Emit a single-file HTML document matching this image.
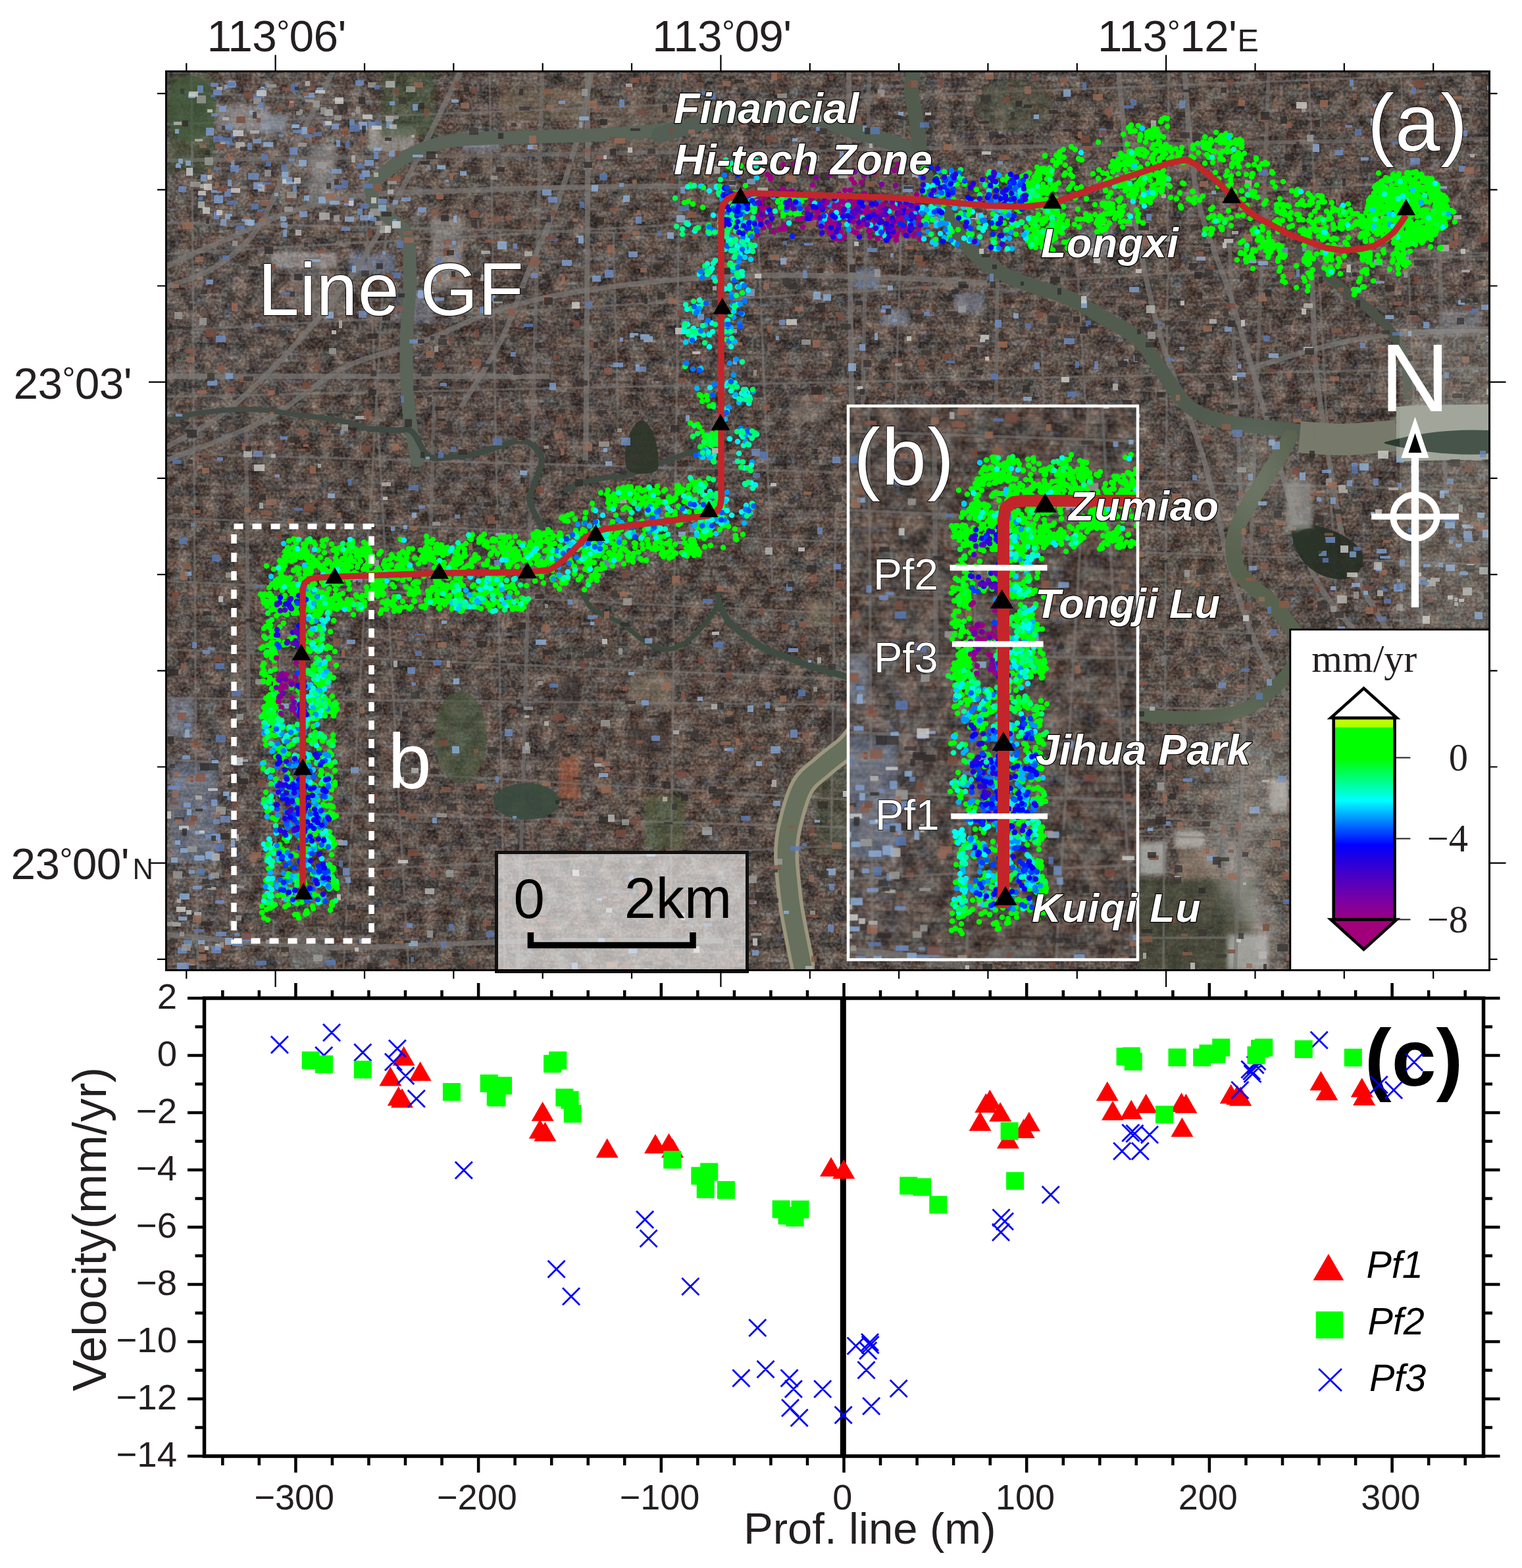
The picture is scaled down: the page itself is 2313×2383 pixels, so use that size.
<!DOCTYPE html><html><head><meta charset="utf-8"><title>Line GF InSAR</title><style>html,body{margin:0;padding:0;background:#fff;}svg{display:block;}</style></head><body><svg width="2313" height="2383" viewBox="0 0 2313 2383" font-family="Liberation Sans, Arial, Helvetica, sans-serif">
<defs>
<pattern id="bld1" width="96" height="96" patternUnits="userSpaceOnUse" patternTransform="rotate(2)"><rect x="1.0" y="2.0" width="10.8" height="4.7" fill="#7e6458"/><rect x="1.0" y="6.7" width="10.8" height="1.5" fill="#2a2624"/><rect x="13.8" y="2.0" width="7.6" height="4.7" fill="#a8a4a0"/><rect x="13.8" y="6.7" width="7.6" height="2.6" fill="#2a2624"/><rect x="22.6" y="2.0" width="4.2" height="4.7" fill="#a8a4a0"/><rect x="22.6" y="6.7" width="4.2" height="1.9" fill="#2a2624"/><rect x="29.3" y="2.0" width="4.0" height="4.7" fill="#6c84b0"/><rect x="29.3" y="6.7" width="4.0" height="1.5" fill="#2a2624"/><rect x="35.9" y="2.0" width="8.7" height="4.7" fill="#7e6458"/><rect x="35.9" y="6.7" width="8.7" height="2.8" fill="#2a2624"/><rect x="45.7" y="2.0" width="4.2" height="4.7" fill="#8c6c5e"/><rect x="45.7" y="6.7" width="4.2" height="2.9" fill="#2a2624"/><rect x="51.7" y="2.0" width="5.7" height="4.7" fill="#a8a4a0"/><rect x="51.7" y="6.7" width="5.7" height="2.5" fill="#2a2624"/><rect x="59.5" y="2.0" width="10.1" height="4.7" fill="#6c84b0"/><rect x="59.5" y="6.7" width="10.1" height="2.1" fill="#2a2624"/><rect x="71.3" y="2.0" width="9.4" height="4.7" fill="#6c84b0"/><rect x="71.3" y="6.7" width="9.4" height="2.9" fill="#2a2624"/><rect x="83.5" y="2.0" width="7.3" height="4.7" fill="#7e6458"/><rect x="83.5" y="6.7" width="7.3" height="1.4" fill="#2a2624"/><rect x="1.0" y="13.1" width="6.7" height="4.6" fill="#a8a4a0"/><rect x="1.0" y="17.7" width="6.7" height="2.0" fill="#2a2624"/><rect x="10.5" y="13.1" width="5.5" height="4.6" fill="#858280"/><rect x="10.5" y="17.7" width="5.5" height="2.2" fill="#2a2624"/><rect x="18.8" y="13.1" width="10.8" height="4.6" fill="#a8a4a0"/><rect x="18.8" y="17.7" width="10.8" height="2.2" fill="#2a2624"/><rect x="30.6" y="13.1" width="5.9" height="4.6" fill="#a8a4a0"/><rect x="30.6" y="17.7" width="5.9" height="1.8" fill="#2a2624"/><rect x="37.9" y="13.1" width="8.4" height="4.6" fill="#5e5452"/><rect x="37.9" y="17.7" width="8.4" height="1.2" fill="#2a2624"/><rect x="48.6" y="13.1" width="4.9" height="4.6" fill="#9a7a6a"/><rect x="48.6" y="17.7" width="4.9" height="2.0" fill="#2a2624"/><rect x="55.3" y="13.1" width="7.9" height="4.6" fill="#8c6c5e"/><rect x="55.3" y="17.7" width="7.9" height="1.9" fill="#2a2624"/><rect x="64.8" y="13.1" width="10.8" height="4.6" fill="#a8a4a0"/><rect x="64.8" y="17.7" width="10.8" height="2.3" fill="#2a2624"/><rect x="76.9" y="13.1" width="5.8" height="4.6" fill="#8c6c5e"/><rect x="76.9" y="17.7" width="5.8" height="2.5" fill="#2a2624"/><rect x="84.8" y="13.1" width="10.9" height="4.6" fill="#6e6a68"/><rect x="84.8" y="17.7" width="10.9" height="1.8" fill="#2a2624"/><rect x="1.0" y="24.1" width="11.3" height="5.8" fill="#8c6c5e"/><rect x="1.0" y="29.9" width="11.3" height="1.8" fill="#2a2624"/><rect x="15.0" y="24.1" width="11.6" height="5.8" fill="#9a7a6a"/><rect x="15.0" y="29.9" width="11.6" height="2.0" fill="#2a2624"/><rect x="28.8" y="24.1" width="7.4" height="5.8" fill="#8c6c5e"/><rect x="28.8" y="29.9" width="7.4" height="2.0" fill="#2a2624"/><rect x="37.9" y="24.1" width="8.4" height="5.8" fill="#a8a4a0"/><rect x="37.9" y="29.9" width="8.4" height="2.0" fill="#2a2624"/><rect x="48.0" y="24.1" width="6.8" height="5.8" fill="#5e5452"/><rect x="48.0" y="29.9" width="6.8" height="1.9" fill="#2a2624"/><rect x="55.9" y="24.1" width="5.8" height="5.8" fill="#9a7a6a"/><rect x="55.9" y="29.9" width="5.8" height="2.1" fill="#2a2624"/><rect x="63.1" y="24.1" width="4.7" height="5.8" fill="#858280"/><rect x="63.1" y="29.9" width="4.7" height="1.1" fill="#2a2624"/><rect x="70.7" y="24.1" width="4.6" height="5.8" fill="#8c6c5e"/><rect x="70.7" y="29.9" width="4.6" height="1.9" fill="#2a2624"/><rect x="77.8" y="24.1" width="6.2" height="5.8" fill="#858280"/><rect x="77.8" y="29.9" width="6.2" height="1.2" fill="#2a2624"/><rect x="86.3" y="24.1" width="6.8" height="5.8" fill="#7e6458"/><rect x="86.3" y="29.9" width="6.8" height="1.3" fill="#2a2624"/><rect x="1.0" y="36.7" width="9.2" height="7.3" fill="#858280"/><rect x="1.0" y="44.0" width="9.2" height="1.9" fill="#2a2624"/><rect x="11.8" y="36.7" width="7.8" height="7.3" fill="#8c6c5e"/><rect x="11.8" y="44.0" width="7.8" height="1.6" fill="#2a2624"/><rect x="21.3" y="36.7" width="10.4" height="7.3" fill="#858280"/><rect x="21.3" y="44.0" width="10.4" height="1.2" fill="#2a2624"/><rect x="34.5" y="36.7" width="8.1" height="7.3" fill="#6e6a68"/><rect x="34.5" y="44.0" width="8.1" height="2.9" fill="#2a2624"/><rect x="44.4" y="36.7" width="11.8" height="7.3" fill="#6e6a68"/><rect x="44.4" y="44.0" width="11.8" height="1.0" fill="#2a2624"/><rect x="57.5" y="36.7" width="9.8" height="7.3" fill="#9a7a6a"/><rect x="57.5" y="44.0" width="9.8" height="1.9" fill="#2a2624"/><rect x="69.3" y="36.7" width="7.4" height="7.3" fill="#6e6a68"/><rect x="69.3" y="44.0" width="7.4" height="3.0" fill="#2a2624"/><rect x="79.0" y="36.7" width="9.6" height="7.3" fill="#6c84b0"/><rect x="79.0" y="44.0" width="9.6" height="1.4" fill="#2a2624"/><rect x="90.8" y="36.7" width="7.2" height="7.3" fill="#5e5452"/><rect x="90.8" y="44.0" width="7.2" height="2.3" fill="#2a2624"/><rect x="1.0" y="49.9" width="5.7" height="4.6" fill="#8c6c5e"/><rect x="1.0" y="54.5" width="5.7" height="1.6" fill="#2a2624"/><rect x="9.4" y="49.9" width="6.5" height="4.6" fill="#858280"/><rect x="9.4" y="54.5" width="6.5" height="2.5" fill="#2a2624"/><rect x="17.7" y="49.9" width="6.0" height="4.6" fill="#8c6c5e"/><rect x="17.7" y="54.5" width="6.0" height="2.1" fill="#2a2624"/><rect x="26.4" y="49.9" width="8.7" height="4.6" fill="#6e6a68"/><rect x="26.4" y="54.5" width="8.7" height="2.9" fill="#2a2624"/><rect x="37.3" y="49.9" width="5.4" height="4.6" fill="#8c6c5e"/><rect x="37.3" y="54.5" width="5.4" height="1.8" fill="#2a2624"/><rect x="44.4" y="49.9" width="5.6" height="4.6" fill="#a8a4a0"/><rect x="44.4" y="54.5" width="5.6" height="2.2" fill="#2a2624"/><rect x="52.0" y="49.9" width="11.5" height="4.6" fill="#a8a4a0"/><rect x="52.0" y="54.5" width="11.5" height="1.6" fill="#2a2624"/><rect x="65.5" y="49.9" width="6.6" height="4.6" fill="#a8a4a0"/><rect x="65.5" y="54.5" width="6.6" height="2.8" fill="#2a2624"/><rect x="73.2" y="49.9" width="5.6" height="4.6" fill="#5e5452"/><rect x="73.2" y="54.5" width="5.6" height="2.6" fill="#2a2624"/><rect x="80.9" y="49.9" width="5.1" height="4.6" fill="#a8a4a0"/><rect x="80.9" y="54.5" width="5.1" height="1.4" fill="#2a2624"/><rect x="88.3" y="49.9" width="10.7" height="4.6" fill="#5e5452"/><rect x="88.3" y="54.5" width="10.7" height="2.8" fill="#2a2624"/><rect x="1.0" y="59.7" width="8.3" height="7.8" fill="#7e6458"/><rect x="1.0" y="67.5" width="8.3" height="2.5" fill="#2a2624"/><rect x="10.4" y="59.7" width="5.4" height="7.8" fill="#6e6a68"/><rect x="10.4" y="67.5" width="5.4" height="1.5" fill="#2a2624"/><rect x="17.5" y="59.7" width="8.0" height="7.8" fill="#858280"/><rect x="17.5" y="67.5" width="8.0" height="1.7" fill="#2a2624"/><rect x="27.2" y="59.7" width="6.3" height="7.8" fill="#6c84b0"/><rect x="27.2" y="67.5" width="6.3" height="1.3" fill="#2a2624"/><rect x="35.6" y="59.7" width="4.8" height="7.8" fill="#8c6c5e"/><rect x="35.6" y="67.5" width="4.8" height="1.8" fill="#2a2624"/><rect x="42.2" y="59.7" width="11.9" height="7.8" fill="#9a7a6a"/><rect x="42.2" y="67.5" width="11.9" height="2.7" fill="#2a2624"/><rect x="55.8" y="59.7" width="8.9" height="7.8" fill="#a8a4a0"/><rect x="55.8" y="67.5" width="8.9" height="1.2" fill="#2a2624"/><rect x="66.8" y="59.7" width="8.5" height="7.8" fill="#858280"/><rect x="66.8" y="67.5" width="8.5" height="1.7" fill="#2a2624"/><rect x="77.0" y="59.7" width="8.3" height="7.8" fill="#7e6458"/><rect x="77.0" y="67.5" width="8.3" height="1.9" fill="#2a2624"/><rect x="86.8" y="59.7" width="10.3" height="7.8" fill="#858280"/><rect x="86.8" y="67.5" width="10.3" height="1.0" fill="#2a2624"/><rect x="1.0" y="70.9" width="11.1" height="4.6" fill="#8c6c5e"/><rect x="1.0" y="75.5" width="11.1" height="1.4" fill="#2a2624"/><rect x="14.7" y="70.9" width="8.7" height="4.6" fill="#9a7a6a"/><rect x="14.7" y="75.5" width="8.7" height="1.2" fill="#2a2624"/><rect x="24.7" y="70.9" width="5.9" height="4.6" fill="#7e6458"/><rect x="24.7" y="75.5" width="5.9" height="1.9" fill="#2a2624"/><rect x="33.5" y="70.9" width="10.5" height="4.6" fill="#858280"/><rect x="33.5" y="75.5" width="10.5" height="2.1" fill="#2a2624"/><rect x="46.4" y="70.9" width="6.5" height="4.6" fill="#6e6a68"/><rect x="46.4" y="75.5" width="6.5" height="2.3" fill="#2a2624"/><rect x="54.0" y="70.9" width="4.1" height="4.6" fill="#858280"/><rect x="54.0" y="75.5" width="4.1" height="2.5" fill="#2a2624"/><rect x="59.7" y="70.9" width="7.1" height="4.6" fill="#a8a4a0"/><rect x="59.7" y="75.5" width="7.1" height="1.1" fill="#2a2624"/><rect x="69.7" y="70.9" width="11.8" height="4.6" fill="#6c84b0"/><rect x="69.7" y="75.5" width="11.8" height="1.2" fill="#2a2624"/><rect x="82.9" y="70.9" width="8.9" height="4.6" fill="#6c84b0"/><rect x="82.9" y="75.5" width="8.9" height="2.3" fill="#2a2624"/><rect x="1.0" y="80.6" width="6.0" height="5.5" fill="#7e6458"/><rect x="1.0" y="86.2" width="6.0" height="2.6" fill="#2a2624"/><rect x="8.1" y="80.6" width="10.0" height="5.5" fill="#7e6458"/><rect x="8.1" y="86.2" width="10.0" height="2.3" fill="#2a2624"/><rect x="20.5" y="80.6" width="11.5" height="5.5" fill="#a8a4a0"/><rect x="20.5" y="86.2" width="11.5" height="2.9" fill="#2a2624"/><rect x="33.1" y="80.6" width="5.5" height="5.5" fill="#858280"/><rect x="33.1" y="86.2" width="5.5" height="1.5" fill="#2a2624"/><rect x="39.8" y="80.6" width="8.9" height="5.5" fill="#7e6458"/><rect x="39.8" y="86.2" width="8.9" height="1.5" fill="#2a2624"/><rect x="49.7" y="80.6" width="6.0" height="5.5" fill="#7e6458"/><rect x="49.7" y="86.2" width="6.0" height="1.5" fill="#2a2624"/><rect x="58.4" y="80.6" width="9.8" height="5.5" fill="#8c6c5e"/><rect x="58.4" y="86.2" width="9.8" height="2.3" fill="#2a2624"/><rect x="69.8" y="80.6" width="10.3" height="5.5" fill="#6c84b0"/><rect x="69.8" y="86.2" width="10.3" height="1.9" fill="#2a2624"/><rect x="82.9" y="80.6" width="4.8" height="5.5" fill="#5e5452"/><rect x="82.9" y="86.2" width="4.8" height="1.2" fill="#2a2624"/><rect x="90.6" y="80.6" width="5.4" height="5.5" fill="#9a7a6a"/><rect x="90.6" y="86.2" width="5.4" height="3.0" fill="#2a2624"/></pattern><pattern id="bld2" width="80" height="80" patternUnits="userSpaceOnUse" patternTransform="rotate(-3) translate(17 23)"><rect x="1.0" y="2.0" width="11.6" height="8.8" fill="#8c6c5e"/><rect x="1.0" y="10.8" width="11.6" height="1.2" fill="#2a2624"/><rect x="14.3" y="2.0" width="5.4" height="8.8" fill="#858280"/><rect x="14.3" y="10.8" width="5.4" height="1.5" fill="#2a2624"/><rect x="21.1" y="2.0" width="4.3" height="8.8" fill="#9a7a6a"/><rect x="21.1" y="10.8" width="4.3" height="3.0" fill="#2a2624"/><rect x="27.6" y="2.0" width="10.4" height="8.8" fill="#5e5452"/><rect x="27.6" y="10.8" width="10.4" height="2.1" fill="#2a2624"/><rect x="40.0" y="2.0" width="6.1" height="8.8" fill="#8c6c5e"/><rect x="40.0" y="10.8" width="6.1" height="2.7" fill="#2a2624"/><rect x="47.8" y="2.0" width="11.5" height="8.8" fill="#a8a4a0"/><rect x="47.8" y="10.8" width="11.5" height="1.8" fill="#2a2624"/><rect x="62.1" y="2.0" width="5.3" height="8.8" fill="#9a7a6a"/><rect x="62.1" y="10.8" width="5.3" height="1.5" fill="#2a2624"/><rect x="68.4" y="2.0" width="6.6" height="8.8" fill="#9a7a6a"/><rect x="68.4" y="10.8" width="6.6" height="2.0" fill="#2a2624"/><rect x="1.0" y="15.8" width="12.0" height="6.8" fill="#6c84b0"/><rect x="1.0" y="22.6" width="12.0" height="2.6" fill="#2a2624"/><rect x="15.4" y="15.8" width="11.3" height="6.8" fill="#5e5452"/><rect x="15.4" y="22.6" width="11.3" height="2.6" fill="#2a2624"/><rect x="28.4" y="15.8" width="11.8" height="6.8" fill="#6c84b0"/><rect x="28.4" y="22.6" width="11.8" height="1.3" fill="#2a2624"/><rect x="42.7" y="15.8" width="9.7" height="6.8" fill="#6c84b0"/><rect x="42.7" y="22.6" width="9.7" height="2.3" fill="#2a2624"/><rect x="54.0" y="15.8" width="6.2" height="6.8" fill="#6c84b0"/><rect x="54.0" y="22.6" width="6.2" height="2.0" fill="#2a2624"/><rect x="62.9" y="15.8" width="6.8" height="6.8" fill="#6c84b0"/><rect x="62.9" y="22.6" width="6.8" height="2.8" fill="#2a2624"/><rect x="71.6" y="15.8" width="8.5" height="6.8" fill="#6c84b0"/><rect x="71.6" y="22.6" width="8.5" height="2.0" fill="#2a2624"/><rect x="1.0" y="26.9" width="5.3" height="7.5" fill="#858280"/><rect x="1.0" y="34.4" width="5.3" height="2.5" fill="#2a2624"/><rect x="8.3" y="26.9" width="6.4" height="7.5" fill="#a8a4a0"/><rect x="8.3" y="34.4" width="6.4" height="1.6" fill="#2a2624"/><rect x="16.1" y="26.9" width="8.1" height="7.5" fill="#7e6458"/><rect x="16.1" y="34.4" width="8.1" height="2.6" fill="#2a2624"/><rect x="25.9" y="26.9" width="4.1" height="7.5" fill="#6e6a68"/><rect x="25.9" y="34.4" width="4.1" height="3.0" fill="#2a2624"/><rect x="31.2" y="26.9" width="8.6" height="7.5" fill="#8c6c5e"/><rect x="31.2" y="34.4" width="8.6" height="1.5" fill="#2a2624"/><rect x="41.2" y="26.9" width="11.0" height="7.5" fill="#7e6458"/><rect x="41.2" y="34.4" width="11.0" height="2.5" fill="#2a2624"/><rect x="53.5" y="26.9" width="6.1" height="7.5" fill="#6e6a68"/><rect x="53.5" y="34.4" width="6.1" height="2.9" fill="#2a2624"/><rect x="60.8" y="26.9" width="11.2" height="7.5" fill="#8c6c5e"/><rect x="60.8" y="34.4" width="11.2" height="1.1" fill="#2a2624"/><rect x="73.7" y="26.9" width="6.0" height="7.5" fill="#8c6c5e"/><rect x="73.7" y="34.4" width="6.0" height="1.2" fill="#2a2624"/><rect x="1.0" y="37.5" width="4.2" height="7.6" fill="#858280"/><rect x="1.0" y="45.2" width="4.2" height="1.3" fill="#2a2624"/><rect x="8.0" y="37.5" width="9.9" height="7.6" fill="#8c6c5e"/><rect x="8.0" y="45.2" width="9.9" height="1.8" fill="#2a2624"/><rect x="19.0" y="37.5" width="11.9" height="7.6" fill="#9a7a6a"/><rect x="19.0" y="45.2" width="11.9" height="2.9" fill="#2a2624"/><rect x="31.9" y="37.5" width="11.5" height="7.6" fill="#7e6458"/><rect x="31.9" y="45.2" width="11.5" height="1.6" fill="#2a2624"/><rect x="45.4" y="37.5" width="6.5" height="7.6" fill="#8c6c5e"/><rect x="45.4" y="45.2" width="6.5" height="2.8" fill="#2a2624"/><rect x="54.4" y="37.5" width="10.9" height="7.6" fill="#9a7a6a"/><rect x="54.4" y="45.2" width="10.9" height="1.9" fill="#2a2624"/><rect x="66.7" y="37.5" width="9.3" height="7.6" fill="#5e5452"/><rect x="66.7" y="45.2" width="9.3" height="2.7" fill="#2a2624"/><rect x="1.0" y="51.3" width="8.1" height="8.7" fill="#a8a4a0"/><rect x="1.0" y="60.1" width="8.1" height="2.0" fill="#2a2624"/><rect x="10.8" y="51.3" width="11.0" height="8.7" fill="#5e5452"/><rect x="10.8" y="60.1" width="11.0" height="1.5" fill="#2a2624"/><rect x="24.0" y="51.3" width="7.4" height="8.7" fill="#8c6c5e"/><rect x="24.0" y="60.1" width="7.4" height="2.4" fill="#2a2624"/><rect x="34.3" y="51.3" width="9.4" height="8.7" fill="#858280"/><rect x="34.3" y="60.1" width="9.4" height="1.1" fill="#2a2624"/><rect x="45.0" y="51.3" width="4.8" height="8.7" fill="#6e6a68"/><rect x="45.0" y="60.1" width="4.8" height="2.0" fill="#2a2624"/><rect x="52.7" y="51.3" width="11.5" height="8.7" fill="#6e6a68"/><rect x="52.7" y="60.1" width="11.5" height="1.5" fill="#2a2624"/><rect x="66.1" y="51.3" width="6.0" height="8.7" fill="#6e6a68"/><rect x="66.1" y="60.1" width="6.0" height="2.2" fill="#2a2624"/><rect x="74.7" y="51.3" width="9.7" height="8.7" fill="#858280"/><rect x="74.7" y="60.1" width="9.7" height="2.4" fill="#2a2624"/><rect x="1.0" y="66.1" width="7.1" height="4.8" fill="#9a7a6a"/><rect x="1.0" y="70.8" width="7.1" height="1.2" fill="#2a2624"/><rect x="10.5" y="66.1" width="5.9" height="4.8" fill="#7e6458"/><rect x="10.5" y="70.8" width="5.9" height="1.0" fill="#2a2624"/><rect x="19.0" y="66.1" width="4.8" height="4.8" fill="#8c6c5e"/><rect x="19.0" y="70.8" width="4.8" height="2.0" fill="#2a2624"/><rect x="25.7" y="66.1" width="6.5" height="4.8" fill="#a8a4a0"/><rect x="25.7" y="70.8" width="6.5" height="1.4" fill="#2a2624"/><rect x="35.0" y="66.1" width="11.7" height="4.8" fill="#a8a4a0"/><rect x="35.0" y="70.8" width="11.7" height="1.9" fill="#2a2624"/><rect x="47.8" y="66.1" width="8.7" height="4.8" fill="#a8a4a0"/><rect x="47.8" y="70.8" width="8.7" height="2.9" fill="#2a2624"/><rect x="58.7" y="66.1" width="11.4" height="4.8" fill="#6c84b0"/><rect x="58.7" y="70.8" width="11.4" height="1.7" fill="#2a2624"/><rect x="72.1" y="66.1" width="11.4" height="4.8" fill="#5e5452"/><rect x="72.1" y="70.8" width="11.4" height="1.6" fill="#2a2624"/></pattern><filter id="nmask" x="0" y="0" width="100%" height="100%"><feTurbulence type="fractalNoise" baseFrequency="0.012" numOctaves="2" seed="21"/><feColorMatrix type="matrix" values="0 0 0 0 1  0 0 0 0 1  0 0 0 0 1  3 0 0 0 -1.2"/></filter><mask id="m1" maskUnits="userSpaceOnUse" x="252" y="108" width="2012" height="1367"><rect x="252" y="108" width="2012" height="1367" filter="url(#nmask)"/></mask><filter id="tex" x="0" y="0" width="100%" height="100%" color-interpolation-filters="sRGB">
<feTurbulence type="fractalNoise" baseFrequency="0.24" numOctaves="2" seed="5" result="n"/>
<feColorMatrix in="n" type="matrix" values="1.6 0 0 0 -0.47  1.6 0 0 0 -0.50  1.6 0 0 0 -0.52  0 0 0 0 1"/>
<feGaussianBlur stdDeviation="0.7"/>
</filter>
<filter id="tex2" x="0" y="0" width="100%" height="100%" color-interpolation-filters="sRGB">
<feTurbulence type="fractalNoise" baseFrequency="0.045" numOctaves="3" seed="9" result="m"/>
<feColorMatrix in="m" type="matrix" values="1.2 0.4 0 0 -0.44  1.2 0.05 0 0 -0.315  1.1 -0.05 0 0 -0.245  0 0 0 0 1"/>
</filter>
<filter id="blur40" x="-50%" y="-50%" width="200%" height="200%"><feGaussianBlur stdDeviation="35"/></filter>
<filter id="blur3" x="-20%" y="-20%" width="140%" height="140%"><feGaussianBlur stdDeviation="3"/></filter>
<filter id="blur18" x="-50%" y="-50%" width="200%" height="200%"><feGaussianBlur stdDeviation="14"/></filter>
<clipPath id="mapclip"><rect x="252.5" y="108.5" width="2011" height="1366"/></clipPath>
<clipPath id="insetclip"><rect x="1289" y="617" width="440" height="841.5"/></clipPath>
<linearGradient id="cb" x1="0" y1="0" x2="0" y2="1">
<stop offset="0" stop-color="#ccff00"/><stop offset="0.045" stop-color="#a8ff00"/><stop offset="0.05" stop-color="#00ff00"/>
<stop offset="0.2" stop-color="#00ff00"/><stop offset="0.32" stop-color="#00ff90"/><stop offset="0.41" stop-color="#00ffff"/>
<stop offset="0.53" stop-color="#0070ff"/><stop offset="0.63" stop-color="#0000ff"/><stop offset="0.70" stop-color="#2200e0"/>
<stop offset="0.80" stop-color="#5000c0"/><stop offset="0.90" stop-color="#7800a4"/><stop offset="1" stop-color="#9a0080"/>
</linearGradient>
</defs>
<rect width="2313" height="2383" fill="#fff"/>
<g id="mapc" clip-path="url(#mapclip)">
<g id="sat"><rect x="252.5" y="108.5" width="2011.0" height="1366.0" fill="#524843"/>
<g filter="url(#blur40)">
<ellipse cx="420" cy="230" rx="190" ry="130" fill="#8a8684" opacity="0.45"/>
<ellipse cx="330" cy="500" rx="90" ry="160" fill="#7a7a82" opacity="0.3"/>
<ellipse cx="700" cy="300" rx="160" ry="110" fill="#7b7064" opacity="0.35"/>
<ellipse cx="950" cy="180" rx="150" ry="80" fill="#746e66" opacity="0.3"/>
<ellipse cx="300" cy="1250" rx="80" ry="200" fill="#7c8494" opacity="0.35"/>
<ellipse cx="1150" cy="560" rx="120" ry="200" fill="#463f3d" opacity="0.45"/>
<ellipse cx="800" cy="620" rx="200" ry="160" fill="#4e4542" opacity="0.35"/>
<ellipse cx="1450" cy="250" rx="200" ry="90" fill="#6d6a64" opacity="0.3"/>
<ellipse cx="1650" cy="700" rx="170" ry="140" fill="#6b6763" opacity="0.25"/>
<ellipse cx="2000" cy="1250" rx="160" ry="220" fill="#7e7c62" opacity="0.45"/>
<ellipse cx="1880" cy="1150" rx="90" ry="160" fill="#8a8a80" opacity="0.4"/>
<ellipse cx="2190" cy="400" rx="90" ry="260" fill="#77716c" opacity="0.35"/>
<ellipse cx="1800" cy="870" rx="150" ry="90" fill="#5e5d56" opacity="0.2"/>
<ellipse cx="600" cy="1200" rx="220" ry="180" fill="#5a504c" opacity="0.25"/>
<ellipse cx="1020" cy="1170" rx="160" ry="110" fill="#7e5c4a" opacity="0.3"/>
<ellipse cx="1820" cy="930" rx="120" ry="150" fill="#7a6252" opacity="0.3"/>
<ellipse cx="1560" cy="520" rx="150" ry="80" fill="#6e5a50" opacity="0.25"/>
<ellipse cx="1750" cy="160" rx="180" ry="60" fill="#6a5a50" opacity="0.25"/>
</g>
<rect x="252.5" y="108.5" width="2011.0" height="1366.0" fill="url(#bld1)" opacity="0.45"/>
<rect x="252.5" y="108.5" width="2011.0" height="1366.0" fill="url(#bld2)" opacity="0.5" mask="url(#m1)"/>
<rect x="252.5" y="108.5" width="2011.0" height="1366.0" filter="url(#tex2)" opacity="0.42"/>
<rect x="252.5" y="108.5" width="2011.0" height="1366.0" filter="url(#tex)" opacity="0.22"/>
<g opacity="0.9">
<rect x="1730" y="1335" width="175" height="140" fill="#3f4a36" opacity="0.7" filter="url(#blur3)"/>
<rect x="1731" y="1280" width="41" height="50" fill="#b4b6b2" opacity="0.85" filter="url(#blur3)"/>
<rect x="1785" y="1262" width="45" height="28" fill="#c2c0ba" opacity="0.8" filter="url(#blur3)"/>
<rect x="1865" y="1420" width="62" height="55" fill="#c8cac6" opacity="0.75" filter="url(#blur3)"/>
<rect x="1930" y="1185" width="28" height="50" fill="#d0ccc4" opacity="0.7" filter="url(#blur3)"/>
<rect x="1790" y="1290" width="60" height="45" fill="#a89580" opacity="0.6" filter="url(#blur3)"/>
<rect x="255" y="112" width="70" height="150" fill="#3f5538" opacity="0.55" filter="url(#blur3)"/>
<rect x="330" y="160" width="80" height="40" fill="#c0c4c8" opacity="0.45" filter="url(#blur3)"/>
<rect x="395" y="175" width="40" height="25" fill="#9fb0c8" opacity="0.6" filter="url(#blur3)"/>
<rect x="470" y="220" width="40" height="90" fill="#b8bcc0" opacity="0.45" filter="url(#blur3)"/>
<rect x="560" y="190" width="70" height="40" fill="#c4c4c0" opacity="0.5" filter="url(#blur3)"/>
<rect x="700" y="200" width="60" height="30" fill="#9cb0cc" opacity="0.5" filter="url(#blur3)"/>
<rect x="580" y="108" width="80" height="100" fill="#3d5636" opacity="0.5" filter="url(#blur3)"/>
<rect x="760" y="134" width="128" height="48" fill="#8c7a62" opacity="0.4" filter="url(#blur3)"/>
<rect x="920" y="160" width="110" height="70" fill="#8a7a68" opacity="0.35" filter="url(#blur3)"/>
<rect x="655" y="330" width="50" height="110" fill="#c8c8c8" opacity="0.4" filter="url(#blur3)"/>
<rect x="412" y="383" width="100" height="25" fill="#c8c8cc" opacity="0.5" filter="url(#blur3)"/>
<rect x="440" y="410" width="80" height="70" fill="#a8a4a0" opacity="0.35" filter="url(#blur3)"/>
<rect x="530" y="385" width="70" height="30" fill="#7f9ccc" opacity="0.45" filter="url(#blur3)"/>
<rect x="600" y="440" width="60" height="50" fill="#8aa0c8" opacity="0.35" filter="url(#blur3)"/>
<rect x="260" y="1160" width="70" height="150" fill="#7f95b8" opacity="0.45" filter="url(#blur3)"/>
<rect x="255" y="1060" width="40" height="60" fill="#9db0d0" opacity="0.4" filter="url(#blur3)"/>
<rect x="440" y="1420" width="60" height="50" fill="#a0a8a8" opacity="0.35" filter="url(#blur3)"/>
<rect x="850" y="1150" width="30" height="65" fill="#b86040" opacity="0.55" filter="url(#blur3)"/>
<rect x="955" y="1100" width="60" height="45" fill="#3a3432" opacity="0.5" filter="url(#blur3)"/>
<rect x="850" y="1030" width="30" height="50" fill="#353130" opacity="0.5" filter="url(#blur3)"/>
<rect x="1255" y="1080" width="30" height="60" fill="#353130" opacity="0.5" filter="url(#blur3)"/>
<rect x="955" y="1025" width="70" height="50" fill="#9a8c78" opacity="0.45" filter="url(#blur3)"/>
<rect x="1225" y="915" width="40" height="35" fill="#9a8a70" opacity="0.45" filter="url(#blur3)"/>
<rect x="980" y="1210" width="60" height="80" fill="#4f6440" opacity="0.55" filter="url(#blur3)"/>
<rect x="1240" y="1170" width="50" height="130" fill="#4d5c42" opacity="0.45" filter="url(#blur3)"/>
<rect x="1405" y="1418" width="80" height="55" fill="#8a8c88" opacity="0.4" filter="url(#blur3)"/>
<rect x="1530" y="1345" width="70" height="40" fill="#8a8070" opacity="0.3" filter="url(#blur3)"/>
<rect x="1640" y="350" width="50" height="40" fill="#a4b0c0" opacity="0.4" filter="url(#blur3)"/>
<rect x="1300" y="410" width="35" height="30" fill="#8aa6d0" opacity="0.6" filter="url(#blur3)"/>
<rect x="1340" y="470" width="40" height="25" fill="#a0b4d0" opacity="0.5" filter="url(#blur3)"/>
<rect x="1450" y="445" width="45" height="30" fill="#98a8c4" opacity="0.5" filter="url(#blur3)"/>
<rect x="1200" y="600" width="60" height="40" fill="#a89c8c" opacity="0.35" filter="url(#blur3)"/>
<rect x="2150" y="610" width="100" height="60" fill="#b0b0a8" opacity="0.3" filter="url(#blur3)"/>
<rect x="2190" y="470" width="60" height="40" fill="#9ca8b8" opacity="0.4" filter="url(#blur3)"/>
</g>
<g filter="url(#blur18)"><ellipse cx="1890" cy="1350" rx="28" ry="85" transform="rotate(-25 1890 1350)" fill="#b8b8b4" opacity="0.55"/><ellipse cx="1930" cy="1440" rx="20" ry="40" fill="#b0b0ac" opacity="0.4"/></g>
<path d="M291 108L300 1474M426 972L415 1434M544 108L621 1474M601 108L522 1474M744 108L767 1474M932 353L939 633M1034 108L1018 1474M1151 332L1174 892M1270 779L1263 1280M1375 172L1359 681M1462 889L1461 1098M1583 529L1608 1063M1636 384L1665 882M1703 730L1690 989M1776 108L1768 1474M1988 108L2061 1474M2064 1135L2052 1392M2129 108L2182 1474M281 140L579 155M252 189L2264 111M252 338L2264 385M252 386L2264 270M252 503L2264 388M252 603L2264 559M252 689L2264 746M252 787L2264 858M252 883L2264 980M252 987L2264 1075M252 1061L2264 1081M252 1154L2264 1273M252 1228L2264 1285M252 1336L2264 1236M1447 1426L1871 1425" stroke="#7a7876" stroke-width="3.5" opacity="0.55" fill="none"/>
<path d="M374 654L378 1088M660 603L650 951M824 108L787 1474M1321 108L1294 1474M1516 396L1510 983M1864 273L1889 832M1928 108L1877 1474M2187 352L2197 754M252 244L2264 211" stroke="#74726f" stroke-width="6" opacity="0.6" fill="none"/>
<path d="M252 700C277 690 355 663 400 640C445 617 480 580 520 560C560 540 600 535 640 520C680 505 717 483 760 470C803 457 843 448 900 440C957 432 1033 423 1100 420C1167 417 1233 418 1300 420C1367 422 1467 428 1500 430" stroke="#7a7875" stroke-width="8" opacity="0.7" fill="none"/>
<path d="M252 680C268 670 314 650 350 620C386 590 435 540 470 500C505 460 532 425 560 380C588 335 617 275 640 230C663 185 690 128 700 108" stroke="#7a7875" stroke-width="8" opacity="0.7" fill="none"/>
<path d="M900 108C897 123 888 168 880 200C872 232 863 263 850 300C837 337 815 383 800 420C785 457 777 487 760 520C743 553 710 603 700 620" stroke="#7a7875" stroke-width="8" opacity="0.7" fill="none"/>
<path d="M1290 108C1290 157 1291 301 1292 400C1293 499 1294 617 1295 700C1296 783 1299 867 1300 900" stroke="#7a7875" stroke-width="8" opacity="0.7" fill="none"/>
<path d="M1800 108C1803 140 1808 243 1820 300C1832 357 1853 397 1870 450C1887 503 1905 568 1920 620C1935 672 1947 717 1960 760C1973 803 1980 843 2000 880C2020 917 2047 947 2080 980C2113 1013 2180 1063 2200 1080" stroke="#7a7875" stroke-width="8" opacity="0.7" fill="none"/>
<path d="M1700 108C1703 140 1710 235 1720 300C1730 365 1742 433 1760 500C1778 567 1810 633 1830 700C1850 767 1860 842 1880 900C1900 958 1913 1000 1950 1050C1987 1100 2048 1158 2100 1200C2152 1242 2235 1283 2262 1300" stroke="#7a7875" stroke-width="8" opacity="0.7" fill="none"/>
<path d="M1900 560C1917 555 1967 538 2000 530C2033 522 2056 515 2100 510C2144 505 2235 502 2262 500" stroke="#7a7875" stroke-width="8" opacity="0.7" fill="none"/>
<path d="M1990 330C1991 350 1993 412 1995 450C1997 488 1996 518 2000 560C2004 602 2012 652 2020 700C2028 748 2035 807 2050 850C2065 893 2100 942 2110 960" stroke="#7a7875" stroke-width="8" opacity="0.7" fill="none"/>
<path d="M252 1420C293 1423 409 1438 500 1440C591 1442 700 1432 800 1430C900 1428 1050 1430 1100 1430" stroke="#7a7875" stroke-width="8" opacity="0.7" fill="none"/>
<path d="M252 405C265 399 302 382 330 370C358 358 392 341 420 330C448 319 475 311 500 305C525 299 537 298 570 295C603 292 653 292 700 290C747 288 800 286 850 285C900 284 958 283 1000 283C1042 283 1083 283 1100 283" stroke="#7a7875" stroke-width="8" opacity="0.7" fill="none"/>
<path d="M506 108C500 120 483 153 470 180C457 207 444 240 430 270C416 300 402 334 384 357C366 380 342 397 320 410C298 423 263 432 252 436" stroke="#7a7875" stroke-width="8" opacity="0.7" fill="none"/>
<path d="M893 108C893 140 893 235 893 300C893 365 892 433 892 500C892 567 890 667 890 700" stroke="#7a7875" stroke-width="8" opacity="0.7" fill="none"/>
<path d="M252 572C285 572 384 572 450 572C516 572 586 572 650 572C714 572 804 572 835 572" stroke="#7a7875" stroke-width="8" opacity="0.7" fill="none"/>
<path d="M1047 193C1032 194 986 200 960 202C934 204 918 205 888 206C858 207 816 208 782 209C748 210 714 210 687 214C660 218 641 226 623 235C605 244 590 258 580 267C570 276 567 281 565 288C563 295 566 302 570 309C574 316 583 323 591 331C599 339 613 341 618 357C623 373 623 401 623 426C623 451 619 481 618 505C617 529 617 547 618 569C619 591 620 616 623 638C626 660 632 690 634 700" stroke="#5a6459" stroke-width="20" fill="none" stroke-linecap="round" stroke-linejoin="round"/>
<path d="M1002 205C1012 202 1044 193 1060 188C1076 183 1080 178 1100 176C1120 174 1157 173 1180 174C1203 175 1222 176 1240 180C1258 184 1275 191 1290 196C1305 201 1317 204 1330 208C1343 212 1358 218 1370 222C1382 226 1395 230 1400 232" stroke="#535e54" stroke-width="24" fill="none" stroke-linecap="round" stroke-linejoin="round"/>
<path d="M1388 108C1388 113 1384 128 1385 140C1386 152 1390 166 1392 180C1394 194 1395 209 1398 226C1401 243 1405 263 1412 280C1419 297 1429 312 1440 330C1451 348 1465 370 1480 385C1495 400 1511 409 1528 418C1545 427 1564 432 1580 438C1596 444 1605 444 1623 452C1641 460 1668 478 1686 488C1704 498 1717 503 1730 515C1743 527 1750 543 1763 560C1776 577 1790 604 1806 617C1822 630 1838 635 1857 640C1876 645 1902 647 1920 649C1938 651 1951 652 1966 654C1981 656 2003 659 2010 660" stroke="#515c4f" stroke-width="22" fill="none" stroke-linecap="round" stroke-linejoin="round"/>
<path d="M1975 664C1986 665 2019 668 2040 668C2061 668 2086 665 2100 664C2114 663 2122 662 2126 661" stroke="#777a6a" stroke-width="48" fill="none" stroke-linecap="butt" stroke-linejoin="round"/>
<path d="M2122 660C2128 660 2145 658 2160 658C2175 658 2191 657 2210 657C2229 657 2264 656 2275 656" stroke="#9a9e92" stroke-width="84" fill="none" stroke-linecap="butt" stroke-linejoin="round"/>
<path d="M1975 380C1984 388 2012 415 2030 430C2048 445 2066 458 2080 470C2094 482 2106 492 2115 505C2124 518 2131 529 2135 545C2139 561 2139 591 2140 600" stroke="#4b5247" stroke-width="14" fill="none" stroke-linecap="round" stroke-linejoin="round"/>
<path d="M1960 665C1957 671 1947 689 1940 700C1933 711 1929 716 1920 731C1911 746 1894 772 1886 789C1878 806 1874 817 1874 831C1874 845 1876 860 1886 874C1896 888 1921 904 1934 918C1947 932 1954 942 1963 955C1972 968 1986 988 1990 995" stroke="#59624f" stroke-width="24" fill="none" stroke-linecap="round" stroke-linejoin="round"/>
<path d="M1700 1083C1705 1084 1713 1085 1731 1086C1749 1087 1782 1092 1806 1091C1830 1090 1858 1088 1877 1083C1896 1078 1907 1070 1920 1060C1933 1050 1948 1035 1957 1023C1966 1011 1972 996 1975 990" stroke="#56614f" stroke-width="20" fill="none" stroke-linecap="round" stroke-linejoin="round"/>
<path d="M1300 1120C1298 1123 1293 1130 1285 1137C1277 1144 1261 1155 1250 1165C1239 1175 1227 1181 1219 1196C1211 1211 1204 1238 1200 1255C1196 1272 1195 1282 1195 1300C1195 1318 1198 1340 1200 1360C1202 1380 1206 1400 1210 1420C1214 1440 1220 1470 1222 1480" stroke="#9c967e" stroke-width="38" fill="none" stroke-linecap="round" stroke-linejoin="round"/>
<path d="M1300 1120C1298 1123 1293 1130 1285 1137C1277 1144 1261 1155 1250 1165C1239 1175 1227 1181 1219 1196C1211 1211 1204 1238 1200 1255C1196 1272 1195 1282 1195 1300C1195 1318 1198 1340 1200 1360C1202 1380 1206 1400 1210 1420C1214 1440 1220 1470 1222 1480" stroke="#66705c" stroke-width="27" fill="none" stroke-linecap="round" stroke-linejoin="round"/>
<path d="M885 900C888 904 890 917 900 925C910 933 931 939 944 947C957 955 968 968 980 975C992 982 1003 988 1015 987C1027 986 1038 980 1050 970C1062 960 1079 940 1086 928C1093 916 1091 905 1092 900" stroke="#3c4a3e" stroke-width="7" fill="none" stroke-linecap="round" stroke-linejoin="round"/>
<path d="M1092 915C1095 920 1099 936 1110 947C1121 958 1142 974 1157 983C1172 992 1188 995 1200 1000C1212 1005 1214 1006 1228 1011C1242 1016 1274 1025 1285 1028C1296 1031 1293 1030 1295 1030" stroke="#3f4c42" stroke-width="10" fill="none" stroke-linecap="round" stroke-linejoin="round"/>
<path d="M560 652C567 652 589 653 600 654C611 655 617 649 626 656C635 663 641 688 652 694C663 700 679 694 690 694C701 694 706 694 718 691C730 688 747 682 760 678C773 674 786 667 797 670C808 673 820 685 823 696C826 707 815 724 812 735C809 746 803 751 805 762C807 773 820 794 823 800" stroke="#3f4a42" stroke-width="9" fill="none" stroke-linecap="round" stroke-linejoin="round"/>
<path d="M860 745C865 743 878 736 888 733C898 730 909 728 920 726C931 724 941 726 954 722C967 718 982 712 1000 705C1018 698 1050 687 1060 683" stroke="#3f4a42" stroke-width="8" fill="none" stroke-linecap="round" stroke-linejoin="round"/>
<path d="M252 640C260 638 279 631 300 628C321 625 355 622 380 622C405 622 427 627 450 630C473 633 502 636 520 640C538 644 553 650 560 652" stroke="#434c44" stroke-width="8" fill="none" stroke-linecap="round" stroke-linejoin="round"/>
<path d="M2104 672Q2180 650 2264 654V690Q2180 694 2104 674z" fill="#2b3a30"/>
<path d="M1962 800C1990 790 2040 805 2068 835C2080 860 2060 885 2030 880C1995 875 1965 850 1962 800z" fill="#262e24" opacity="0.9"/>
<path d="M975 638C995 645 1003 690 1000 712C996 722 960 724 952 712C945 690 955 645 975 638z" fill="#2c3528" opacity="0.9"/>
<ellipse cx="800" cy="1218" rx="50" ry="28" fill="#3a4a3e" opacity="0.9"/>
<ellipse cx="700" cy="1120" rx="40" ry="70" fill="#4a5a40" opacity="0.6"/>
<ellipse cx="290" cy="165" rx="38" ry="50" fill="#3f5a3a" opacity="0.6"/>
<ellipse cx="1540" cy="160" rx="60" ry="40" fill="#4a5540" opacity="0.4"/>
<path d="M347 123h11v10h-11zM325 297h14v12h-14zM430 349h6v11h-6zM427 338h10v8h-10zM547 327h16v8h-16zM554 243h14v9h-14zM367 332h15v5h-15zM511 213h6v10h-6zM504 188h11v9h-11zM596 337h10v8h-10zM348 126h11v5h-11zM384 211h13v7h-13zM504 257h15v7h-15zM523 301h15v11h-15zM313 194h12v12h-12zM351 243h5v11h-5zM597 304h8v7h-8zM305 265h9v11h-9zM462 141h16v7h-16zM443 189h11v6h-11zM591 229h11v9h-11zM587 183h9v12h-9zM321 289h16v4h-16zM550 259h12v10h-12zM455 321h12v9h-12zM481 133h10v7h-10zM341 129h5v6h-5zM335 333h9v10h-9zM592 154h8v6h-8zM429 269h15v10h-15zM385 277h14v11h-14zM346 273h6v10h-6zM333 161h11v9h-11zM396 132h5v5h-5zM429 1184h16v10h-16zM440 1357h11v8h-11zM492 1035h11v11h-11zM267 629h10v4h-10zM594 800h6v7h-6zM527 972h13v7h-13zM277 1148h12v6h-12zM315 577h15v9h-15zM418 721h7v4h-7zM287 1322h9v6h-9zM546 1427h13v7h-13zM657 1243h7v8h-7zM660 452h15v5h-15zM581 382h5v5h-5zM525 1333h8v9h-8zM313 425h11v7h-11zM533 1166h12v9h-12zM343 567h11v9h-11zM1034 284h7v10h-7zM941 278h7v6h-7zM1137 372h10v8h-10zM900 419h13v9h-13zM1041 334h8v10h-8zM1023 250h15v10h-15zM1108 274h8v9h-8zM739 449h14v9h-14zM677 273h5v4h-5zM849 153h10v5h-10zM835 582h10v11h-10zM824 288h14v9h-14zM1060 477h10v9h-10zM1179 511h5v6h-5zM635 315h13v8h-13zM1135 272h13v8h-13zM1134 439h13v11h-13zM955 382h14v9h-14zM932 551h15v7h-15zM854 395h15v9h-15zM627 158h8v10h-8zM610 300h14v6h-14zM942 513h5v6h-5zM1276 230h6v12h-6zM678 366h15v6h-15zM975 1064h11v8h-11zM869 1463h9v11h-9zM1139 1369h11v5h-11zM955 1437h13v12h-13zM980 970h11v8h-11zM907 1365h9v4h-9zM1175 1217h11v8h-11zM1198 985h15v6h-15zM779 1240h6v4h-6zM1029 822h8v5h-8zM1171 1134h15v11h-15zM1068 1262h14v7h-14zM1143 1444h10v8h-10zM1353 385h5v6h-5zM2251 463h14v8h-14zM1372 282h15v10h-15zM1482 323h12v11h-12zM1768 216h6v11h-6zM2131 390h10v11h-10zM2163 489h9v10h-9zM1356 485h7v4h-7zM1752 197h11v11h-11zM2091 427h13v4h-13zM1897 284h5v7h-5zM1392 260h6v11h-6zM2068 239h12v5h-12zM1516 245h8v5h-8zM1596 331h11v9h-11zM1979 370h6v12h-6zM2086 158h6v5h-6zM2260 130h11v7h-11zM1339 470h8v7h-8zM1793 527h7v5h-7zM1881 554h5v6h-5zM1306 523h9v10h-9zM1418 329h9v7h-9zM1716 436h15v8h-15zM1311 191h6v9h-6zM1530 291h6v11h-6zM1861 496h11v8h-11zM1879 566h14v7h-14zM1547 275h15v11h-15zM2258 510h5v9h-5zM1897 720h7v10h-7zM1898 860h12v7h-12zM1341 1098h13v11h-13zM1899 1226h15v10h-15zM1306 932h15v7h-15zM1621 730h5v11h-5zM1630 960h13v11h-13zM1670 1143h6v9h-6zM1576 701h7v8h-7zM1389 919h7v11h-7zM1612 943h6v8h-6zM1413 1192h9v5h-9zM1841 1134h12v5h-12zM1933 671h12v12h-12zM1719 1024h5v7h-5zM1379 804h11v10h-11zM1468 1141h10v5h-10zM1866 1138h14v11h-14zM1834 1301h13v7h-13zM1515 794h5v9h-5zM1387 836h7v4h-7zM1653 1337h11v11h-11zM1925 1032h8v10h-8zM1613 844h16v4h-16zM1304 804h15v7h-15zM1457 684h9v6h-9zM1328 1011h10v5h-10zM2122 694h12v9h-12zM2186 855h7v7h-7zM2091 856h9v12h-9zM2219 868h12v6h-12zM2001 756h7v6h-7zM2212 826h10v5h-10zM2163 857h10v5h-10zM2033 952h11v8h-11zM2051 838h10v9h-10zM2009 714h14v5h-14zM2116 783h9v5h-9zM2092 834h15v7h-15zM2224 807h13v11h-13zM2022 756h8v10h-8zM2189 745h13v5h-13zM2047 730h8v9h-8zM2241 930h12v11h-12zM2118 888h14v11h-14zM2097 845h16v4h-16zM279 1220h11v7h-11zM297 1391h9v4h-9zM269 1463h15v12h-15zM293 1346h14v5h-14zM321 1215h9v10h-9zM321 1267h14v9h-14z" fill="#7fa0d0" opacity="0.8"/>
<path d="M376 334h9v9h-9zM493 166h13v10h-13zM264 185h12v5h-12zM464 123h7v8h-7zM586 176h12v8h-12zM329 132h9v5h-9zM380 198h14v5h-14zM301 306h10v10h-10zM589 288h9v7h-9zM393 156h7v10h-7zM449 349h9v9h-9zM296 211h12v4h-12zM577 350h11v4h-11zM568 262h7v7h-7zM440 152h6v4h-6zM485 323h16v11h-16zM534 236h6v11h-6zM338 178h10v5h-10zM592 189h11v7h-11zM392 280h10v11h-10zM586 123h14v10h-14zM335 214h14v5h-14zM358 216h14v9h-14zM304 280h8v6h-8zM589 465h5v10h-5zM412 690h7v6h-7zM366 679h8v5h-8zM428 1360h11v8h-11zM483 705h5v6h-5zM408 1215h10v4h-10zM515 487h5v12h-5zM370 684h13v11h-13zM646 1350h14v9h-14zM540 632h16v5h-16zM394 764h6v9h-6zM463 1242h15v9h-15zM580 733h14v6h-14zM625 1167h11v8h-11zM598 1004h6v10h-6zM730 417h8v10h-8zM1083 435h6v6h-6zM1123 546h8v5h-8zM797 382h12v7h-12zM625 205h5v4h-5zM1274 263h14v8h-14zM1085 253h9v11h-9zM731 381h14v5h-14zM951 127h10v10h-10zM1151 285h16v8h-16zM921 1380h9v7h-9zM1101 1137h9v4h-9zM1163 832h11v11h-11zM1224 1468h11v8h-11zM979 1472h9v5h-9zM1081 1070h14v8h-14zM1007 1211h7v7h-7zM903 1160h15v5h-15zM1023 1110h9v6h-9zM942 755h10v10h-10zM924 1238h10v11h-10zM797 1087h7v4h-7zM1172 1185h8v11h-8zM1242 999h6v9h-6zM798 1128h6v12h-6zM827 1096h7v7h-7zM1563 286h8v9h-8zM1691 583h8v10h-8zM1892 274h10v9h-10zM1981 461h14v7h-14zM2221 410h13v4h-13zM1742 464h13v12h-13zM1749 183h8v12h-8zM1838 485h11v7h-11zM1321 218h5v7h-5zM2188 372h14v10h-14zM1653 377h12v11h-12zM1476 325h10v8h-10zM1386 264h8v5h-8zM2152 585h11v9h-11zM1981 527h14v5h-14zM2098 328h15v8h-15zM1765 295h7v6h-7zM2259 591h6v9h-6zM1668 337h12v5h-12zM2234 234h7v5h-7zM2115 363h11v8h-11zM2209 327h12v6h-12zM1872 351h10v5h-10zM1918 1185h11v4h-11zM1638 1129h6v5h-6zM1913 1446h12v11h-12zM1335 810h13v8h-13zM1747 1074h8v6h-8zM1889 1341h5v4h-5zM1731 757h9v6h-9zM1726 779h14v6h-14zM1785 1331h8v5h-8zM1585 672h15v8h-15zM1507 655h11v6h-11zM1598 1410h12v7h-12zM1367 1016h7v11h-7zM1450 641h11v5h-11zM1588 722h6v10h-6zM1737 1448h5v9h-5zM1603 706h12v6h-12zM1698 716h13v9h-13zM1632 873h15v7h-15zM2093 897h9v9h-9zM2174 878h14v6h-14zM2229 857h11v8h-11zM2035 744h13v5h-13zM2223 893h14v12h-14zM2222 797h7v4h-7zM2210 915h6v6h-6zM2088 854h12v12h-12zM2210 908h5v6h-5zM2169 881h13v10h-13zM2034 737h11v9h-11zM2110 741h15v4h-15zM2116 782h8v9h-8zM2248 862h13v11h-13zM2032 905h15v12h-15zM297 1209h10v6h-10zM322 1297h12v11h-12zM315 1348h13v4h-13zM262 1402h13v6h-13zM358 1268h5v10h-5zM326 1273h8v8h-8zM327 1434h8v10h-8zM295 1386h11v5h-11zM288 1458h8v9h-8zM269 1366h6v6h-6z" fill="#b8b8b4" opacity="0.8"/>
<path d="M327 219h15v7h-15zM598 267h11v9h-11zM520 195h9v10h-9zM589 270h11v6h-11zM506 196h6v9h-6zM468 193h12v9h-12zM540 186h13v7h-13zM568 279h11v11h-11zM523 301h8v8h-8zM453 245h12v4h-12zM460 140h9v6h-9zM547 208h10v6h-10zM396 305h15v8h-15zM429 133h14v5h-14zM553 625h12v11h-12zM454 977h14v8h-14zM619 1236h16v8h-16zM671 1196h14v8h-14zM347 816h7v6h-7zM506 970h10v12h-10zM291 1131h15v5h-15zM402 1109h15v7h-15zM342 588h14v7h-14zM282 530h15v7h-15zM506 1207h6v6h-6zM275 1006h8v11h-8zM478 829h10v8h-10zM592 1457h13v9h-13zM447 808h11v12h-11zM598 466h15v6h-15zM364 574h10v7h-10zM676 1009h11v6h-11zM435 448h6v8h-6zM331 555h10v9h-10zM412 1424h5v5h-5zM448 433h7v8h-7zM546 838h9v9h-9zM479 380h14v5h-14zM679 849h12v10h-12zM451 682h13v4h-13zM269 1083h14v11h-14zM441 1301h9v5h-9zM612 351h15v6h-15zM654 1323h8v11h-8zM491 1001h14v11h-14zM296 693h6v8h-6zM487 649h9v11h-9zM453 652h15v9h-15zM280 857h8v8h-8zM290 775h15v5h-15zM397 776h16v7h-16zM608 1231h8v8h-8zM715 319h12v12h-12zM768 328h10v7h-10zM655 318h9v11h-9zM1167 494h6v12h-6zM926 316h13v6h-13zM737 364h13v5h-13zM674 364h13v8h-13zM1193 264h13v9h-13zM1193 399h8v7h-8zM847 660h9v5h-9zM906 159h5v11h-5zM1052 356h8v8h-8zM1284 679h11v7h-11zM1243 602h7v7h-7zM825 136h13v7h-13zM1296 319h6v11h-6zM1089 454h14v12h-14zM1236 599h16v5h-16zM957 118h14v8h-14zM806 390h13v12h-13zM918 559h12v10h-12zM803 399h7v6h-7zM1044 322h14v9h-14zM1191 397h5v6h-5zM684 419h14v6h-14zM975 116h13v9h-13zM1159 615h11v9h-11zM772 469h12v11h-12zM717 546h14v9h-14zM748 329h15v8h-15zM1178 136h9v5h-9zM1225 337h15v10h-15zM886 226h12v6h-12zM1209 153h16v12h-16zM894 1470h12v12h-12zM1198 1254h10v5h-10zM1136 1367h10v6h-10zM746 840h5v10h-5zM1035 1052h6v12h-6zM819 1394h11v9h-11zM741 785h15v11h-15zM1219 1113h11v7h-11zM700 974h11v8h-11zM990 1436h12v7h-12zM720 1138h7v6h-7zM1233 1453h8v9h-8zM1071 1133h6v4h-6zM1234 873h7v11h-7zM1174 1315h12v7h-12zM1242 1064h9v9h-9zM871 1233h15v7h-15zM1228 1390h16v4h-16zM1032 828h7v6h-7zM1002 1019h6v6h-6zM839 1246h9v5h-9zM779 860h5v12h-5zM967 1125h10v5h-10zM1214 944h12v9h-12zM734 1399h12v10h-12zM971 1350h9v12h-9zM1081 1124h9v8h-9zM1188 949h10v8h-10zM1012 1291h12v6h-12zM946 1043h7v7h-7zM835 1266h5v4h-5zM1384 122h10v11h-10zM2034 437h8v6h-8zM1588 352h9v10h-9zM1611 117h11v9h-11zM1953 413h12v8h-12zM1737 257h11v4h-11zM2256 330h15v5h-15zM1685 285h11v6h-11zM2118 458h12v6h-12zM1922 345h10v6h-10zM1914 283h15v4h-15zM1499 253h12v6h-12zM2250 512h12v5h-12zM2085 162h16v10h-16zM1821 382h8v11h-8zM2127 260h12v7h-12zM1519 235h14v8h-14zM1346 582h10v8h-10zM1308 256h9v6h-9zM1668 574h6v4h-6zM1992 543h14v5h-14zM1915 178h8v7h-8zM1397 341h9v5h-9zM1954 185h9v10h-9zM1302 178h7v11h-7zM1935 153h5v11h-5zM1394 547h11v8h-11zM1306 316h6v11h-6zM2202 366h13v11h-13zM1316 275h13v9h-13zM1401 435h12v5h-12zM2177 331h5v4h-5zM1518 293h9v6h-9zM2030 385h15v11h-15zM1878 217h6v11h-6zM1997 280h6v9h-6zM2145 177h9v8h-9zM2023 499h16v7h-16zM2056 142h6v10h-6zM1389 388h13v9h-13zM1680 164h9v11h-9zM1517 556h7v4h-7zM1646 216h14v12h-14zM1591 514h8v5h-8zM2211 363h5v7h-5zM1405 596h11v6h-11zM1669 1111h11v4h-11zM1534 1382h13v11h-13zM1795 1419h10v4h-10zM1563 1134h11v10h-11zM1944 913h15v11h-15zM1556 1330h13v9h-13zM1630 927h9v8h-9zM1995 749h14v4h-14zM1398 999h12v10h-12zM1580 674h12v6h-12zM1539 1319h8v7h-8zM1857 644h13v9h-13zM1855 1256h9v10h-9zM1379 1105h6v12h-6zM1983 1392h6v9h-6zM1432 697h12v10h-12zM1868 881h11v4h-11zM1576 1322h10v10h-10zM1809 946h7v5h-7zM1617 1343h15v10h-15zM1374 1233h16v8h-16zM1468 711h9v12h-9zM1622 1302h11v5h-11zM1801 1021h7v5h-7zM1795 1192h12v8h-12zM1866 1015h9v6h-9zM1832 1290h6v7h-6zM1956 1219h12v9h-12zM1933 1113h13v10h-13zM1612 991h6v10h-6zM1918 855h9v10h-9zM1665 639h7v8h-7zM1431 1191h8v10h-8zM1325 1177h9v10h-9zM1732 748h7v12h-7zM1882 747h7v7h-7zM1894 878h14v5h-14zM1538 771h6v8h-6zM1768 1160h13v10h-13zM1731 1036h12v5h-12zM1715 970h7v10h-7zM1542 1173h13v5h-13zM1736 1423h15v9h-15zM1728 704h10v12h-10zM1990 754h8v7h-8zM1949 1325h11v12h-11zM1627 861h15v9h-15zM1370 800h6v7h-6zM1418 1178h10v6h-10zM1527 794h7v6h-7zM1797 1447h15v5h-15zM1493 1207h10v8h-10zM1547 1312h15v8h-15zM1781 1106h6v12h-6zM1709 639h10v9h-10zM2173 771h15v6h-15zM2032 784h6v10h-6zM2246 799h15v9h-15zM2013 810h13v4h-13zM2157 875h7v5h-7zM338 1431h13v11h-13zM297 1176h15v12h-15zM283 1457h15v9h-15zM341 1327h9v5h-9zM285 1246h11v8h-11zM284 1473h5v11h-5z" fill="#8a5a48" opacity="0.8"/>
<path d="M458 193h9v11h-9zM575 311h12v10h-12zM282 244h8v8h-8zM286 142h11v7h-11zM454 243h12v10h-12zM397 132h5v6h-5zM428 261h10v8h-10zM426 329h9v7h-9zM501 305h15v6h-15zM568 224h12v5h-12zM444 189h11v5h-11zM266 196h6v7h-6zM484 299h11v10h-11zM372 334h15v8h-15zM271 241h7v8h-7zM560 322h8v11h-8zM417 293h6v5h-6zM524 329h14v8h-14zM462 297h8v8h-8zM342 325h11v8h-11zM400 216h15v7h-15zM434 276h15v4h-15zM545 185h13v12h-13zM267 250h8v6h-8zM268 248h5v6h-5zM379 168h7v6h-7zM495 474h12v10h-12zM274 1289h11v7h-11zM471 394h16v4h-16zM621 1430h14v8h-14zM403 1337h13v4h-13zM427 1069h12v8h-12zM365 1154h12v4h-12zM536 876h14v8h-14zM635 441h11v12h-11zM281 1109h7v12h-7zM689 1031h9v9h-9zM626 777h7v10h-7zM687 1134h11v11h-11zM613 798h6v6h-6zM671 943h8v5h-8zM514 1277h14v8h-14zM260 1303h10v8h-10zM647 694h6v4h-6zM281 869h10v6h-10zM535 404h6v10h-6zM498 750h11v7h-11zM876 358h11v12h-11zM664 251h13v6h-13zM1114 500h6v6h-6zM699 260h10v7h-10zM973 508h14v8h-14zM978 511h14v9h-14zM1204 210h8v5h-8zM756 367h14v12h-14zM1236 443h11v12h-11zM917 681h6v6h-6zM686 151h11v5h-11zM880 177h15v6h-15zM1186 392h9v10h-9zM899 281h10v10h-10zM947 297h10v10h-10zM1028 327h13v11h-13zM653 420h11v8h-11zM1042 631h6v9h-6zM1114 544h6v10h-6zM1251 447h12v10h-12zM1014 353h10v10h-10zM689 328h5v10h-5zM627 235h16v4h-16zM957 506h13v7h-13zM966 554h6v10h-6zM802 220h15v7h-15zM1289 552h12v12h-12zM1228 1003h5v4h-5zM753 810h16v4h-16zM1149 1157h9v7h-9zM814 972h16v8h-16zM955 1021h9v5h-9zM790 715h11v7h-11zM1136 1072h9v10h-9zM1191 1384h8v5h-8zM1256 1320h14v10h-14zM1238 1246h8v4h-8zM1300 1350h10v10h-10zM1060 1059h8v6h-8zM920 701h10v7h-10zM1031 808h11v8h-11zM767 833h10v12h-10zM983 1293h13v9h-13zM910 1175h14v6h-14zM909 1426h10v7h-10zM897 945h6v5h-6zM1296 1225h15v8h-15zM2083 180h7v11h-7zM2216 456h10v7h-10zM1349 434h8v7h-8zM1708 546h7v4h-7zM1912 397h15v6h-15zM1390 326h9v5h-9zM1928 537h15v7h-15zM1723 540h6v10h-6zM2187 283h12v4h-12zM1916 364h14v10h-14zM2140 503h5v8h-5zM1995 219h10v12h-10zM1365 170h8v6h-8zM1571 174h8v7h-8zM1643 456h9v12h-9zM1616 136h11v11h-11zM1408 315h13v10h-13zM1540 476h8v8h-8zM2088 394h13v9h-13zM1329 506h5v11h-5zM1898 390h11v10h-11zM2135 320h15v9h-15zM1771 278h8v5h-8zM1841 290h7v5h-7zM1818 390h14v6h-14zM2105 479h13v6h-13zM1912 762h13v6h-13zM1689 1370h11v10h-11zM1744 1258h8v5h-8zM1386 1047h6v11h-6zM1473 1278h9v5h-9zM1523 881h11v8h-11zM1431 1233h11v7h-11zM1552 1084h14v8h-14zM1975 718h9v12h-9zM1555 603h13v6h-13zM1706 898h13v6h-13zM1570 1136h7v5h-7zM1716 956h16v8h-16zM1427 1235h5v9h-5zM1928 668h9v9h-9zM1641 727h5v7h-5zM1718 629h15v6h-15zM2196 793h15v10h-15zM2197 858h14v10h-14zM2083 778h6v4h-6zM2223 797h16v6h-16zM2188 746h7v11h-7zM2072 898h7v6h-7zM2022 891h8v6h-8zM2253 805h13v12h-13zM2066 704h14v11h-14zM2054 886h13v6h-13zM2144 707h9v12h-9zM2245 779h11v8h-11zM342 1425h12v11h-12zM339 1203h9v7h-9zM266 1277h8v7h-8zM301 1429h10v6h-10zM296 1263h15v5h-15zM271 1393h13v6h-13zM295 1300h16v8h-16zM322 1155h10v5h-10zM312 1294h13v12h-13zM284 1230h7v9h-7zM351 1276h6v11h-6zM273 1358h15v9h-15z" fill="#8fb0d8" opacity="0.8"/>
<path d="M274 135h6v8h-6zM443 130h10v10h-10zM513 157h15v11h-15zM440 349h8v5h-8zM345 345h12v4h-12zM572 137h12v6h-12zM384 170h6v10h-6zM337 191h5v7h-5zM365 223h14v6h-14zM437 291h10v6h-10zM437 333h8v8h-8zM496 278h7v9h-7zM265 255h8v6h-8zM508 272h7v9h-7zM567 137h11v7h-11zM498 314h13v5h-13zM674 739h10v5h-10zM307 1336h12v8h-12zM670 786h10v5h-10zM564 1463h12v5h-12zM462 368h6v7h-6zM503 1445h8v8h-8zM628 586h8v8h-8zM402 1053h7v5h-7zM435 1358h12v11h-12zM357 644h8v5h-8zM265 1242h15v5h-15zM672 758h10v9h-10zM656 1445h10v9h-10zM315 567h11v12h-11zM320 958h14v11h-14zM394 541h16v4h-16zM302 1327h10v5h-10zM336 1030h5v5h-5zM502 505h15v12h-15zM425 502h9v10h-9zM669 509h7v5h-7zM666 515h13v9h-13zM286 698h7v7h-7zM609 1150h6v8h-6zM555 799h16v5h-16zM679 1046h9v6h-9zM664 1238h6v7h-6zM671 651h13v8h-13zM478 1250h13v6h-13zM415 593h9v8h-9zM263 771h14v9h-14zM473 1102h13v9h-13zM430 971h6v6h-6zM258 1161h8v6h-8zM693 1255h9v5h-9zM358 676h16v9h-16zM542 513h14v9h-14zM338 853h8v7h-8zM563 563h9v9h-9zM285 1388h9v10h-9zM503 652h14v7h-14zM440 443h8v8h-8zM413 1387h6v10h-6zM541 882h7v8h-7zM408 1078h10v8h-10zM498 1356h14v4h-14zM355 1164h7v7h-7zM463 452h10v7h-10zM272 1004h8v4h-8zM427 1439h12v8h-12zM519 1407h13v6h-13zM293 585h12v5h-12zM305 441h10v6h-10zM629 1304h15v11h-15zM322 1459h7v12h-7zM549 411h12v9h-12zM624 1052h14v10h-14zM679 1222h15v10h-15zM277 497h14v5h-14zM286 461h7v10h-7zM572 1415h16v5h-16zM530 1275h7v8h-7zM370 572h15v7h-15zM326 1331h9v7h-9zM719 414h12v8h-12zM984 226h12v8h-12zM1120 163h11v11h-11zM1278 492h15v9h-15zM1082 455h9v12h-9zM1092 604h5v11h-5zM1189 423h14v10h-14zM647 448h13v10h-13zM654 511h6v6h-6zM1257 507h15v11h-15zM1146 595h12v9h-12zM790 438h11v10h-11zM1031 600h10v5h-10zM721 297h13v7h-13zM924 657h7v9h-7zM658 669h14v5h-14zM940 635h6v4h-6zM1198 431h14v9h-14zM606 148h11v10h-11zM732 553h16v5h-16zM640 565h16v7h-16zM1196 345h8v10h-8zM1131 200h6v6h-6zM819 409h5v4h-5zM908 623h14v6h-14zM856 242h13v6h-13zM716 334h9v12h-9zM1244 195h13v9h-13zM955 694h13v6h-13zM758 487h5v6h-5zM1114 662h10v9h-10zM864 337h8v10h-8zM850 562h6v9h-6zM1122 405h14v6h-14zM1040 487h9v7h-9zM874 361h5v9h-5zM679 640h8v8h-8zM1231 482h10v6h-10zM1168 346h11v10h-11zM1125 363h7v11h-7zM777 187h8v5h-8zM713 194h14v11h-14zM1244 485h6v9h-6zM831 326h6v12h-6zM1264 546h10v12h-10zM848 621h11v7h-11zM681 646h6v7h-6zM993 575h12v4h-12zM780 559h13v11h-13zM1284 677h7v6h-7zM716 253h13v11h-13zM877 578h16v8h-16zM880 259h9v7h-9zM776 509h6v11h-6zM789 162h16v6h-16zM649 603h7v8h-7zM1086 692h8v7h-8zM888 990h16v10h-16zM1295 1460h7v8h-7zM1000 944h10v9h-10zM1220 1053h14v12h-14zM954 1400h7v10h-7zM730 837h14v8h-14zM725 1262h7v10h-7zM737 1329h7v11h-7zM1060 823h15v11h-15zM1259 1009h11v9h-11zM748 759h7v8h-7zM1122 1458h8v6h-8zM847 1338h10v9h-10zM741 1135h14v10h-14zM1009 1249h13v4h-13zM939 978h15v4h-15zM833 836h8v7h-8zM1021 1222h8v9h-8zM794 1377h14v5h-14zM1265 752h14v11h-14zM1290 1424h5v5h-5zM1049 1112h13v11h-13zM1247 1323h12v12h-12zM784 1076h16v7h-16zM1281 722h9v11h-9zM1048 757h8v11h-8zM1095 1232h12v4h-12zM1224 1364h5v9h-5zM1124 1274h12v11h-12zM905 1247h12v4h-12zM1008 1463h11v7h-11zM929 897h9v10h-9zM915 1365h9v9h-9zM1177 1321h5v5h-5zM1245 887h11v5h-11zM909 1300h9v9h-9zM702 746h11v7h-11zM777 911h13v8h-13zM820 1463h5v9h-5zM813 1320h9v4h-9zM908 1009h11v6h-11zM1269 1469h11v8h-11zM745 775h5v7h-5zM1167 968h13v7h-13zM1141 1256h6v12h-6zM817 950h5v10h-5zM1141 730h7v8h-7zM824 1421h15v8h-15zM1121 824h5v12h-5zM871 1181h14v4h-14zM1083 890h7v7h-7zM795 1341h13v8h-13zM943 1365h5v9h-5zM1152 1051h12v8h-12zM739 1407h15v7h-15zM1042 1308h9v5h-9zM967 1000h10v12h-10zM1089 1199h13v9h-13zM1170 1365h13v7h-13zM849 1213h12v4h-12zM943 714h9v8h-9zM1005 1187h7v10h-7zM1227 1100h7v5h-7zM835 1126h9v12h-9zM1833 462h14v6h-14zM1884 417h5v11h-5zM1888 301h14v7h-14zM1390 460h8v11h-8zM1725 448h16v7h-16zM1516 292h12v5h-12zM1793 201h15v9h-15zM2108 238h14v5h-14zM2187 554h13v5h-13zM1312 547h12v11h-12zM1738 321h8v9h-8zM1394 478h8v11h-8zM2220 298h7v5h-7zM1400 532h14v8h-14zM1408 227h5v11h-5zM1594 481h15v10h-15zM1700 465h10v8h-10zM1751 492h8v9h-8zM1503 200h15v8h-15zM1404 360h11v9h-11zM1505 428h8v10h-8zM1859 469h8v12h-8zM1749 242h14v10h-14zM1979 253h7v7h-7zM1339 546h10v7h-10zM2247 419h10v6h-10zM1373 585h11v8h-11zM1787 311h10v9h-10zM1741 520h13v8h-13zM2121 276h6v5h-6zM1858 360h14v8h-14zM1970 215h5v11h-5zM1941 337h8v9h-8zM1660 266h13v6h-13zM1767 417h7v7h-7zM2058 381h8v11h-8zM1376 443h7v4h-7zM2038 407h15v4h-15zM1536 170h6v11h-6zM2174 366h6v6h-6zM2157 401h6v4h-6zM1490 145h16v10h-16zM1628 111h9v5h-9zM1324 384h13v7h-13zM2214 483h11v10h-11zM1614 469h11v6h-11zM1644 215h16v7h-16zM1601 373h13v9h-13zM2236 109h16v7h-16zM1792 488h14v7h-14zM1657 207h6v8h-6zM2001 311h16v4h-16zM2083 426h7v7h-7zM2113 132h10v8h-10zM1951 487h13v7h-13zM1408 115h10v4h-10zM2001 150h12v8h-12zM2190 230h15v8h-15zM2100 502h12v6h-12zM2149 395h10v9h-10zM1770 487h10v7h-10zM2096 417h9v9h-9zM1436 586h15v11h-15zM1831 409h13v10h-13zM1974 404h8v12h-8zM2071 254h14v8h-14zM2018 141h8v7h-8zM1440 473h16v7h-16zM1335 375h10v5h-10zM2220 455h14v5h-14zM1369 177h9v6h-9zM2179 565h14v4h-14zM1456 428h13v9h-13zM1810 341h11v9h-11zM1651 388h5v11h-5zM2151 332h8v10h-8zM2173 218h12v8h-12zM1812 202h12v12h-12zM1339 842h12v11h-12zM1529 787h11v9h-11zM1833 1038h15v10h-15zM1787 1141h6v6h-6zM1783 776h8v5h-8zM1511 755h13v10h-13zM1588 1260h12v7h-12zM1533 951h9v10h-9zM1362 1272h9v7h-9zM1882 1418h8v9h-8zM1536 777h7v11h-7zM1981 780h7v11h-7zM1545 683h9v9h-9zM1850 831h7v6h-7zM1737 1027h10v4h-10zM1985 808h6v7h-6zM1360 1214h11v9h-11zM1448 1349h11v5h-11zM1547 977h6v11h-6zM1722 1275h6v5h-6zM1956 1370h10v7h-10zM1941 1435h16v11h-16zM1986 694h11v6h-11zM1546 1388h12v11h-12zM1330 1118h15v9h-15zM1447 1327h11v11h-11zM1983 1195h15v9h-15zM1735 965h8v12h-8zM1602 838h12v6h-12zM1493 1039h14v7h-14zM1799 1441h7v6h-7zM1445 764h12v10h-12zM1742 1245h15v10h-15zM1308 630h13v6h-13zM1507 1018h12v8h-12zM1416 1315h8v10h-8zM1616 1095h12v12h-12zM1326 1462h7v5h-7zM1897 1107h6v10h-6zM1441 923h12v6h-12zM1933 1275h14v12h-14zM1980 1128h15v9h-15zM1500 876h6v12h-6zM1312 1460h14v5h-14zM1851 1307h5v12h-5zM1453 1076h9v9h-9zM1499 1307h7v5h-7zM1315 1061h9v5h-9zM1563 703h13v7h-13zM1958 1200h16v12h-16zM1667 899h10v7h-10zM1608 1201h9v7h-9zM1851 946h15v9h-15zM1787 819h6v6h-6zM1837 818h7v10h-7zM1601 1135h12v9h-12zM1667 641h7v7h-7zM1937 1144h15v9h-15zM1599 1455h11v11h-11zM1783 1333h12v10h-12zM1961 1154h6v9h-6zM1785 1315h12v11h-12zM1998 783h14v12h-14zM1397 1104h7v10h-7zM1809 698h8v6h-8zM1558 1271h10v6h-10zM1551 732h13v11h-13zM1813 1040h9v6h-9zM1480 1107h6v11h-6zM1602 1291h7v10h-7zM1686 1100h14v7h-14zM1585 1215h6v6h-6zM1586 1020h10v12h-10zM1568 1312h13v9h-13zM1769 989h14v6h-14zM1922 627h15v5h-15zM1456 782h9v6h-9zM1328 1243h10v7h-10zM1330 1403h7v8h-7zM1461 834h13v11h-13zM1575 1282h9v10h-9zM1924 1154h6v9h-6zM1735 992h15v8h-15zM1643 610h7v11h-7zM1821 1412h13v10h-13zM1839 699h9v8h-9zM1660 1000h11v7h-11zM1337 837h6v9h-6zM1585 1157h5v10h-5zM1717 1000h12v10h-12zM1590 1262h7v4h-7zM1849 1450h15v5h-15zM1903 943h13v7h-13zM1331 889h7v8h-7zM1818 865h14v8h-14zM2083 923h10v7h-10zM2002 914h15v12h-15zM2052 832h7v6h-7zM2027 774h12v7h-12zM2040 957h11v12h-11zM2029 929h13v10h-13zM257 1427h13v6h-13zM316 1160h16v11h-16zM312 1345h9v5h-9zM339 1173h15v5h-15zM302 1442h13v11h-13z" fill="#3a3634" opacity="0.8"/>
<path d="M546 264h8v9h-8zM491 185h12v7h-12zM376 217h7v11h-7zM403 127h5v5h-5zM341 287h10v12h-10zM445 282h6v9h-6zM324 136h13v9h-13zM568 231h7v11h-7zM597 333h6v9h-6zM519 345h13v6h-13zM540 122h13v8h-13zM560 185h11v9h-11zM445 197h15v5h-15zM562 330h10v6h-10zM388 283h10v4h-10zM350 251h13v10h-13zM439 241h9v4h-9zM343 189h10v8h-10zM325 322h8v11h-8zM321 172h10v5h-10zM271 283h12v9h-12zM531 181h8v10h-8zM300 130h9v11h-9zM543 317h8v10h-8zM424 204h7v4h-7zM320 126h12v6h-12zM440 224h12v11h-12zM574 302h14v8h-14zM377 263h16v10h-16zM426 663h11v5h-11zM308 988h11v6h-11zM316 984h10v4h-10zM483 1197h7v9h-7zM356 1418h8v4h-8zM280 1099h10v5h-10zM661 408h10v5h-10zM544 873h7v12h-7zM486 898h10v10h-10zM626 1037h6v5h-6zM521 1319h10v11h-10zM517 654h6v5h-6zM622 516h15v6h-15zM636 768h10v5h-10zM328 510h15v10h-15zM578 871h8v6h-8zM292 976h7v9h-7zM618 1403h9v7h-9zM385 685h14v9h-14zM367 1419h15v11h-15zM619 1014h12v10h-12zM330 695h9v5h-9zM691 782h8v6h-8zM290 795h6v5h-6zM545 472h12v11h-12zM669 582h10v5h-10zM919 410h13v12h-13zM1199 173h7v6h-7zM833 299h14v9h-14zM967 557h15v8h-15zM966 329h9v11h-9zM1067 657h12v8h-12zM1265 694h12v10h-12zM944 665h14v12h-14zM776 535h8v7h-8zM1240 193h6v6h-6zM630 542h5v4h-5zM1222 369h14v4h-14zM780 370h6v8h-6zM941 151h8v12h-8zM807 415h10v8h-10zM729 466h7v10h-7zM1220 411h7v12h-7zM1113 700h13v5h-13zM1142 682h13v11h-13zM1297 636h5v9h-5zM1184 486h9v8h-9zM1105 1136h10v6h-10zM1260 1343h8v10h-8zM1242 802h8v10h-8zM863 911h7v8h-7zM1201 1109h11v12h-11zM893 935h15v6h-15zM1195 888h9v10h-9zM956 1331h7v8h-7zM1267 857h11v8h-11zM1163 1067h7v10h-7zM751 851h11v9h-11zM753 1180h5v9h-5zM990 1118h13v8h-13zM1297 1294h10v7h-10zM1058 798h11v8h-11zM1258 1405h9v11h-9zM767 1108h12v11h-12zM1048 800h11v9h-11zM917 850h12v12h-12zM2029 228h12v8h-12zM1792 153h9v11h-9zM1328 245h8v9h-8zM2224 198h6v9h-6zM1818 215h7v9h-7zM1617 514h16v9h-16zM1504 416h6v12h-6zM1512 486h10v12h-10zM1742 325h8v10h-8zM2195 566h7v9h-7zM2137 381h6v7h-6zM2067 521h8v8h-8zM1663 549h6v12h-6zM1340 464h14v5h-14zM2051 121h6v10h-6zM1690 231h12v7h-12zM2217 252h10v9h-10zM1572 551h8v10h-8zM1948 376h9v10h-9zM1970 409h5v12h-5zM2143 240h15v10h-15zM1497 110h12v4h-12zM2044 190h11v4h-11zM1318 377h15v6h-15zM1404 474h16v6h-16zM1555 1368h15v5h-15zM1599 640h13v9h-13zM1812 722h7v8h-7zM1422 1224h8v6h-8zM1551 1059h15v4h-15zM1771 1248h8v7h-8zM1832 1166h7v6h-7zM1942 1179h13v10h-13zM1852 1037h11v9h-11zM1512 1262h8v9h-8zM1437 1372h13v12h-13zM1560 1142h7v7h-7zM1798 1183h14v5h-14zM1632 796h6v7h-6zM1508 927h6v7h-6zM1531 1351h13v9h-13zM1561 889h11v8h-11zM1317 1351h13v6h-13zM1619 1452h6v4h-6zM1689 1126h6v11h-6zM1568 809h6v8h-6zM1501 634h15v9h-15zM1576 1162h14v5h-14zM1346 856h10v8h-10zM2127 850h8v11h-8zM2148 729h9v8h-9zM2004 837h12v8h-12zM2225 816h15v8h-15zM2149 880h10v8h-10zM2124 734h6v7h-6zM2014 816h15v9h-15zM2087 727h8v11h-8zM2054 703h9v6h-9zM2199 727h10v9h-10zM2155 877h12v5h-12zM327 1271h10v9h-10zM321 1438h15v11h-15zM308 1225h6v5h-6zM327 1368h14v5h-14zM324 1245h10v7h-10zM283 1463h6v12h-6zM256 1194h16v6h-16zM345 1210h7v6h-7zM353 1428h16v10h-16zM328 1416h16v7h-16zM279 1429h13v8h-13zM317 1328h6v9h-6zM270 1440h14v9h-14zM312 1268h15v6h-15zM335 1240h15v10h-15z" fill="#6f8fc4" opacity="0.8"/>
<path d="M299 145h14v12h-14zM506 150h15v4h-15zM406 128h14v5h-14zM311 239h13v12h-13zM455 166h5v7h-5zM559 125h12v8h-12zM591 176h15v5h-15zM402 258h10v10h-10zM289 276h16v8h-16zM541 162h6v11h-6zM385 147h12v11h-12zM476 153h10v10h-10zM589 275h14v5h-14zM389 141h12v8h-12zM570 336h10v6h-10zM508 175h11v8h-11zM507 327h9v10h-9zM534 171h6v5h-6zM432 314h13v8h-13zM464 151h13v4h-13zM578 343h13v10h-13zM436 291h15v10h-15zM487 163h9v11h-9zM481 246h15v10h-15zM453 217h13v6h-13zM450 169h8v6h-8zM562 317h16v11h-16zM391 173h5v11h-5zM265 474h12v11h-12zM657 793h12v6h-12zM303 483h11v11h-11zM359 1085h11v9h-11zM561 851h15v9h-15zM476 1451h14v10h-14zM404 1428h11v6h-11zM475 1232h8v11h-8zM448 859h5v11h-5zM663 1236h16v6h-16zM660 526h6v9h-6zM678 1322h11v11h-11zM519 645h10v10h-10zM343 870h10v8h-10zM353 366h8v8h-8zM388 1032h16v8h-16zM273 1416h7v7h-7zM510 1276h11v8h-11zM500 529h11v9h-11zM679 1004h5v10h-5zM649 1414h9v11h-9zM1201 157h11v6h-11zM1145 562h5v9h-5zM746 267h10v6h-10zM749 453h15v8h-15zM938 651h7v6h-7zM1199 234h11v8h-11zM650 234h15v6h-15zM1258 321h5v6h-5zM1181 142h15v7h-15zM1236 236h9v9h-9zM1218 516h14v8h-14zM910 671h16v8h-16zM617 131h14v9h-14zM884 135h9v11h-9zM880 185h5v9h-5zM827 677h7v5h-7zM913 1094h14v10h-14zM1236 1044h6v7h-6zM940 985h6v10h-6zM1138 1331h12v11h-12zM945 1245h11v9h-11zM794 1134h12v11h-12zM828 918h5v6h-5zM1067 1257h15v12h-15zM1178 1305h11v9h-11zM796 1074h14v5h-14zM1141 1418h16v4h-16zM947 909h13v11h-13zM817 1035h8v6h-8zM1178 1075h15v5h-15zM1231 1384h8v6h-8zM1329 325h14v7h-14zM2133 411h6v11h-6zM1334 136h10v11h-10zM1493 327h7v4h-7zM1710 334h11v10h-11zM1526 378h5v5h-5zM1978 165h6v5h-6zM1318 228h9v5h-9zM1456 465h12v10h-12zM1329 409h9v12h-9zM1986 205h10v10h-10zM1399 312h6v9h-6zM2214 159h7v9h-7zM1765 358h13v9h-13zM1744 504h12v11h-12zM1360 552h11v4h-11zM1880 710h14v8h-14zM1640 941h16v11h-16zM1625 1339h5v7h-5zM1425 1213h9v12h-9zM1612 858h7v11h-7zM1356 1013h10v9h-10zM1415 866h9v9h-9zM1523 926h8v4h-8zM1484 981h10v8h-10zM1682 760h12v9h-12zM1322 1038h12v6h-12zM1450 878h7v4h-7zM1800 866h8v11h-8zM1327 643h6v5h-6zM1804 925h7v9h-7zM1583 651h7v6h-7zM1669 832h6v10h-6zM1759 1189h10v12h-10zM1549 771h12v12h-12zM1937 1216h9v5h-9zM1884 1157h16v4h-16zM1696 1287h11v5h-11zM2015 727h9v11h-9zM2122 918h10v10h-10zM2237 691h15v9h-15zM2057 899h8v11h-8zM2259 689h11v5h-11zM2022 921h9v9h-9zM2123 880h5v5h-5zM2216 767h7v11h-7zM2202 820h6v6h-6zM349 1399h11v8h-11zM320 1326h13v9h-13zM276 1435h14v10h-14zM358 1391h9v8h-9zM254 1401h15v6h-15zM285 1286h14v9h-14zM357 1346h14v4h-14zM263 1324h14v11h-14zM328 1226h15v12h-15zM334 1432h6v8h-6z" fill="#9c9c98" opacity="0.8"/>
<path d="M442 128h11v12h-11zM342 210h11v10h-11zM543 249h8v7h-8zM382 309h11v9h-11zM325 254h8v5h-8zM531 189h16v11h-16zM463 204h11v6h-11zM399 277h13v4h-13zM507 281h13v6h-13zM393 155h8v10h-8zM359 343h13v6h-13zM532 192h7v6h-7zM548 309h12v8h-12zM562 280h5v6h-5zM324 207h15v9h-15zM397 234h10v9h-10zM552 279h14v7h-14zM525 215h6v10h-6zM345 305h16v6h-16zM351 203h7v6h-7zM404 245h8v8h-8zM391 319h9v9h-9zM302 298h6v7h-6zM393 134h8v10h-8zM570 183h10v7h-10zM346 125h11v6h-11zM569 129h8v7h-8zM427 250h9v9h-9zM519 274h10v12h-10zM337 209h14v7h-14zM477 201h12v6h-12zM320 144h7v4h-7zM384 143h16v6h-16zM273 818h11v9h-11zM429 444h12v4h-12zM327 1008h14v9h-14zM624 1454h5v8h-5zM670 1430h8v11h-8zM262 699h13v6h-13zM631 989h10v8h-10zM595 414h14v9h-14zM338 388h10v7h-10zM496 1459h14v8h-14zM410 1203h11v5h-11zM352 1047h14v11h-14zM666 687h8v9h-8zM609 602h5v10h-5zM447 772h13v4h-13zM663 392h7v8h-7zM390 1460h15v7h-15zM630 963h16v4h-16zM515 1308h6v9h-6zM621 737h15v8h-15zM410 882h15v10h-15zM389 889h10v4h-10zM529 728h5v10h-5zM682 1404h7v10h-7zM658 1003h13v8h-13zM328 1117h15v11h-15zM386 491h10v5h-10zM685 679h8v8h-8zM322 843h12v10h-12zM889 459h11v7h-11zM1080 141h7v10h-7zM1035 485h13v9h-13zM1154 686h13v12h-13zM1062 139h13v5h-13zM836 362h12v4h-12zM999 351h6v8h-6zM1041 311h6v9h-6zM1095 591h7v5h-7zM881 307h7v9h-7zM796 492h14v5h-14zM1032 313h11v8h-11zM749 666h14v11h-14zM693 386h5v5h-5zM603 366h10v11h-10zM911 264h12v10h-12zM1299 326h11v4h-11zM1190 366h6v6h-6zM1201 1286h16v7h-16zM818 845h15v7h-15zM1144 719h11v7h-11zM1047 796h16v5h-16zM739 1416h12v8h-12zM1068 910h15v7h-15zM835 1039h13v6h-13zM1054 769h15v9h-15zM958 840h15v12h-15zM1213 1048h11v10h-11zM1126 1240h14v7h-14zM1219 1281h7v5h-7zM1069 1403h13v5h-13zM967 790h15v6h-15zM1084 976h15v8h-15zM1650 487h8v10h-8zM2146 281h5v12h-5zM1374 302h11v11h-11zM1634 549h6v10h-6zM1707 160h16v5h-16zM1920 510h10v8h-10zM1323 193h14v11h-14zM1645 125h6v12h-6zM1622 595h12v8h-12zM2116 215h15v4h-15zM1671 195h11v8h-11zM2151 354h8v7h-8zM2116 505h15v5h-15zM1775 544h7v4h-7zM2059 196h10v10h-10zM1398 186h14v8h-14zM1558 492h9v7h-9zM1438 548h13v4h-13zM2145 133h7v10h-7zM1506 568h11v8h-11zM1760 489h5v4h-5zM1718 151h9v9h-9zM2233 469h13v6h-13zM1913 258h14v9h-14zM1562 1205h15v6h-15zM1407 1372h9v10h-9zM1681 1212h15v10h-15zM1396 958h16v8h-16zM1411 1364h11v5h-11zM1950 1367h9v7h-9zM1930 956h10v10h-10zM1873 653h15v11h-15zM1909 1053h10v10h-10zM1686 627h11v5h-11zM1698 1115h11v7h-11zM1321 797h6v6h-6zM1318 780h11v12h-11zM1490 1349h9v9h-9zM1657 1270h12v10h-12zM1887 1016h12v5h-12zM1926 922h6v11h-6zM1351 1133h9v11h-9zM2010 848h9v7h-9zM2054 709h9v11h-9zM2148 743h11v7h-11zM2194 788h12v6h-12zM2160 884h12v5h-12zM2092 937h15v6h-15zM2057 831h11v6h-11zM2249 685h9v10h-9zM2122 886h14v10h-14zM2103 910h11v7h-11zM2204 816h8v6h-8zM2101 894h7v5h-7zM2140 802h8v7h-8zM2202 787h10v7h-10zM270 1188h6v6h-6zM301 1320h10v11h-10zM328 1283h13v11h-13zM355 1155h10v9h-10zM295 1412h15v5h-15z" fill="#5a7ab5" opacity="0.8"/>
<path d="M447 270h10v9h-10zM509 148h13v10h-13zM551 174h15v7h-15zM354 198h16v9h-16zM564 300h8v9h-8zM287 139h14v8h-14zM494 184h10v6h-10zM315 266h7v7h-7zM310 279h12v10h-12zM596 336h13v11h-13zM565 191h15v6h-15zM351 286h14v7h-14zM429 272h6v7h-6zM530 305h7v8h-7zM390 137h15v9h-15zM308 315h11v10h-11zM315 166h8v5h-8zM329 319h9v8h-9zM283 255h10v12h-10zM301 290h12v7h-12zM479 137h15v5h-15zM585 343h9v11h-9zM582 755h7v5h-7zM504 502h7v6h-7zM539 1440h6v6h-6zM608 1181h6v9h-6zM605 1307h15v5h-15zM332 906h7v9h-7zM652 444h7v11h-7zM386 706h16v10h-16zM512 1359h6v9h-6zM316 1198h15v4h-15zM1026 498h13v10h-13zM1147 416h10v7h-10zM907 236h15v6h-15zM1113 319h11v8h-11zM1237 175h11v10h-11zM1195 485h16v9h-16zM869 459h12v10h-12zM954 224h7v8h-7zM1052 534h12v4h-12zM1082 681h13v8h-13zM1298 367h7v7h-7zM1171 734h9v5h-9zM870 1322h10v9h-10zM1144 1426h7v11h-7zM1213 832h10v6h-10zM1281 1202h9v9h-9zM1006 1362h6v8h-6zM1054 1438h9v10h-9zM1082 960h11v5h-11zM915 971h8v8h-8zM1035 1387h6v11h-6zM1497 542h6v6h-6zM1488 378h7v8h-7zM1970 155h16v10h-16zM2046 402h7v12h-7zM1378 511h7v7h-7zM1490 509h13v7h-13zM1406 171h9v5h-9zM1886 486h6v10h-6zM1662 391h10v9h-10zM1613 573h12v8h-12zM1860 363h14v6h-14zM1303 587h8v5h-8zM1858 369h6v8h-6zM1492 230h14v5h-14zM1489 515h8v5h-8zM1873 571h7v7h-7zM1978 469h7v9h-7zM1726 409h9v6h-9zM1568 297h11v11h-11zM1643 450h8v11h-8zM2091 311h9v6h-9zM1794 457h6v7h-6zM2220 378h7v8h-7zM1851 1153h9v10h-9zM1677 1414h12v7h-12zM1879 1427h7v5h-7zM1717 1373h12v4h-12zM1471 920h8v9h-8zM1384 775h9v6h-9zM1467 1467h6v10h-6zM1438 1091h14v10h-14zM1664 889h10v11h-10zM1889 935h9v9h-9zM1809 1463h7v11h-7zM2200 905h8v6h-8zM2162 936h11v12h-11zM2037 829h12v11h-12zM2047 870h16v7h-16zM2090 774h10v11h-10zM2138 814h11v5h-11zM2124 955h9v6h-9zM2094 685h16v12h-16zM2217 910h8v5h-8zM2146 870h14v6h-14zM354 1151h15v12h-15zM272 1255h15v6h-15zM283 1383h8v7h-8zM311 1438h6v6h-6zM252 1233h8v11h-8zM268 1378h14v8h-14zM303 1262h8v4h-8z" fill="#d0d0cc" opacity="0.8"/>
<path d="M330 286h15v5h-15zM370 140h15v9h-15zM470 131h9v4h-9zM522 199h7v6h-7zM433 301h13v6h-13zM437 150h15v4h-15zM421 160h7v9h-7zM405 280h11v6h-11zM390 179h6v7h-6zM388 322h13v7h-13zM558 348h8v11h-8zM359 177h14v10h-14zM546 214h5v9h-5zM598 135h9v8h-9zM290 1240h10v8h-10zM666 1125h14v9h-14zM637 1311h14v5h-14zM588 1140h8v4h-8zM261 900h11v11h-11zM422 673h6v12h-6zM403 1303h10v9h-10zM367 1417h15v11h-15zM392 974h15v6h-15zM295 1123h6v10h-6zM559 1207h15v8h-15zM353 1216h9v10h-9zM620 1291h16v10h-16zM550 677h13v10h-13zM674 377h9v12h-9zM452 961h15v9h-15zM331 1352h7v6h-7zM420 518h6v4h-6zM424 1146h6v9h-6zM584 1323h12v9h-12zM682 512h6v10h-6zM392 1184h12v11h-12zM420 811h8v8h-8zM660 1015h7v9h-7zM328 995h9v11h-9zM462 766h15v11h-15zM306 690h12v6h-12zM619 835h9v10h-9zM477 555h10v7h-10zM585 416h13v8h-13zM652 1464h7v7h-7zM459 581h14v10h-14zM412 401h7v8h-7zM313 500h15v12h-15zM695 1348h7v9h-7zM631 965h14v4h-14zM463 1425h8v6h-8zM1031 571h10v11h-10zM1019 269h6v9h-6zM845 634h10v10h-10zM946 355h12v7h-12zM1129 241h8v9h-8zM872 487h9v11h-9zM864 246h6v4h-6zM668 643h7v8h-7zM717 132h7v10h-7zM905 235h12v8h-12zM999 264h16v6h-16zM926 208h9v6h-9zM1260 115h6v7h-6zM1018 193h5v9h-5zM1029 471h8v10h-8zM691 123h8v11h-8zM661 551h13v7h-13zM1273 476h9v10h-9zM840 540h11v6h-11zM1059 125h9v6h-9zM1120 375h14v7h-14zM600 229h6v10h-6zM1111 225h5v4h-5zM895 519h9v6h-9zM630 545h7v5h-7zM722 500h6v12h-6zM810 333h7v4h-7zM829 359h16v6h-16zM782 633h9v8h-9zM802 127h5v4h-5zM969 166h11v8h-11zM1144 466h6v4h-6zM644 165h8v9h-8zM1123 546h13v10h-13zM1049 588h14v7h-14zM1164 206h13v10h-13zM1049 276h13v7h-13zM1272 590h14v4h-14zM951 132h9v8h-9zM837 319h7v9h-7zM1182 111h5v9h-5zM738 1236h7v8h-7zM861 1102h16v8h-16zM958 1244h12v8h-12zM1155 923h5v11h-5zM883 1006h6v11h-6zM1034 1409h5v8h-5zM1103 1021h9v11h-9zM1229 1256h9v10h-9zM880 894h15v4h-15zM1218 969h9v5h-9zM855 1250h13v6h-13zM1265 937h11v9h-11zM1104 1465h6v9h-6zM1061 998h9v10h-9zM932 1423h10v12h-10zM1082 1215h11v7h-11zM814 741h13v8h-13zM1056 833h12v6h-12zM1168 895h14v5h-14zM1258 859h8v5h-8zM1029 1173h14v8h-14zM1289 1227h14v10h-14zM764 1370h9v9h-9zM947 1462h9v10h-9zM1282 1067h14v10h-14zM774 1077h11v6h-11zM945 867h12v12h-12zM1247 1281h7v8h-7zM1269 885h15v7h-15zM711 1458h9v7h-9zM1142 1134h14v5h-14zM841 1084h16v11h-16zM904 939h11v10h-11zM828 996h5v11h-5zM1102 811h6v6h-6zM936 1261h15v11h-15zM2139 595h5v5h-5zM1432 538h13v8h-13zM1838 404h8v6h-8zM1559 360h13v11h-13zM1394 397h13v10h-13zM1507 330h8v12h-8zM1866 286h15v7h-15zM1397 556h8v8h-8zM1413 474h7v4h-7zM1791 557h6v8h-6zM1353 117h14v4h-14zM1348 360h12v8h-12zM2125 539h9v5h-9zM1924 561h15v5h-15zM1525 147h10v10h-10zM1864 461h13v8h-13zM2037 247h6v7h-6zM2223 464h14v8h-14zM1725 283h6v6h-6zM1502 365h8v8h-8zM1672 198h10v8h-10zM1703 383h7v12h-7zM1380 124h5v9h-5zM2163 165h11v10h-11zM1328 261h8v10h-8zM1691 212h10v4h-10zM1364 544h5v8h-5zM2247 359h15v9h-15zM2111 524h10v6h-10zM1873 393h10v5h-10zM1828 176h6v5h-6zM1642 206h14v11h-14zM1949 332h5v9h-5zM1424 122h9v8h-9zM1851 343h9v4h-9zM1917 229h7v7h-7zM1575 474h10v10h-10zM1865 121h10v7h-10zM2149 121h15v12h-15zM1570 116h6v7h-6zM1533 132h8v5h-8zM2095 529h12v6h-12zM2149 420h7v12h-7zM2144 481h11v8h-11zM1898 264h11v9h-11zM1336 475h14v4h-14zM1392 471h10v4h-10zM1377 533h5v5h-5zM1335 335h13v6h-13zM1885 320h10v11h-10zM1341 761h8v4h-8zM1489 769h13v9h-13zM1493 1012h15v7h-15zM1912 801h14v8h-14zM1695 913h15v5h-15zM1724 912h9v7h-9zM1587 1234h6v11h-6zM1535 917h14v10h-14zM1518 736h9v7h-9zM1397 1324h12v7h-12zM1614 750h8v8h-8zM1936 1260h15v4h-15zM1752 669h5v11h-5zM1345 732h15v5h-15zM1307 1382h11v5h-11zM1635 1163h9v5h-9zM1890 917h9v10h-9zM1955 898h13v5h-13zM1621 990h15v6h-15zM1537 692h15v11h-15zM1746 1300h15v7h-15zM1956 1065h6v10h-6zM1958 1032h6v11h-6zM1704 805h14v12h-14zM1519 1059h7v12h-7zM1620 1164h12v5h-12zM1550 1474h5v10h-5zM1878 1250h8v11h-8zM1919 1404h10v11h-10zM1867 1291h8v5h-8zM1980 614h16v4h-16zM1830 661h10v7h-10zM1539 820h13v8h-13zM1642 1077h14v10h-14zM1480 817h10v6h-10zM1719 1010h14v7h-14zM1324 1381h14v8h-14zM1963 711h12v10h-12zM1357 936h8v11h-8zM1594 1462h10v7h-10zM1313 934h14v5h-14zM1680 938h12v7h-12zM1561 918h5v10h-5zM1714 673h14v12h-14zM1335 805h10v6h-10zM1339 1194h13v9h-13zM1770 1394h16v9h-16zM1997 891h8v7h-8zM1865 1443h12v6h-12zM1405 737h6v5h-6zM2170 908h7v7h-7zM2207 739h6v8h-6zM2226 707h12v10h-12zM2083 922h9v10h-9zM2138 743h7v11h-7zM2070 890h15v7h-15zM2261 760h9v10h-9zM2234 847h16v9h-16zM261 1219h10v4h-10zM289 1180h5v9h-5zM356 1232h8v8h-8z" fill="#7a4c3e" opacity="0.8"/>
<path d="M369 329h11v4h-11zM303 220h11v5h-11zM496 296h7v5h-7zM277 338h16v10h-16zM326 277h7v8h-7zM439 156h8v7h-8zM316 257h5v5h-5zM494 294h15v8h-15zM346 237h8v9h-8zM449 326h6v7h-6zM393 332h11v4h-11zM371 771h10v8h-10zM440 666h8v10h-8zM654 449h5v9h-5zM284 542h12v9h-12zM670 932h9v5h-9zM410 626h6v6h-6zM352 461h9v12h-9zM614 1411h9v6h-9zM473 1125h6v10h-6zM413 1006h9v10h-9zM333 815h10v6h-10zM407 593h11v7h-11zM307 711h11v8h-11zM647 533h13v11h-13zM382 1295h15v9h-15zM368 674h7v10h-7zM538 903h5v11h-5zM446 470h15v4h-15zM260 432h12v6h-12zM404 760h13v8h-13zM262 1201h9v11h-9zM607 906h12v5h-12zM274 870h11v12h-11zM461 675h8v4h-8zM437 788h10v9h-10zM266 1245h11v7h-11zM665 976h13v8h-13zM687 961h5v6h-5zM547 1074h7v10h-7zM296 390h13v8h-13zM471 708h9v12h-9zM519 987h5v12h-5zM380 1302h10v8h-10zM604 975h9v6h-9zM600 1430h13v4h-13zM512 779h6v8h-6zM663 418h8v10h-8zM448 871h11v6h-11zM696 1223h7v4h-7zM300 593h14v6h-14zM520 1008h10v4h-10zM623 800h11v6h-11zM329 1234h6v8h-6zM596 674h10v11h-10zM1172 110h9v12h-9zM1288 264h13v7h-13zM968 319h5v8h-5zM1100 399h10v9h-10zM1125 189h9v4h-9zM1046 197h10v6h-10zM1108 683h11v6h-11zM1207 326h10v6h-10zM870 332h8v5h-8zM852 682h5v10h-5zM889 674h11v11h-11zM934 210h16v8h-16zM1278 337h5v8h-5zM923 372h11v12h-11zM649 440h6v8h-6zM826 449h9v10h-9zM700 156h13v9h-13zM1016 454h14v8h-14zM787 666h6v4h-6zM1037 111h7v10h-7zM810 221h7v7h-7zM843 659h6v9h-6zM663 294h11v9h-11zM629 125h14v8h-14zM1170 387h14v8h-14zM1156 179h10v12h-10zM1235 517h11v11h-11zM1194 267h15v9h-15zM894 153h13v11h-13zM614 361h15v8h-15zM1069 262h9v8h-9zM1208 466h13v7h-13zM961 351h11v6h-11zM973 407h10v7h-10zM1002 492h5v8h-5zM1098 123h12v8h-12zM804 206h11v12h-11zM1160 430h9v10h-9zM646 423h12v10h-12zM854 420h5v11h-5zM961 273h7v6h-7zM1118 520h10v5h-10zM683 263h6v11h-6zM1070 204h9v5h-9zM830 159h12v7h-12zM1236 599h7v6h-7zM1039 160h14v11h-14zM907 368h8v4h-8zM712 825h6v11h-6zM1118 1122h6v10h-6zM919 1167h8v6h-8zM1120 801h6v8h-6zM942 899h11v8h-11zM724 1191h14v8h-14zM1221 747h12v5h-12zM1105 1081h8v6h-8zM1264 1280h15v10h-15zM1142 773h5v10h-5zM901 1450h5v4h-5zM914 1157h13v7h-13zM1095 1127h15v5h-15zM913 1194h16v11h-16zM904 1151h12v7h-12zM922 1462h16v9h-16zM916 1362h6v4h-6zM1089 890h11v9h-11zM1007 1037h11v11h-11zM824 1189h13v5h-13zM824 949h12v10h-12zM918 929h8v11h-8zM1185 1057h10v10h-10zM944 793h6v5h-6zM1153 759h7v5h-7zM1021 875h12v11h-12zM799 1411h12v5h-12zM1229 1329h8v11h-8zM817 1293h11v4h-11zM908 1193h11v5h-11zM1498 109h12v12h-12zM2003 337h10v5h-10zM1794 249h14v9h-14zM1340 288h7v4h-7zM2128 332h5v8h-5zM1872 291h10v5h-10zM1557 131h10v12h-10zM2006 152h12v11h-12zM1376 374h13v5h-13zM2208 146h14v5h-14zM1690 231h11v5h-11zM2210 353h6v10h-6zM1638 200h6v10h-6zM1333 142h5v8h-5zM1992 272h8v5h-8zM1344 371h9v4h-9zM1890 356h13v11h-13zM1565 354h12v10h-12zM1516 519h15v9h-15zM1917 445h6v6h-6zM1978 128h13v5h-13zM1829 495h13v9h-13zM1956 566h7v9h-7zM1852 300h8v6h-8zM1823 275h13v9h-13zM2222 542h11v9h-11zM1763 219h10v6h-10zM2225 254h15v10h-15zM1468 524h13v8h-13zM1882 152h10v9h-10zM2187 144h8v9h-8zM1487 136h5v8h-5zM1355 546h10v5h-10zM1661 143h15v9h-15zM1413 340h9v7h-9zM1434 219h13v9h-13zM1340 597h6v5h-6zM1606 499h9v5h-9zM1787 600h6v9h-6zM1869 312h8v7h-8zM2036 400h11v8h-11zM1780 233h10v11h-10zM1734 364h14v7h-14zM1913 448h12v10h-12zM2132 406h8v7h-8zM2021 572h14v7h-14zM1961 764h15v4h-15zM1346 850h11v8h-11zM1702 1310h14v11h-14zM1965 1314h14v4h-14zM1887 803h7v10h-7zM1790 927h9v5h-9zM1832 922h13v12h-13zM1939 793h15v5h-15zM1655 1031h10v5h-10zM1622 1249h8v7h-8zM1828 1291h9v4h-9zM1546 1362h11v8h-11zM1789 1249h8v12h-8zM1350 901h15v10h-15zM1553 1440h12v6h-12zM1671 1235h9v10h-9zM1505 1038h7v6h-7zM1550 1187h10v7h-10zM1817 885h6v7h-6zM1394 743h9v9h-9zM1374 718h11v5h-11zM1993 1099h14v12h-14zM1760 731h13v5h-13zM1665 871h9v8h-9zM1558 898h8v11h-8zM1965 636h13v6h-13zM1860 1104h15v7h-15zM1706 994h6v11h-6zM1955 1451h10v9h-10zM1913 907h9v7h-9zM1411 711h7v10h-7zM1384 874h9v7h-9zM1771 958h6v8h-6zM1748 896h12v5h-12zM1802 932h6v11h-6zM1412 1378h15v8h-15zM1684 1433h6v7h-6zM1524 673h5v9h-5zM1767 1207h7v11h-7zM1781 750h15v11h-15zM1325 1380h6v12h-6zM1346 1332h9v7h-9zM1508 1251h9v5h-9zM1960 801h10v5h-10zM1866 1327h14v10h-14zM1894 1464h9v7h-9zM1589 888h15v8h-15zM1720 1117h11v10h-11zM1707 779h7v7h-7zM1518 1125h13v6h-13zM1440 1145h14v10h-14zM1881 1041h12v5h-12zM1931 1277h15v10h-15zM1728 839h10v8h-10zM1458 910h13v11h-13zM1993 618h6v7h-6zM1340 666h16v12h-16zM2075 923h12v10h-12zM2100 866h7v8h-7zM2234 794h16v6h-16zM2102 821h11v4h-11zM2018 733h14v8h-14zM2256 740h14v7h-14zM283 1182h12v4h-12zM302 1437h9v10h-9zM293 1391h13v11h-13zM326 1276h5v6h-5zM264 1173h9v5h-9zM302 1450h12v10h-12z" fill="#9a6a55" opacity="0.8"/>
<path d="M277 183h9v9h-9zM585 209h10v5h-10zM313 332h5v8h-5zM350 329h12v5h-12zM580 322h15v7h-15zM545 147h10v11h-10zM550 191h6v11h-6zM312 228h7v8h-7zM448 132h6v5h-6zM687 1448h10v6h-10zM604 1368h14v5h-14zM321 1270h7v8h-7zM485 942h9v12h-9zM255 1017h16v10h-16zM557 446h9v7h-9zM559 507h14v8h-14zM654 1168h12v8h-12zM421 1253h11v11h-11zM622 774h15v5h-15zM608 1446h9v6h-9zM556 1342h9v10h-9zM507 681h9v12h-9zM394 751h10v9h-10zM611 1081h9v8h-9zM572 400h10v9h-10zM284 653h15v12h-15zM362 1183h15v9h-15zM402 375h13v11h-13zM531 450h12v9h-12zM576 1418h10v9h-10zM259 818h6v7h-6zM639 687h6v9h-6zM372 477h12v6h-12zM496 1339h13v8h-13zM699 1253h5v6h-5zM255 1119h9v11h-9zM533 781h5v7h-5zM335 792h6v12h-6zM581 479h12v8h-12zM459 883h8v7h-8zM513 1320h8v10h-8zM558 1463h6v9h-6zM440 664h15v9h-15zM378 405h14v5h-14zM437 929h6v5h-6zM273 530h6v5h-6zM373 678h9v8h-9zM493 978h6v4h-6zM661 892h8v4h-8zM374 940h13v5h-13zM447 416h13v10h-13zM614 1429h10v4h-10zM527 1068h9v4h-9zM696 870h13v8h-13zM346 1188h6v9h-6zM304 1160h13v11h-13zM308 929h13v6h-13zM526 1049h8v5h-8zM633 601h10v4h-10zM306 1401h16v6h-16zM407 1302h6v9h-6zM641 1116h15v5h-15zM473 1170h9v4h-9zM594 882h8v10h-8zM527 1375h13v8h-13zM560 592h12v8h-12zM1070 322h6v9h-6zM1093 361h13v7h-13zM1163 248h9v7h-9zM1291 402h9v12h-9zM1236 682h6v8h-6zM1273 302h8v8h-8zM757 202h8v9h-8zM1260 365h8v4h-8zM958 195h15v4h-15zM824 416h11v7h-11zM813 521h10v8h-10zM648 446h13v5h-13zM1134 480h8v8h-8zM1062 280h13v7h-13zM1282 629h15v11h-15zM637 156h8v9h-8zM605 446h10v6h-10zM1091 336h11v12h-11zM1283 682h13v10h-13zM655 499h8v4h-8zM1227 295h11v4h-11zM1205 336h13v4h-13zM790 639h13v6h-13zM904 330h14v8h-14zM1238 692h5v7h-5zM697 683h13v8h-13zM902 520h7v9h-7zM1007 159h7v12h-7zM927 226h9v10h-9zM1144 316h14v11h-14zM1019 646h13v10h-13zM1243 460h11v12h-11zM1247 262h14v12h-14zM686 412h6v9h-6zM754 254h13v7h-13zM664 636h12v4h-12zM1256 284h10v8h-10zM1160 186h15v7h-15zM1271 319h13v7h-13zM615 637h11v12h-11zM639 245h14v5h-14zM1099 407h11v10h-11zM670 327h12v9h-12zM1300 457h11v7h-11zM776 606h6v5h-6zM964 510h7v4h-7zM888 246h12v9h-12zM979 453h5v9h-5zM975 489h11v5h-11zM1127 565h9v10h-9zM1032 568h8v6h-8zM789 135h6v10h-6zM648 230h14v12h-14zM679 380h11v8h-11zM788 664h10v5h-10zM1123 231h7v6h-7zM768 545h12v7h-12zM661 618h14v6h-14zM1239 462h14v7h-14zM635 516h10v6h-10zM999 444h12v11h-12zM912 181h11v9h-11zM962 625h9v5h-9zM1108 275h10v6h-10zM827 452h13v11h-13zM1116 121h15v5h-15zM750 453h14v5h-14zM705 132h8v8h-8zM1245 220h11v7h-11zM992 402h12v7h-12zM1233 588h16v12h-16zM1242 408h9v7h-9zM1086 713h5v11h-5zM844 1216h6v6h-6zM1035 1208h11v9h-11zM796 1372h10v5h-10zM1024 932h7v10h-7zM1090 1068h10v10h-10zM989 1137h16v5h-16zM1186 1052h13v5h-13zM776 1002h8v5h-8zM950 1065h16v5h-16zM822 1331h8v12h-8zM910 1241h14v11h-14zM1008 1188h11v11h-11zM861 995h7v8h-7zM987 1087h16v4h-16zM771 1344h15v8h-15zM1156 911h13v5h-13zM1243 1218h15v11h-15zM1197 883h10v9h-10zM961 764h13v8h-13zM784 1063h7v6h-7zM725 974h14v10h-14zM1238 1467h8v7h-8zM987 956h11v11h-11zM1041 1157h8v5h-8zM1102 1090h14v10h-14zM919 867h13v9h-13zM874 728h12v11h-12zM912 747h8v9h-8zM771 954h7v7h-7zM957 767h12v9h-12zM1273 1353h6v7h-6zM1094 859h11v9h-11zM813 903h14v7h-14zM1245 979h15v12h-15zM826 849h12v5h-12zM789 946h10v10h-10zM791 726h7v9h-7zM1114 1384h7v6h-7zM998 802h16v10h-16zM1226 859h14v11h-14zM1147 1356h13v11h-13zM752 1335h13v6h-13zM1114 1428h12v8h-12zM797 1365h9v11h-9zM715 1323h13v9h-13zM1165 1185h8v7h-8zM1046 845h10v10h-10zM735 763h11v7h-11zM825 988h15v7h-15zM808 1438h13v7h-13zM730 1266h6v8h-6zM1012 970h13v6h-13zM777 1034h6v10h-6zM926 801h11v5h-11zM978 1461h14v6h-14zM856 1145h10v5h-10zM1077 1195h12v11h-12zM752 781h6v10h-6zM943 946h13v6h-13zM1296 1149h14v8h-14zM1991 199h9v5h-9zM1427 359h7v10h-7zM1866 487h11v10h-11zM2243 525h7v6h-7zM2222 164h11v8h-11zM1484 562h9v8h-9zM1607 438h6v10h-6zM1474 527h11v9h-11zM2046 311h9v6h-9zM2123 397h16v11h-16zM1616 196h13v4h-13zM2207 598h15v7h-15zM1983 529h14v10h-14zM1824 506h9v5h-9zM1489 579h13v7h-13zM1758 596h10v8h-10zM2142 472h13v7h-13zM2072 569h11v5h-11zM1952 234h14v10h-14zM1536 376h6v11h-6zM1551 428h5v6h-5zM1605 148h15v6h-15zM1307 591h7v9h-7zM1458 432h14v6h-14zM2238 452h8v8h-8zM1728 500h6v8h-6zM1402 229h16v6h-16zM1869 317h12v5h-12zM1830 370h10v5h-10zM1720 369h7v12h-7zM2066 367h11v9h-11zM2251 369h8v7h-8zM1356 175h13v6h-13zM1621 280h11v8h-11zM1998 182h8v11h-8zM1477 556h7v7h-7zM2040 271h5v12h-5zM1596 421h15v9h-15zM1446 440h11v7h-11zM1543 153h10v9h-10zM1508 402h7v7h-7zM1622 260h10v8h-10zM1554 585h11v12h-11zM1508 239h7v5h-7zM1373 283h14v4h-14zM1815 413h11v11h-11zM2105 433h14v10h-14zM1916 170h13v12h-13zM1467 319h16v12h-16zM2055 414h7v6h-7zM2090 172h14v9h-14zM1820 444h7v11h-7zM1553 291h7v10h-7zM2220 580h14v4h-14zM1730 339h16v11h-16zM1487 184h16v4h-16zM1456 593h11v11h-11zM2140 540h7v9h-7zM1724 537h6v12h-6zM1513 204h13v6h-13zM1923 440h9v11h-9zM1406 175h15v7h-15zM1807 400h13v6h-13zM2060 456h7v11h-7zM2004 420h6v11h-6zM1438 449h9v9h-9zM1833 583h12v7h-12zM1654 494h14v4h-14zM1346 469h8v9h-8zM1699 548h14v10h-14zM1908 390h11v4h-11zM1680 187h12v9h-12zM1314 194h8v10h-8zM2011 301h7v10h-7zM1806 406h11v4h-11zM1301 391h8v6h-8zM1798 136h10v4h-10zM1855 133h9v8h-9zM2048 590h13v5h-13zM1641 496h12v11h-12zM1946 177h10v11h-10zM1788 170h13v8h-13zM1556 159h12v5h-12zM1624 253h15v8h-15zM1956 519h5v7h-5zM1979 250h6v9h-6zM1579 304h15v11h-15zM1851 120h9v4h-9zM2025 303h5v11h-5zM1781 371h10v8h-10zM1594 167h14v6h-14zM1631 481h10v9h-10zM1492 386h13v5h-13zM1522 699h7v9h-7zM1652 1376h6v6h-6zM1510 1056h16v11h-16zM1957 607h11v7h-11zM1990 685h8v11h-8zM1819 1132h9v7h-9zM1571 985h6v7h-6zM1982 1205h16v7h-16zM1396 1406h12v5h-12zM1809 789h7v11h-7zM1888 1295h9v7h-9zM1762 851h12v4h-12zM1339 896h10v12h-10zM1759 783h12v10h-12zM1503 1263h12v5h-12zM1522 646h12v6h-12zM1391 1170h16v6h-16zM1489 1166h5v9h-5zM1777 1206h10v9h-10zM1660 1095h13v10h-13zM1893 964h9v11h-9zM1467 1078h6v11h-6zM1936 776h12v11h-12zM1334 655h8v6h-8zM1336 704h9v9h-9zM1383 1205h7v5h-7zM1446 1326h13v11h-13zM1364 772h14v7h-14zM1587 1368h9v9h-9zM1332 958h8v11h-8zM1783 819h7v6h-7zM1821 1349h11v9h-11zM1735 1412h16v6h-16zM1866 615h15v6h-15zM1710 1333h13v6h-13zM1894 1118h10v11h-10zM1724 1211h8v8h-8zM1585 722h9v11h-9zM1674 809h12v6h-12zM1728 1081h11v8h-11zM1920 1465h5v11h-5zM1843 1302h11v12h-11zM1519 868h9v12h-9zM1392 1329h14v5h-14zM1335 957h7v10h-7zM1649 1173h9v10h-9zM1853 1303h15v6h-15zM1428 697h13v7h-13zM1526 753h13v10h-13zM1365 655h12v7h-12zM1756 1241h16v12h-16zM1850 1054h5v4h-5zM1484 1346h8v6h-8zM1301 943h15v5h-15zM1445 940h7v9h-7zM1818 913h5v10h-5zM1575 817h10v11h-10zM1669 640h12v7h-12zM1507 1209h13v10h-13zM1411 1123h16v6h-16zM1482 718h13v7h-13zM1545 928h6v9h-6zM1359 910h8v12h-8zM1405 945h8v8h-8zM1304 1424h11v11h-11zM1744 1295h13v9h-13zM1350 1115h5v11h-5zM1441 758h15v12h-15zM1359 1382h15v5h-15zM1675 1123h10v11h-10zM1493 1465h15v9h-15zM1736 920h7v5h-7zM1394 1370h8v6h-8zM1532 1383h5v8h-5zM1686 959h9v7h-9zM1362 1202h9v8h-9zM1624 1388h9v9h-9zM1342 1382h11v8h-11zM1909 800h6v8h-6zM1342 1405h10v9h-10zM1706 608h14v10h-14zM1387 1194h14v5h-14zM1407 1193h15v7h-15zM1345 1394h8v7h-8zM1827 1248h12v8h-12zM2238 814h8v8h-8zM2255 900h10v11h-10zM2228 859h13v10h-13zM2204 698h15v11h-15zM2160 791h8v5h-8zM335 1266h14v10h-14zM349 1180h16v10h-16zM277 1259h7v11h-7zM287 1467h12v8h-12zM297 1229h11v4h-11z" fill="#2f2c2b" opacity="0.8"/>
<rect x="2127" y="500" width="136" height="453" fill="#c8ccc4" opacity="0.18"/>
<g filter="url(#blur40)"><ellipse cx="1900" cy="1200" rx="50" ry="110" fill="#c0c0bc" opacity="0.35"/><ellipse cx="1905" cy="730" rx="30" ry="80" fill="#a8aaa4" opacity="0.45"/></g>
<rect x="1954" y="731" width="40" height="75" fill="#9c9c98" opacity="0.7" filter="url(#blur3)"/>
<ellipse cx="1990" cy="825" rx="25" ry="22" fill="#2c3528" opacity="0.8"/></g>
<g id="dots"><g fill="none" stroke-width="8.6" stroke-linecap="round"><path d="M436 1121h0M424 1108h0M453 1154h0M455 1160h0M452 1157h0M459 1169h0M467 900h0M472 901h0M483 899h0M475 892h0M479 906h0M418 1034h0M467 900h0M473 897h0M458 904h0M466 884h0M487 1020h0M492 1018h0M490 1016h0M468 1023h0M477 1020h0M497 902h0M491 904h0M496 905h0M485 914h0M412 1370h0M415 1377h0M411 1380h0M410 1378h0M404 1370h0M438 1146h0M433 1154h0M422 1137h0M426 1295h0M416 1292h0M461 1087h0M474 1065h0M478 1078h0M501 1224h0M491 1223h0M490 1148h0M485 1138h0M404 1025h0M408 1036h0M408 1038h0M490 1026h0M483 1026h0M488 1014h0M491 1019h0M488 1020h0M492 1320h0M473 1321h0M417 1074h0M413 1060h0M402 1074h0M412 1076h0M407 1082h0M417 1069h0M407 1093h0M413 1075h0M467 1255h0M432 1274h0M456 1246h0M465 1263h0M457 1154h0M498 982h0M482 984h0M487 982h0M479 975h0M474 986h0M469 988h0M484 990h0M480 987h0M438 1375h0M408 1082h0M405 1090h0M401 1099h0M411 1032h0M410 1030h0M400 1035h0M401 1008h0M417 1004h0M402 1026h0M496 1071h0M489 1069h0M495 1074h0M494 1070h0M498 1073h0M499 1065h0M413 1000h0M414 990h0M414 992h0M417 984h0M454 1364h0M440 1271h0M429 1291h0M462 1001h0M477 1092h0M464 1080h0M412 995h0M397 985h0M405 996h0M419 995h0M410 991h0M480 1263h0M485 972h0M487 979h0M471 990h0M467 986h0M496 1268h0M494 1282h0M416 1058h0M417 1059h0M414 1054h0M420 1054h0M410 1056h0M418 1059h0M407 1398h0M398 1387h0M405 1382h0M504 1200h0M501 1193h0M509 1193h0M497 1192h0M503 1181h0M499 1190h0M493 1047h0M481 1037h0M489 1051h0M487 1043h0M416 1107h0M403 1124h0M417 1102h0M494 1011h0M500 1001h0M401 1075h0M416 1074h0M409 1085h0M405 1079h0M416 1073h0M487 1070h0M447 1204h0M447 1204h0M487 1241h0M478 1246h0M495 1036h0M507 1030h0M501 1024h0M470 1352h0M467 1357h0M469 1362h0M469 1353h0M502 1318h0M440 1340h0M451 1336h0M441 1183h0M419 1184h0M403 1078h0M455 1343h0M451 1337h0M453 1331h0M459 1341h0M455 1332h0M459 1335h0M498 1178h0M501 1185h0M489 980h0M467 1354h0M447 980h0M474 1191h0M477 938h0M491 943h0M485 952h0M486 1243h0M412 927h0M414 1243h0M500 1327h0M501 1314h0M507 1319h0M495 1328h0M408 1309h0M414 1309h0M408 1307h0M408 1320h0M459 912h0M469 912h0M477 914h0M471 928h0M469 910h0M404 1338h0M413 1343h0M466 1290h0M472 1118h0M460 1107h0M455 1109h0M420 1041h0M427 1345h0M438 1328h0M432 1338h0M439 1313h0M433 1349h0M479 1194h0M489 1173h0M479 1268h0M507 1126h0M503 1133h0M505 1125h0M504 1147h0M501 1143h0M470 1201h0M487 1084h0M490 1087h0M499 1081h0M484 1086h0M447 1337h0M481 1092h0M467 1101h0M418 1100h0M500 1129h0M492 1119h0M479 1113h0M460 1301h0M498 933h0M488 929h0M507 943h0M493 923h0M421 1242h0M438 1236h0M484 1372h0M491 1369h0M488 1370h0M489 1362h0M486 1368h0M407 1080h0M407 1083h0M401 1085h0M451 927h0M500 1078h0M506 1072h0M512 1078h0M511 1070h0M504 1080h0M507 1083h0M509 1082h0M512 1077h0M499 1348h0M484 1333h0M437 1198h0M427 1101h0M445 1111h0M441 1112h0M418 1118h0M438 1106h0M505 1286h0M504 1283h0M503 1284h0M494 1286h0M506 1276h0M436 1278h0M431 1138h0M427 1136h0M419 1150h0M416 1139h0M404 1132h0M457 1055h0M465 1040h0M466 1040h0M459 1082h0M411 1072h0M419 1069h0M419 1076h0M488 1074h0M486 1057h0M485 1066h0M478 1075h0M417 964h0M412 968h0M423 974h0M417 965h0M418 958h0M492 1341h0M487 1318h0M501 1333h0M493 1339h0M464 1389h0M467 1388h0M454 1395h0M452 1390h0M433 1378h0M448 1390h0M509 1171h0M487 1178h0M483 1153h0M504 1160h0M493 1162h0M412 977h0M415 976h0M418 991h0M404 993h0M400 983h0M434 1336h0M456 1274h0M452 1268h0M420 1107h0M416 1096h0M423 1092h0M419 1088h0M429 1106h0M511 1240h0M496 1238h0M504 1299h0M466 1273h0M471 1299h0M471 1083h0M477 1052h0M479 1078h0M413 1117h0M409 1110h0M421 1095h0M482 1250h0M424 1116h0M426 1143h0M488 1069h0M505 1058h0M490 1126h0M487 1120h0M479 1127h0M401 916h0M396 903h0M406 916h0M402 903h0M409 914h0M418 911h0M408 905h0M419 919h0M436 979h0M447 968h0M469 1125h0M495 1069h0M494 1081h0M504 1071h0M502 1075h0M507 1088h0M509 1075h0M505 1083h0M456 901h0M486 1070h0M485 1058h0M491 1067h0M487 1287h0M478 1118h0M506 1117h0M473 963h0M481 957h0M398 1377h0M476 1235h0M408 1214h0M466 1384h0M475 1377h0M459 1174h0M483 1216h0M494 1203h0M459 1278h0M487 1323h0M488 1171h0M469 1224h0M475 1227h0M494 1214h0M419 958h0M415 964h0M416 967h0M420 936h0M431 947h0M421 1288h0M408 1299h0M406 1304h0M465 1267h0M462 1304h0M486 1032h0M492 1032h0M491 1030h0M488 1033h0M485 1041h0M479 1028h0M512 1346h0M512 1350h0M512 1344h0M505 1345h0M502 1349h0M500 1351h0M500 1335h0M430 1361h0M444 1364h0M422 1361h0M428 1343h0M451 1373h0M463 965h0M488 919h0M432 1302h0M449 1247h0M477 1238h0M458 1224h0M505 1332h0M500 1345h0M509 1346h0M453 1049h0M443 1045h0M506 1237h0M502 1238h0M445 1131h0M437 1118h0M442 1116h0M495 1030h0M484 1017h0M487 1016h0M493 1014h0M486 1014h0M415 1058h0M416 1062h0M426 1057h0M468 1279h0M444 970h0M463 952h0M450 971h0M511 1340h0M472 1199h0M405 1062h0M454 1269h0M408 1062h0M408 1066h0M417 1069h0M404 1061h0M414 1066h0M407 1071h0M504 1287h0M505 1275h0M509 1283h0M502 1282h0M497 1278h0M506 1286h0M469 1094h0M412 1215h0M402 1221h0M404 1204h0M409 1231h0M408 1228h0M406 1233h0M459 1371h0M442 1364h0M478 1360h0M483 1362h0M474 1353h0M503 1243h0M507 1242h0M508 1239h0M502 1235h0M480 934h0M478 935h0M482 935h0M483 937h0M478 940h0M446 1205h0M431 980h0M432 976h0M475 924h0M482 916h0M478 1207h0M407 1342h0M456 1342h0M462 1339h0M490 1024h0M476 907h0M470 903h0M458 1080h0M429 1148h0M435 1145h0M468 1158h0M465 1146h0M464 1152h0M487 1046h0M485 1063h0M480 1065h0M507 1070h0M493 1065h0M400 1168h0M401 1159h0M473 1063h0M477 1070h0M509 990h0M430 1298h0M450 1300h0M424 1308h0M436 1293h0M445 1298h0M431 1293h0M485 1262h0M506 1275h0M503 1273h0M466 1041h0M474 1054h0M440 971h0M466 973h0M472 976h0M471 960h0M456 979h0M457 983h0M458 978h0M500 1316h0M418 1017h0M401 1019h0M399 1012h0M505 1371h0M504 1375h0M505 1376h0M443 1366h0M491 951h0M502 1164h0M500 1162h0M502 1327h0M502 1325h0M506 1322h0M501 1320h0M403 1090h0M405 1092h0M449 1113h0M449 1126h0M438 1107h0M411 950h0M410 954h0M404 952h0M492 1021h0M511 1011h0M481 1000h0M485 1004h0M497 1030h0M475 1018h0M490 1027h0M476 1012h0M482 1017h0M936 828h0M921 806h0M922 820h0M916 816h0M936 827h0M863 842h0M1074 766h0M1069 774h0M1074 774h0M432 878h0M429 881h0M441 879h0M428 875h0M423 880h0M435 892h0M424 885h0M1072 793h0M1079 806h0M1072 799h0M656 913h0M657 914h0M647 920h0M648 912h0M653 906h0M646 924h0M1004 804h0M998 820h0M996 800h0M989 807h0M1010 815h0M886 805h0M878 815h0M882 811h0M889 807h0M863 816h0M874 814h0M651 905h0M649 917h0M659 917h0M897 882h0M888 896h0M873 872h0M796 826h0M804 830h0M798 835h0M805 845h0M796 834h0M1038 840h0M1047 830h0M1041 825h0M1036 840h0M1052 833h0M1096 792h0M1090 786h0M1086 774h0M1091 791h0M1096 788h0M1092 787h0M1067 783h0M1059 777h0M1081 767h0M1079 776h0M934 768h0M934 761h0M947 774h0M924 764h0M837 828h0M837 850h0M837 841h0M828 837h0M834 834h0M831 821h0M840 855h0M838 833h0M835 842h0M1060 781h0M1076 778h0M1075 780h0M1061 781h0M700 929h0M702 928h0M701 923h0M1079 764h0M1093 761h0M718 891h0M721 852h0M603 849h0M613 839h0M618 847h0M773 847h0M781 853h0M781 853h0M778 854h0M509 861h0M489 860h0M520 849h0M483 855h0M478 860h0M515 860h0M511 851h0M1119 820h0M1099 832h0M1118 814h0M1129 812h0M1117 804h0M672 855h0M657 893h0M644 876h0M668 871h0M850 819h0M849 815h0M850 814h0M799 915h0M795 914h0M793 909h0M585 890h0M599 892h0M680 890h0M665 886h0M1011 744h0M999 739h0M984 743h0M993 746h0M1009 746h0M426 912h0M422 928h0M432 932h0M456 930h0M434 933h0M450 932h0M685 859h0M675 861h0M674 876h0M669 856h0M668 873h0M679 878h0M678 864h0M863 792h0M869 781h0M874 789h0M858 791h0M853 787h0M857 786h0M857 787h0M863 783h0M776 834h0M776 843h0M776 843h0M766 846h0M777 845h0M770 846h0M954 740h0M969 742h0M973 745h0M959 761h0M958 742h0M954 751h0M621 867h0M614 855h0M609 862h0M617 871h0M579 888h0M596 888h0M578 879h0M570 889h0M577 880h0M572 891h0M572 886h0M866 851h0M868 855h0M848 858h0M841 836h0M845 854h0M839 837h0M839 842h0M839 843h0M464 904h0M453 905h0M450 916h0M465 910h0M442 845h0M450 845h0M463 860h0M466 846h0M892 862h0M901 844h0M493 880h0M493 876h0M489 884h0M488 877h0M475 887h0M1071 831h0M1054 820h0M1049 756h0M1047 751h0M1050 764h0M516 854h0M512 841h0M526 856h0M515 833h0M510 848h0M509 834h0M520 836h0M506 836h0M520 833h0M483 909h0M472 911h0M497 914h0M518 886h0M528 866h0M528 882h0M524 877h0M530 887h0M519 876h0M527 876h0M533 878h0M851 810h0M851 830h0M957 774h0M585 852h0M576 842h0M579 838h0M597 846h0M595 843h0M583 858h0M592 850h0M529 872h0M535 872h0M512 926h0M510 904h0M534 912h0M515 918h0M890 779h0M900 765h0M889 788h0M441 878h0M459 880h0M896 860h0M919 847h0M493 840h0M504 827h0M497 851h0M484 836h0M728 824h0M736 828h0M734 821h0M740 824h0M731 816h0M717 911h0M731 913h0M719 914h0M737 912h0M729 903h0M542 872h0M525 867h0M545 847h0M549 874h0M539 870h0M413 906h0M419 910h0M409 917h0M413 911h0M903 855h0M894 867h0M883 876h0M915 857h0M607 928h0M599 929h0M598 921h0M610 923h0M580 927h0M594 918h0M459 898h0M465 893h0M454 888h0M462 886h0M462 885h0M456 895h0M1071 734h0M1078 751h0M767 921h0M771 915h0M774 916h0M767 916h0M905 842h0M900 841h0M906 841h0M905 838h0M912 841h0M903 838h0M898 833h0M906 842h0M910 841h0M952 745h0M924 745h0M922 751h0M936 758h0M500 871h0M501 854h0M505 861h0M497 869h0M507 867h0M501 871h0M852 877h0M844 889h0M1017 848h0M1020 833h0M1015 839h0M1007 836h0M1026 827h0M1006 833h0M1017 826h0M582 880h0M574 878h0M577 870h0M579 873h0M930 758h0M941 748h0M947 750h0M972 742h0M976 746h0M966 757h0M961 748h0M1060 785h0M1060 780h0M1071 776h0M1061 771h0M771 892h0M779 888h0M780 892h0M1017 755h0M1016 756h0M1022 760h0M1019 760h0M655 874h0M663 881h0M669 876h0M813 837h0M837 809h0M835 826h0M819 809h0M823 823h0M748 820h0M748 822h0M741 831h0M718 813h0M1101 788h0M1094 805h0M1102 798h0M1068 792h0M1078 793h0M1065 796h0M1068 805h0M1076 792h0M1071 791h0M758 885h0M756 900h0M897 832h0M875 806h0M444 892h0M465 889h0M445 904h0M452 888h0M457 880h0M443 896h0M454 897h0M456 897h0M457 896h0M827 811h0M821 816h0M816 808h0M693 856h0M702 866h0M694 858h0M701 854h0M622 903h0M625 922h0M622 925h0M643 921h0M612 914h0M603 924h0M589 913h0M994 778h0M1001 764h0M517 832h0M532 838h0M859 837h0M926 816h0M916 835h0M915 839h0M916 829h0M898 820h0M896 828h0M910 845h0M925 840h0M643 850h0M645 852h0M642 846h0M639 850h0M646 846h0M636 857h0M645 850h0M431 916h0M424 932h0M419 913h0M425 926h0M446 932h0M809 846h0M804 848h0M905 872h0M907 865h0M913 865h0M908 865h0M818 844h0M825 858h0M816 848h0M816 846h0M682 892h0M678 895h0M671 901h0M667 878h0M966 826h0M978 813h0M448 922h0M451 924h0M442 917h0M443 927h0M452 922h0M452 927h0M446 926h0M908 799h0M888 795h0M742 921h0M750 911h0M749 919h0M742 917h0M745 927h0M985 831h0M997 825h0M1008 840h0M996 835h0M977 834h0M1061 736h0M756 915h0M740 900h0M720 912h0M738 916h0M444 901h0M449 894h0M447 892h0M451 893h0M1060 802h0M629 903h0M625 898h0M629 899h0M629 904h0M617 892h0M630 900h0M622 902h0M630 903h0M706 923h0M733 914h0M731 925h0M737 915h0M708 826h0M707 845h0M714 818h0M716 820h0M728 819h0M702 830h0M1001 763h0M995 768h0M990 775h0M997 771h0M998 774h0M761 905h0M762 894h0M755 898h0M768 892h0M759 893h0M690 849h0M722 843h0M710 860h0M703 847h0M700 877h0M693 879h0M823 876h0M813 883h0M818 871h0M816 871h0M818 867h0M607 842h0M616 841h0M962 807h0M959 800h0M963 812h0M854 842h0M850 835h0M851 843h0M851 841h0M815 850h0M803 844h0M806 839h0M1022 846h0M1020 846h0M1010 844h0M1005 842h0M1008 846h0M1025 840h0M1020 836h0M1012 841h0M1027 841h0M943 799h0M944 794h0M958 789h0M950 799h0M782 894h0M773 862h0M775 858h0M784 845h0M765 873h0M760 882h0M800 890h0M805 869h0M668 898h0M672 902h0M672 891h0M852 814h0M841 814h0M643 839h0M646 834h0M649 822h0M654 823h0M664 830h0M647 832h0M568 870h0M460 928h0M468 924h0M463 928h0M674 900h0M676 919h0M683 912h0M667 924h0M720 889h0M721 903h0M727 894h0M591 867h0M598 872h0M595 858h0M596 870h0M600 878h0M593 872h0M602 868h0M596 872h0M852 840h0M870 834h0M790 919h0M774 920h0M786 925h0M471 909h0M459 915h0M450 900h0M456 920h0M460 910h0M455 917h0M461 919h0M457 908h0M461 907h0M957 816h0M935 829h0M949 824h0M936 815h0M944 805h0M939 820h0M932 816h0M939 810h0M675 855h0M673 858h0M669 860h0M660 863h0M668 852h0M696 924h0M701 917h0M684 912h0M688 916h0M464 834h0M460 837h0M471 823h0M461 834h0M462 827h0M467 824h0M928 851h0M1055 841h0M1050 840h0M1062 840h0M1062 843h0M1055 844h0M1052 835h0M1043 840h0M1051 840h0M464 881h0M464 866h0M468 864h0M464 873h0M472 868h0M471 871h0M472 876h0M525 857h0M506 860h0M520 858h0M522 859h0M534 861h0M529 857h0M527 862h0M530 855h0M518 869h0M437 832h0M446 819h0M982 852h0M963 841h0M973 849h0M975 851h0M735 896h0M736 903h0M737 890h0M745 891h0M731 897h0M732 883h0M572 898h0M577 887h0M582 889h0M582 904h0M569 897h0M572 903h0M577 896h0M567 897h0M580 892h0M451 843h0M444 842h0M448 839h0M446 832h0M839 818h0M836 826h0M833 819h0M821 830h0M843 826h0M950 748h0M947 747h0M945 746h0M949 748h0M959 740h0M419 893h0M441 898h0M453 893h0M447 902h0M446 918h0M446 903h0M426 890h0M445 891h0M449 912h0M448 900h0M1040 762h0M1046 742h0M1051 767h0M1045 764h0M1043 753h0M1054 763h0M933 843h0M927 843h0M928 842h0M927 840h0M941 849h0M938 850h0M552 843h0M536 826h0M544 844h0M419 882h0M416 865h0M426 870h0M702 911h0M687 925h0M681 909h0M673 913h0M683 914h0M680 907h0M673 844h0M675 837h0M667 836h0M664 827h0M680 832h0M669 833h0M668 837h0M781 847h0M745 843h0M517 915h0M518 919h0M532 917h0M513 908h0M509 910h0M531 895h0M519 916h0M516 904h0M854 880h0M863 878h0M854 886h0M855 885h0M859 880h0M863 879h0M1053 733h0M1056 745h0M1047 738h0M1057 733h0M1060 735h0M1063 735h0M525 842h0M532 851h0M525 849h0M524 837h0M536 829h0M534 851h0M538 853h0M704 865h0M716 855h0M705 863h0M703 866h0M688 862h0M697 848h0M752 822h0M769 816h0M756 841h0M761 816h0M763 836h0M763 831h0M692 921h0M681 910h0M691 921h0M687 914h0M688 915h0M893 822h0M1015 764h0M1055 824h0M1063 839h0M500 919h0M502 922h0M506 918h0M507 924h0M502 923h0M507 919h0M506 918h0M507 922h0M499 923h0M933 751h0M927 769h0M904 844h0M904 826h0M913 821h0M552 865h0M555 860h0M560 854h0M557 865h0M558 848h0M566 845h0M559 856h0M567 850h0M774 845h0M792 828h0M778 839h0M765 840h0M770 833h0M787 925h0M786 901h0M796 923h0M776 913h0M781 924h0M793 926h0M488 929h0M497 922h0M488 922h0M485 922h0M477 927h0M486 933h0M490 923h0M490 916h0M485 927h0M726 923h0M711 920h0M496 820h0M473 869h0M451 863h0M448 851h0M443 853h0M455 864h0M435 853h0M611 867h0M643 871h0M630 848h0M612 858h0M611 872h0M620 857h0M622 862h0M615 870h0M608 872h0M406 917h0M425 915h0M403 903h0M406 921h0M409 893h0M400 911h0M399 907h0M740 888h0M734 898h0M742 881h0M736 888h0M740 858h0M727 848h0M720 849h0M717 861h0M741 852h0M666 914h0M680 914h0M670 913h0M669 914h0M668 925h0M669 917h0M787 839h0M983 770h0M1018 761h0M993 758h0M989 754h0M989 749h0M866 836h0M865 826h0M557 830h0M556 845h0M557 838h0M551 834h0M557 840h0M873 861h0M872 861h0M896 852h0M530 834h0M536 822h0M530 827h0M531 837h0M532 827h0M535 831h0M814 843h0M823 853h0M816 857h0M549 919h0M543 907h0M537 917h0M537 934h0M500 895h0M510 896h0M508 888h0M518 884h0M502 884h0M501 884h0M660 913h0M650 898h0M998 776h0M984 781h0M991 767h0M992 779h0M770 849h0M770 853h0M1031 797h0M1034 795h0M1026 778h0M1032 771h0M1026 783h0M1014 782h0M942 748h0M931 754h0M958 752h0M940 743h0M951 755h0M490 829h0M479 828h0M487 847h0M486 862h0M467 839h0M466 843h0M490 822h0M477 824h0M605 874h0M594 876h0M604 879h0M599 872h0M750 897h0M742 894h0M747 895h0M743 895h0M741 899h0M740 897h0M767 920h0M760 921h0M980 805h0M1005 791h0M995 811h0M992 804h0M1081 785h0M1087 775h0M1086 787h0M1083 775h0M996 826h0M991 834h0M984 820h0M983 821h0M996 829h0M974 819h0M663 891h0M698 880h0M663 897h0M676 899h0M672 901h0M684 905h0M806 824h0M811 834h0M814 818h0M811 829h0M789 824h0M811 817h0M976 759h0M975 759h0M960 746h0M988 758h0M464 829h0M450 820h0M467 821h0M927 801h0M927 818h0M939 800h0M931 793h0M1029 743h0M1038 744h0M1029 750h0M1031 738h0M1035 746h0M1031 749h0M1029 738h0M1036 743h0M1030 743h0M1025 758h0M574 906h0M557 892h0M563 903h0M542 845h0M540 834h0M546 837h0M540 839h0M473 858h0M473 855h0M469 855h0M467 848h0M473 864h0M480 852h0M477 857h0M613 873h0M610 853h0M632 871h0M612 882h0M616 876h0M628 887h0M631 897h0M630 885h0M629 888h0M628 900h0M633 884h0M636 885h0M635 898h0M614 869h0M617 852h0M623 863h0M744 875h0M744 885h0M735 882h0M743 879h0M749 879h0M951 771h0M946 756h0M956 757h0M450 825h0M440 834h0M448 840h0M446 819h0M447 820h0M439 822h0M441 842h0M439 835h0M769 893h0M775 901h0M775 891h0M928 806h0M926 811h0M930 825h0M937 810h0M882 853h0M890 839h0M894 830h0M887 844h0M908 836h0M891 844h0M895 866h0M878 835h0M898 827h0M1080 829h0M1075 813h0M1080 812h0M1070 818h0M766 841h0M753 820h0M777 835h0M764 839h0M760 825h0M773 846h0M948 857h0M955 851h0M970 839h0M962 846h0M962 854h0M955 840h0M982 851h0M548 922h0M545 923h0M544 918h0M549 926h0M547 920h0M554 921h0M547 923h0M545 925h0M549 921h0M514 888h0M503 918h0M771 857h0M781 843h0M796 852h0M786 861h0M518 914h0M516 911h0M508 909h0M505 910h0M528 911h0M489 900h0M514 910h0M997 746h0M999 747h0M1000 749h0M999 764h0M617 849h0M627 834h0M609 820h0M612 838h0M621 834h0M1050 820h0M1039 817h0M1044 838h0M845 853h0M851 851h0M832 855h0M835 844h0M839 867h0M827 859h0M1044 845h0M1051 835h0M1051 833h0M1059 840h0M1043 833h0M1060 834h0M1038 842h0M630 913h0M640 922h0M636 900h0M629 913h0M919 816h0M904 828h0M922 821h0M895 830h0M597 917h0M587 919h0M591 915h0M578 932h0M587 926h0M902 774h0M1023 760h0M1025 757h0M932 753h0M927 756h0M931 755h0M991 798h0M1018 822h0M1000 819h0M1001 833h0M1001 819h0M663 855h0M651 844h0M659 849h0M662 832h0M648 831h0M656 844h0M656 842h0M660 840h0M655 840h0M652 842h0M706 841h0M695 851h0M695 837h0M697 832h0M446 887h0M429 884h0M450 912h0M433 905h0M433 887h0M649 823h0M680 841h0M421 926h0M420 921h0M415 920h0M416 926h0M425 923h0M423 920h0M418 918h0M419 917h0M433 838h0M434 850h0M430 853h0M427 857h0M436 848h0M436 842h0M428 853h0M432 846h0M510 869h0M510 855h0M1089 787h0M1097 776h0M1091 788h0M1097 786h0M519 882h0M512 876h0M512 869h0M681 836h0M692 840h0M681 840h0M675 834h0M671 837h0M696 843h0M942 805h0M964 825h0M996 803h0M1000 816h0M668 852h0M653 850h0M644 839h0M659 852h0M590 869h0M561 871h0M591 859h0M597 869h0M574 863h0M573 866h0M430 865h0M427 872h0M436 879h0M446 867h0M433 860h0M841 877h0M840 881h0M839 879h0M826 886h0M1098 769h0M1099 776h0M1092 765h0M1095 772h0M1055 828h0M1053 838h0M1057 829h0M1050 835h0M1049 830h0M950 835h0M951 836h0M985 827h0M945 833h0M965 832h0M686 893h0M692 900h0M696 901h0M699 890h0M700 903h0M954 846h0M920 832h0M910 830h0M931 860h0M942 839h0M933 844h0M590 869h0M577 868h0M588 872h0M585 862h0M581 880h0M774 816h0M761 832h0M767 843h0M756 842h0M767 847h0M771 833h0M749 832h0M639 836h0M651 848h0M651 843h0M650 824h0M641 847h0M656 848h0M643 844h0M631 848h0M558 902h0M558 899h0M562 910h0M549 910h0M541 904h0M551 905h0M554 915h0M557 905h0M690 898h0M694 910h0M694 906h0M695 915h0M700 909h0M695 908h0M894 860h0M880 852h0M900 875h0M903 876h0M909 875h0M899 875h0M907 882h0M1068 810h0M1064 794h0M1052 789h0M1066 773h0M1064 785h0M922 822h0M893 826h0M895 825h0M894 834h0M909 843h0M910 844h0M898 825h0M837 848h0M828 813h0M834 847h0M821 826h0M816 827h0M830 823h0M816 823h0M814 842h0M447 915h0M431 927h0M440 918h0M437 916h0M441 918h0M449 913h0M436 922h0M442 922h0M448 922h0M434 918h0M736 812h0M413 888h0M418 885h0M423 883h0M422 889h0M901 807h0M916 812h0M1063 731h0M1065 742h0M1069 739h0M795 851h0M813 843h0M696 871h0M704 890h0M688 886h0M700 886h0M478 887h0M491 860h0M492 889h0M431 907h0M429 897h0M412 913h0M432 907h0M439 888h0M975 758h0M981 755h0M986 764h0M986 740h0M898 845h0M900 826h0M895 855h0M890 852h0M896 850h0M901 843h0M603 907h0M600 911h0M599 909h0M747 864h0M756 863h0M747 870h0M749 867h0M757 870h0M750 865h0M751 886h0M761 880h0M764 871h0M752 887h0M751 878h0M759 878h0M752 881h0M760 892h0M889 865h0M890 864h0M1071 800h0M1072 815h0M761 832h0M768 836h0M603 863h0M612 857h0M604 860h0M610 866h0M969 771h0M970 756h0M972 757h0M556 836h0M562 839h0M562 836h0M561 834h0M556 836h0M555 835h0M561 826h0M888 837h0M667 888h0M672 888h0M682 878h0M663 886h0M669 886h0M575 876h0M572 882h0M964 765h0M973 767h0M972 769h0M980 764h0M978 765h0M969 771h0M707 920h0M702 921h0M699 919h0M828 811h0M833 805h0M816 811h0M577 903h0M565 897h0M582 892h0M599 907h0M598 913h0M566 889h0M879 881h0M850 895h0M653 834h0M658 820h0M673 832h0M671 828h0M669 831h0M656 825h0M664 905h0M690 892h0M458 847h0M458 839h0M460 841h0M459 845h0M459 844h0M457 846h0M456 847h0M466 849h0M811 848h0M805 845h0M808 838h0M805 843h0M805 850h0M799 849h0M804 839h0M809 846h0M806 857h0M804 854h0M816 834h0M811 845h0M491 867h0M494 857h0M503 876h0M496 857h0M506 859h0M497 872h0M609 850h0M999 799h0M1001 792h0M995 785h0M996 786h0M993 783h0M972 797h0M519 923h0M530 921h0M529 914h0M523 917h0M527 920h0M524 919h0M530 926h0M1068 678h0M1070 671h0M1083 665h0M1060 779h0M1072 736h0M1049 643h0M1060 645h0M1067 656h0M1079 668h0M1075 674h0M1090 669h0M1078 617h0M1067 610h0M1074 601h0M1066 602h0M1075 608h0M1059 778h0M1083 771h0M1078 675h0M1057 759h0M1077 675h0M1078 754h0M1472 355h0M1484 288h0M1046 306h0M1566 336h0M1537 345h0M1540 343h0M1544 356h0M1551 338h0M1589 291h0M1576 285h0M1578 287h0M1570 287h0M1578 289h0M1575 294h0M1575 299h0M1140 355h0M1568 366h0M1561 359h0M1562 350h0M1590 333h0M1137 318h0M1545 318h0M1195 322h0M1201 324h0M1198 311h0M1190 328h0M1190 323h0M1193 323h0M1443 359h0M1514 285h0M1104 348h0M1109 340h0M1405 292h0M1203 309h0M1510 345h0M1515 342h0M1448 264h0M1453 267h0M1585 290h0M1564 306h0M1509 364h0M1511 362h0M1612 347h0M1609 343h0M1609 347h0M1607 348h0M1609 344h0M1611 352h0M1572 348h0M1595 363h0M1599 365h0M1218 298h0M1206 299h0M1466 327h0M1224 296h0M1224 298h0M1214 296h0M1570 298h0M1576 304h0M1574 303h0M1609 328h0M1595 313h0M1592 325h0M1143 344h0M1109 346h0M1096 344h0M1560 265h0M1113 321h0M1576 287h0M1576 292h0M1568 293h0M1564 290h0M1569 277h0M1563 285h0M1040 308h0M1434 311h0M1506 274h0M1593 269h0M1591 285h0M1596 278h0M1591 294h0M1590 287h0M1594 288h0M1604 281h0M1531 275h0M1105 337h0M1590 354h0M1583 357h0M1598 356h0M1584 360h0M1447 352h0M1210 305h0M1224 300h0M1531 299h0M1529 296h0M1575 286h0M1449 303h0M1509 336h0M1126 252h0M1571 303h0M1583 312h0M1576 313h0M1122 298h0M1139 319h0M1206 301h0M1206 314h0M1125 299h0M1598 326h0M1588 332h0M1603 325h0M1578 311h0M1596 320h0M1107 253h0M1443 274h0M1424 269h0M1427 278h0M1094 335h0M1077 342h0M1530 305h0M1580 359h0M1580 365h0M1587 358h0M1573 358h0M1597 344h0M1602 348h0M1603 358h0M1605 351h0M1606 345h0M1610 348h0M1600 347h0M1608 348h0M1455 328h0M1454 280h0M1455 269h0M1068 315h0M1526 339h0M1521 330h0M1518 332h0M1604 362h0M1535 316h0M1532 318h0M1218 306h0M1218 300h0M1568 348h0M1578 334h0M1214 329h0M1214 323h0M1218 330h0M1212 327h0M1565 289h0M1579 292h0M1567 291h0M1568 302h0M1442 306h0M1433 296h0M1431 296h0M1428 303h0M1577 345h0M1585 352h0M1409 330h0M1095 351h0M1093 352h0M1595 314h0M1610 329h0M1608 305h0M1605 302h0M1116 293h0M1147 354h0M1123 352h0M1542 283h0M1561 277h0M1431 331h0M1576 369h0M1567 370h0M1571 368h0M1567 375h0M1574 363h0M1574 367h0M1567 360h0M1573 374h0M1557 267h0M1536 349h0M1430 318h0M1183 302h0M1561 284h0M1562 295h0M1451 370h0M1572 356h0M1571 351h0M1571 358h0M1577 356h0M1413 330h0M1208 309h0M1197 306h0M1191 304h0M1197 302h0M1198 308h0M1668 334h0M1666 339h0M1674 330h0M1669 330h0M1678 335h0M1678 325h0M1604 288h0M1970 296h0M1975 292h0M1983 312h0M1991 306h0M1747 295h0M1750 291h0M1740 304h0M1743 297h0M1748 303h0M1743 301h0M1747 299h0M1767 229h0M1759 219h0M1753 220h0M1756 205h0M1757 229h0M1752 240h0M1755 233h0M2067 329h0M2086 328h0M2091 328h0M2076 323h0M2067 329h0M1764 263h0M1763 270h0M1764 273h0M1761 271h0M1764 270h0M1751 210h0M1747 206h0M1757 205h0M1740 268h0M1767 280h0M1737 270h0M1767 282h0M1766 264h0M1749 265h0M1764 272h0M1762 288h0M1758 262h0M1911 300h0M1900 332h0M2023 332h0M2002 349h0M2017 359h0M2012 349h0M2086 347h0M2093 342h0M2088 343h0M2095 350h0M1730 191h0M1733 206h0M1576 264h0M1576 263h0M1571 276h0M1564 263h0M1576 278h0M2003 315h0M2003 297h0M2009 301h0M2004 308h0M2008 298h0M1995 301h0M2009 298h0M2010 307h0M2013 307h0M2172 326h0M2179 328h0M2172 328h0M2177 332h0M2154 329h0M2180 326h0M2080 307h0M2080 304h0M1681 316h0M1691 316h0M1691 310h0M1702 319h0M1702 324h0M2125 416h0M2063 325h0M2037 327h0M2040 346h0M2047 335h0M2052 319h0M2044 326h0M1575 353h0M1600 348h0M1986 387h0M1996 393h0M1988 402h0M1992 391h0M1987 396h0M1982 397h0M1918 249h0M1909 242h0M1923 249h0M1923 247h0M1914 257h0M1909 240h0M1913 254h0M1926 249h0M2108 358h0M2109 361h0M1688 293h0M2080 346h0M2092 345h0M2077 340h0M2081 335h0M2088 345h0M1724 288h0M1723 301h0M1732 275h0M1713 286h0M1722 267h0M1720 284h0M1722 267h0M1730 277h0M1701 283h0M1721 297h0M1704 281h0M1733 273h0M1721 270h0M1697 281h0M1590 320h0M1590 303h0M1585 280h0M2096 339h0M2080 346h0M2088 351h0M2096 350h0M2091 351h0M2071 345h0M2077 340h0M2095 396h0M2082 393h0M2086 403h0M2079 398h0M2081 398h0M2071 387h0M2101 347h0M2108 361h0M1832 225h0M1833 223h0M1838 227h0M1829 224h0M1836 222h0M1835 236h0M1851 283h0M1840 318h0M1828 298h0M1950 318h0M1971 326h0M1974 334h0M1976 332h0M1977 333h0M1962 323h0M1952 326h0M1959 329h0M1980 334h0M1870 273h0M1866 283h0M1871 279h0M2023 388h0M2043 380h0M2013 382h0M2033 405h0M2017 393h0M1896 296h0M1887 290h0M1895 282h0M1907 292h0M1905 298h0M1910 281h0M1903 291h0M1661 264h0M1774 192h0M1774 180h0M1770 179h0M1766 181h0M2124 402h0M2125 386h0M2135 398h0M2132 379h0M1640 242h0M1639 241h0M1928 354h0M1926 372h0M1912 357h0M1931 383h0M1711 245h0M1719 249h0M1708 237h0M1715 240h0M1718 243h0M1715 250h0M1709 250h0M1715 194h0M1733 204h0M1718 200h0M1737 288h0M1737 280h0M1733 281h0M1746 295h0M1730 280h0M1727 280h0M1750 288h0M1726 295h0M1728 288h0M1766 290h0M1778 283h0M1766 272h0M1779 300h0M1760 278h0M1761 288h0M1591 351h0M1589 358h0M1582 365h0M1992 416h0M1993 422h0M1881 243h0M1881 247h0M1883 253h0M1885 237h0M1823 304h0M1806 302h0M1816 300h0M1605 248h0M1626 257h0M2077 416h0M2087 427h0M1690 313h0M1681 346h0M1694 332h0M1696 324h0M1687 325h0M1701 315h0M1981 422h0M1987 442h0M1988 435h0M1970 437h0M1669 216h0M1874 240h0M1878 238h0M1886 241h0M1875 238h0M1881 233h0M1884 236h0M1882 232h0M1886 237h0M1886 241h0M1621 343h0M1606 342h0M1615 341h0M1609 338h0M1612 345h0M1938 284h0M1934 277h0M2175 349h0M2181 356h0M1597 326h0M1593 350h0M1584 333h0M1590 318h0M1572 332h0M1605 322h0M1793 293h0M1630 279h0M1695 255h0M1710 258h0M1695 254h0M1699 258h0M1858 230h0M1855 217h0M1680 288h0M1683 280h0M1686 271h0M1676 281h0M1689 273h0M1946 386h0M1953 388h0M1948 374h0M1951 391h0M1845 328h0M1841 328h0M1671 360h0M1674 350h0M1669 343h0M1677 337h0M1667 352h0M1672 330h0M1672 345h0M1749 205h0M1750 203h0M1743 209h0M1754 195h0M1810 304h0M1862 217h0M1870 206h0M1855 207h0M1864 210h0M1863 203h0M1854 209h0M1731 227h0M2026 316h0M2024 308h0M2031 319h0M2025 321h0M2041 337h0M2020 326h0M2016 321h0M1852 272h0M1847 262h0M1719 190h0M1718 198h0M1707 204h0M1725 199h0M1682 264h0M1688 276h0M1684 299h0M1720 242h0M1722 237h0M1719 230h0M1732 235h0M1728 228h0M1840 347h0M1831 349h0M1906 250h0M1897 251h0M1918 344h0M1912 353h0M1909 352h0M1905 355h0M1907 347h0M1906 352h0M1919 349h0M1903 350h0M1887 214h0M1884 212h0M1878 213h0M1887 220h0M1880 219h0M1878 218h0M1578 288h0M1558 302h0M1733 207h0M1762 205h0M1764 185h0M1743 204h0M1747 199h0M1756 202h0M1760 209h0M2138 358h0M2142 356h0M2140 353h0M2148 349h0M2141 363h0M2149 359h0M2139 352h0M2133 363h0M1616 227h0M1605 251h0M1617 239h0M1607 238h0M1611 246h0M1619 251h0M2103 319h0M2090 331h0M1944 380h0M1927 391h0M1949 388h0M1948 390h0M1706 321h0M1584 373h0M1587 373h0M1586 370h0M1592 373h0M1590 381h0M2013 307h0M2057 440h0M2067 423h0M2059 445h0M2071 436h0M1706 345h0M1702 329h0M1708 336h0M1704 327h0M2188 377h0M2190 376h0M1758 264h0M1745 262h0M1746 271h0M1739 292h0M2095 263h0M2100 284h0M2091 291h0M2102 335h0M2079 356h0M2090 324h0M2061 337h0M1800 245h0M1792 236h0M1791 232h0M1790 242h0M1798 247h0M1792 236h0M1795 231h0M1790 238h0M1762 241h0M1767 236h0M1757 255h0M1984 394h0M1990 385h0M1988 396h0M1982 393h0M1990 385h0M1988 384h0M1990 400h0M1987 385h0M1988 390h0M2098 309h0M2104 301h0M2098 311h0M2094 307h0M1704 240h0M1718 235h0M1703 233h0M1716 249h0M1716 230h0M1708 248h0M1564 290h0M1553 285h0M1572 283h0M1563 280h0M1573 282h0M1566 281h0M1562 281h0M1572 269h0M1566 282h0M2167 320h0M2111 336h0M2107 346h0M1588 336h0M1603 339h0M1602 326h0M1607 322h0M1614 332h0M1604 319h0M1598 331h0M1605 343h0M1725 246h0M1815 308h0M1771 269h0M1756 266h0M1762 244h0M1768 259h0M1766 250h0M1758 255h0M1755 249h0M1744 249h0M1753 203h0M1752 236h0M1762 216h0M1679 348h0M1684 324h0M1674 335h0M1686 339h0M2034 393h0M2013 385h0M2022 406h0M2009 384h0M2029 375h0M2014 361h0M2010 383h0M2014 392h0M1616 327h0M1576 315h0M1578 326h0M2075 411h0M2077 410h0M2077 410h0M2071 395h0M2070 413h0M1961 333h0M1949 335h0M1959 345h0M1964 343h0M1638 318h0M1813 291h0M1812 291h0M1944 310h0M1944 322h0M2078 317h0M2142 323h0M2155 317h0M2133 388h0M2127 395h0M2193 329h0M2209 322h0M2202 330h0M2195 340h0M2201 319h0M2200 321h0M2197 343h0M2197 323h0M1846 230h0M1854 233h0M1837 239h0M1831 248h0M1843 230h0M1675 309h0M1630 268h0M1643 284h0M1636 286h0M1738 271h0M1739 277h0M1738 291h0M1570 367h0M1562 366h0M1563 364h0M1574 359h0M1563 361h0M1567 363h0M1571 370h0M1691 261h0M1688 253h0M1676 263h0M1600 284h0M1591 272h0M1600 300h0M1592 292h0M1596 288h0M1594 271h0M1946 406h0M1942 397h0M1944 412h0M2012 348h0M2015 346h0M2008 351h0M2012 339h0M2010 364h0M2007 349h0M2011 357h0M2004 359h0M2009 350h0M1991 349h0M1751 225h0M1760 217h0M1732 213h0M1758 196h0M1753 200h0M1743 201h0M1768 208h0M1934 263h0M1963 290h0M1995 410h0M1619 263h0M1627 265h0M1634 301h0M1651 302h0M1637 295h0M1641 294h0M1898 296h0M1887 303h0M1883 305h0M1890 303h0M1895 312h0M1876 291h0M1886 306h0M1598 265h0M1599 258h0M1596 266h0M1595 259h0M1589 262h0M1586 261h0M1590 259h0M1941 321h0M1950 322h0M1956 312h0M1950 311h0M1959 314h0M1945 302h0M1952 313h0M1951 313h0M1950 317h0M1843 315h0M1611 238h0M1628 223h0M1644 243h0M1730 325h0M1729 330h0M1716 327h0M1730 336h0M1727 319h0M1737 339h0M1739 237h0M1723 250h0M1721 243h0M1577 357h0M1571 358h0M1572 332h0M1570 345h0M1585 351h0M1559 345h0M1894 265h0M1903 264h0M1902 269h0M1904 264h0M2206 320h0M2197 322h0M2037 416h0M2065 428h0M2062 440h0M1865 231h0M1870 218h0M1867 220h0M1878 237h0M1871 230h0M1891 233h0M1887 224h0M2123 378h0M2125 370h0M2134 384h0M2135 363h0M2120 385h0M2134 367h0M2132 376h0M1680 276h0M1669 271h0M1567 339h0M2067 383h0M2082 374h0M2094 388h0M2070 393h0M1658 333h0M1650 325h0M1652 333h0M1642 333h0M1897 391h0M1894 392h0M1880 395h0M1885 384h0M1904 408h0M1894 398h0M1904 392h0M1735 301h0M1735 307h0M1734 300h0M1723 301h0M1742 305h0M1799 279h0M1788 302h0M1721 249h0M1727 256h0M1731 261h0M1722 255h0M1729 261h0M1723 270h0M1889 327h0M1881 328h0M1867 320h0M1887 315h0M1871 331h0M1622 377h0M1628 368h0M1626 366h0M1624 377h0M1629 371h0M1620 368h0M2011 383h0M2020 381h0M2023 364h0M2021 380h0M2024 383h0M2019 376h0M2018 373h0M1950 314h0M1940 317h0M1947 324h0M1924 375h0M1935 377h0M1933 367h0M1937 373h0M1931 369h0M1932 372h0M1931 376h0M1928 378h0M1924 381h0M1640 345h0M1622 336h0M1622 341h0M1633 341h0M1637 333h0M2047 371h0M2050 377h0M2066 341h0M2072 354h0M2067 360h0M2069 355h0M1727 247h0M1723 264h0M2005 350h0M1999 351h0M2011 349h0M2073 436h0M2061 442h0M2058 448h0M1772 220h0M1750 240h0M1766 230h0M1752 245h0M1767 239h0M1765 223h0M1559 286h0M1553 294h0M1568 292h0M1564 297h0M1958 327h0M1938 342h0M1941 334h0M1942 352h0M1937 337h0M1943 341h0M1610 236h0M1610 231h0M1605 236h0M1617 266h0M1608 246h0M1974 326h0M1978 310h0M1979 305h0M1990 311h0M1972 311h0M1976 308h0M1924 305h0M2159 309h0M2156 299h0M2082 389h0M2077 386h0M2076 386h0M2080 388h0M2073 390h0M2075 379h0M2082 387h0M2073 382h0M1856 206h0M1859 211h0M1707 283h0M1711 286h0M1710 290h0M1716 283h0M1776 226h0M1771 234h0M1770 225h0M1768 224h0M1938 374h0M1929 373h0M1943 372h0M1691 320h0M1682 314h0M1699 304h0M1689 319h0M1703 337h0M1682 325h0M2125 391h0M2141 399h0M2143 382h0M2132 394h0M2129 397h0M2133 402h0M2136 404h0M1795 316h0M1794 313h0M1712 278h0M1698 270h0M1717 265h0M1736 267h0M1704 275h0M1714 280h0M1728 289h0M1719 291h0M2068 335h0M2129 347h0M2130 346h0M2139 341h0M2129 344h0M2122 341h0M2133 331h0M2136 325h0M1748 294h0M1746 296h0M1748 308h0M1750 301h0M1751 292h0M1752 299h0M2022 390h0M2024 414h0M2016 396h0M2019 417h0M2023 409h0M2017 410h0M2022 408h0M2012 407h0M1829 221h0M1838 221h0M1839 218h0M1820 218h0M1849 213h0M1834 221h0M1828 216h0M1840 212h0M1797 278h0M1739 228h0M1743 232h0M1736 227h0M1739 229h0M1726 233h0M1588 237h0M1600 244h0M1595 255h0M1587 256h0M1576 254h0M1588 236h0M1578 369h0M1585 375h0M1600 380h0M1596 376h0M1595 376h0M2075 338h0M2081 328h0M2067 336h0M2075 335h0M2078 341h0M2081 344h0M2104 291h0M2084 364h0M2075 363h0M2084 375h0M2070 358h0M2071 357h0M2085 371h0M2085 367h0M2149 310h0M2156 297h0M2147 300h0M2135 304h0M2152 304h0M1831 208h0M1848 201h0M1833 217h0M1841 216h0M1698 255h0M1691 245h0M1699 242h0M1691 250h0M1699 247h0M1700 254h0M1704 250h0M1699 255h0M1697 247h0M1694 254h0M2070 329h0M2105 321h0M1580 272h0M1580 267h0M1584 257h0M1579 273h0M1583 256h0M2049 310h0M2033 320h0M2039 316h0M2039 336h0M2059 341h0M2080 341h0M2059 325h0M1886 384h0M1889 366h0M1894 379h0M1885 369h0M1891 386h0M1911 365h0M1917 361h0M1918 363h0M1928 367h0M1924 372h0M1928 372h0M1931 367h0M1928 372h0M2103 384h0M2117 395h0M2097 398h0M2116 398h0M2102 380h0M2001 334h0M1997 344h0M1989 335h0M1994 338h0M1992 327h0M1997 338h0M1998 321h0M2004 335h0M1976 351h0M1981 348h0M1980 358h0M1987 362h0M1990 355h0M1983 350h0M1976 350h0M1928 361h0M1911 353h0M1769 276h0M1584 340h0M1564 303h0M1564 304h0M1551 296h0M1563 295h0M1551 292h0M1570 291h0M1563 307h0M1574 300h0M1570 308h0M1583 305h0M1814 226h0M1810 238h0M1814 240h0M1821 232h0M1813 226h0M1813 221h0M2039 348h0M2028 346h0M2037 340h0M1626 284h0M1624 287h0M1989 360h0M1988 361h0M1982 372h0M1989 365h0M1984 358h0M1983 357h0M1987 358h0M1679 309h0M2185 289h0M2172 292h0M2181 301h0M2192 297h0M2197 300h0M2181 295h0M2181 288h0M2183 291h0M2185 296h0M1573 373h0M1569 371h0M1571 374h0M1584 376h0M1571 363h0M1574 371h0M1574 376h0M2086 331h0M1601 348h0M1593 347h0M1611 334h0M2050 332h0M2039 345h0M2055 325h0M2049 347h0M2054 345h0M1933 261h0M1950 276h0M1703 301h0M1727 319h0M1722 302h0M1715 297h0M1701 306h0M2024 395h0M2017 387h0M2025 410h0M2043 389h0M2036 398h0M1833 348h0M1841 353h0M1831 356h0M1843 348h0M1953 429h0M1949 427h0M1950 420h0M1855 239h0M1843 240h0M1854 241h0M1859 243h0M1843 247h0M1837 331h0M1852 335h0M1671 331h0M1672 330h0M1695 328h0M1670 342h0M1664 326h0M1676 312h0M1673 328h0M1675 330h0M1682 345h0M1648 333h0M1654 335h0M1656 328h0M1882 264h0M1871 267h0M1865 260h0M1796 224h0M1791 237h0M1781 238h0M1776 242h0M1775 224h0M1778 224h0M1769 231h0M1780 230h0M1787 226h0M1915 376h0M1908 381h0M1904 380h0M1918 368h0M1920 374h0M1928 371h0M1881 249h0M1872 249h0M1765 292h0M1770 271h0M1766 286h0M1755 281h0M1756 295h0M1761 273h0M1755 288h0M1751 282h0M1764 264h0M1856 331h0M1857 349h0M1854 328h0M1871 343h0M1857 346h0M1863 334h0M1855 345h0M1991 418h0M1988 415h0M1986 400h0M1970 404h0M1991 420h0M2037 378h0M2017 357h0M2044 368h0M2040 346h0M2030 376h0M2027 348h0M2049 361h0M2039 343h0M2139 304h0M2169 348h0M2135 311h0M2172 339h0M2166 330h0M2165 348h0M2140 297h0M2180 337h0M2150 262h0M2105 318h0M2166 287h0M2104 314h0M2085 304h0M2192 317h0M2112 345h0M2152 282h0M2130 330h0M2100 349h0M2154 357h0M2157 363h0M2122 326h0M2150 288h0M2088 307h0M2143 271h0M2142 341h0M2092 354h0M2194 297h0M2092 346h0M2099 301h0M2123 320h0M2179 334h0M2123 297h0M2129 322h0M2181 282h0M2106 365h0M2122 355h0M2088 300h0M2182 279h0M2097 314h0M2165 301h0M2107 349h0M2082 308h0M2159 347h0M2108 300h0M2162 275h0M2144 354h0M2090 323h0M2175 356h0M2189 295h0M2190 322h0M2167 326h0M2195 316h0M2104 316h0M2137 285h0M2120 336h0M2085 334h0M2152 261h0M2161 320h0M2106 270h0M2143 285h0M2096 304h0M2129 285h0M2171 271h0M2084 309h0M2124 353h0M2166 362h0M2159 362h0M2106 322h0M2124 319h0M2132 287h0M2171 336h0M2140 372h0M2110 350h0M2138 269h0M2185 290h0M2130 334h0M2196 310h0M2143 310h0M2146 345h0M2146 275h0M2144 341h0M2175 290h0M2144 278h0M2110 288h0M2170 351h0M2161 308h0M2149 353h0M2156 280h0M2117 361h0M2094 280h0M2163 366h0M2099 315h0M2103 302h0M2103 317h0M2145 327h0M2111 314h0M2091 299h0M2165 276h0M2106 350h0M2146 305h0M2135 337h0M2184 280h0M2166 357h0M2111 360h0M2187 297h0M2154 292h0M2184 348h0M2174 359h0M2125 267h0M2106 332h0M2124 336h0M2166 322h0M2125 308h0M2139 312h0M2192 306h0M2128 339h0M2091 308h0M2149 303h0M2112 272h0M2137 327h0M2102 359h0M2180 350h0M2147 365h0M2112 295h0M2101 275h0M2154 358h0M2174 294h0M2107 300h0M2118 287h0M2093 356h0M2162 346h0M2178 357h0M2176 300h0M2112 335h0M2101 313h0M2124 267h0M2199 304h0M2189 339h0M2191 347h0M2084 331h0M2170 349h0M2179 353h0M2142 363h0M2126 274h0M2106 293h0M2162 271h0M2141 356h0M2152 314h0M2147 341h0M2137 305h0M2130 356h0M2153 350h0M2132 333h0M2189 306h0M2169 342h0M2172 326h0M2185 283h0M2087 348h0M2130 361h0M2142 295h0M2161 369h0M2084 306h0M2160 300h0M2094 325h0M2133 289h0M2108 292h0M2124 375h0M2100 282h0M2084 316h0M2115 286h0M2191 313h0M2153 360h0M2181 314h0M2149 298h0M2183 342h0M2177 287h0M2160 359h0M2170 361h0M2161 337h0M2116 313h0M2190 327h0M2161 328h0M2152 291h0M2149 359h0M2101 299h0M2187 331h0M2125 312h0M2125 288h0M2137 362h0M2178 321h0M2104 345h0M2135 329h0M2113 295h0M2182 309h0M2094 351h0M2132 296h0M2128 357h0M2155 267h0M2142 340h0M2097 285h0M2139 286h0M2175 364h0M2126 302h0M2185 323h0M2171 278h0M2133 375h0M2130 353h0M2198 304h0M2198 313h0M2160 285h0M2175 284h0M2135 280h0M2138 329h0M2186 334h0M2126 292h0M2110 272h0M2115 282h0M2092 311h0M2179 304h0M2122 362h0M2120 293h0M2140 272h0M2083 336h0M2099 353h0M2131 375h0M2171 350h0M2102 291h0M2091 353h0M2105 288h0M2183 316h0M2196 339h0M2182 293h0M2200 318h0M2099 276h0M2154 348h0M2165 274h0M2147 293h0M2149 367h0M2091 288h0M2177 342h0M2114 273h0M2192 341h0M2094 321h0M2150 322h0M2165 271h0M2137 310h0M2092 307h0M2103 335h0M2133 305h0M2157 266h0M2161 304h0M2079 313h0M2135 325h0M2193 334h0M2199 315h0M2115 329h0M2182 353h0M2156 365h0M2137 341h0M2152 283h0M2138 263h0M2191 305h0M2102 363h0M2139 294h0M2149 316h0M2091 282h0M2176 272h0M2125 307h0M2161 268h0M2186 303h0M2135 356h0M2198 330h0M2115 316h0M2120 303h0M2192 311h0M2090 321h0M2152 270h0M2128 331h0M2193 301h0M2152 308h0M2132 342h0M2191 335h0M2120 356h0M2092 316h0M2171 271h0M2178 279h0M2163 350h0M2172 330h0M2104 363h0M2097 337h0M2125 298h0M2140 366h0M2144 337h0M2104 287h0M2118 369h0M2112 344h0M2140 346h0M2111 288h0M2174 328h0M2109 350h0M2175 300h0M2084 307h0M2124 359h0M2126 319h0M2118 331h0M2168 319h0M2084 320h0M2149 274h0M2170 285h0M2082 308h0M2117 297h0M2182 324h0M2172 307h0M2124 320h0M2145 353h0M2106 285h0M2100 325h0M2149 304h0M2093 283h0M2100 297h0M2171 357h0M2153 288h0M2098 299h0M2126 264h0M2156 342h0M2130 352h0M2122 303h0M2157 345h0M2119 315h0M2112 314h0M2108 275h0M2123 352h0M2133 288h0M2147 370h0M2129 349h0M2161 353h0M2130 363h0M2160 265h0M2140 342h0M2154 343h0M2155 345h0M2142 344h0M2119 316h0M2151 320h0M2097 303h0M2197 318h0M2094 290h0M2126 298h0M2130 356h0M2138 320h0M2098 295h0M2120 302h0M2139 363h0M2130 327h0M2139 262h0M2090 336h0M2167 349h0M2082 304h0M2180 300h0M2117 265h0M2148 262h0M2124 327h0M2117 271h0M2123 279h0M2133 313h0M2125 339h0M2135 303h0M2097 345h0M2131 312h0M2163 285h0M2186 319h0M2153 287h0M2154 279h0M2134 359h0M2157 351h0M2150 279h0M2141 264h0M2105 341h0M2103 316h0M2190 311h0M2164 327h0M2133 335h0M2174 362h0M2128 332h0M2151 287h0M2133 271h0M2148 281h0M2089 304h0M2089 335h0M2141 333h0M2153 313h0M2174 349h0M2114 308h0M2178 323h0M2154 290h0M2107 332h0M2134 355h0M2151 314h0M2193 321h0M2117 309h0M2172 336h0M2107 304h0M2133 370h0M2149 369h0" stroke="#00ff00"/><path d="M425 1107h0M498 910h0M506 1226h0M505 1242h0M504 1225h0M502 1213h0M482 1027h0M491 1023h0M451 1222h0M398 1023h0M510 1068h0M415 998h0M407 991h0M425 1284h0M417 989h0M491 1279h0M401 1395h0M491 1039h0M408 1088h0M486 1036h0M450 1124h0M437 1175h0M402 1099h0M428 1337h0M441 1330h0M408 1058h0M453 1345h0M466 975h0M419 1246h0M501 1315h0M413 1317h0M469 924h0M492 924h0M411 1358h0M408 1343h0M476 1104h0M419 1040h0M424 1040h0M413 1046h0M468 1095h0M416 1101h0M509 1189h0M459 1110h0M445 1105h0M452 1238h0M502 1163h0M474 1151h0M401 967h0M407 981h0M429 1352h0M401 1115h0M402 1105h0M474 1294h0M468 1294h0M487 1079h0M479 1073h0M437 1122h0M484 1073h0M480 1121h0M413 911h0M427 1344h0M478 1062h0M490 1118h0M497 1225h0M484 1254h0M461 1180h0M489 1333h0M459 1222h0M408 945h0M401 955h0M457 1244h0M462 1249h0M496 1240h0M443 1131h0M432 1126h0M489 1011h0M420 1047h0M464 1216h0M508 1340h0M468 1274h0M414 1072h0M402 1074h0M407 1218h0M476 1381h0M463 1343h0M461 904h0M472 1083h0M430 1142h0M496 986h0M502 984h0M501 1264h0M502 1383h0M502 960h0M496 1325h0M413 960h0M425 953h0M476 1018h0M1067 773h0M1078 770h0M1073 800h0M877 817h0M894 883h0M799 842h0M812 832h0M1099 788h0M936 783h0M834 850h0M702 927h0M698 921h0M720 871h0M1118 819h0M645 854h0M866 826h0M698 856h0M673 862h0M436 934h0M678 874h0M855 786h0M953 744h0M606 860h0M583 902h0M576 867h0M847 844h0M468 903h0M473 911h0M1050 764h0M527 869h0M492 830h0M543 862h0M410 902h0M406 914h0M890 855h0M599 920h0M447 888h0M469 892h0M895 845h0M925 761h0M926 772h0M939 761h0M519 868h0M1017 827h0M979 745h0M1061 781h0M1019 762h0M1027 757h0M1013 766h0M662 881h0M667 883h0M834 809h0M749 819h0M1107 800h0M746 879h0M751 903h0M886 831h0M458 889h0M810 812h0M700 855h0M693 867h0M617 922h0M444 907h0M414 915h0M905 870h0M820 860h0M831 852h0M672 899h0M976 792h0M976 827h0M447 920h0M445 923h0M753 914h0M1093 752h0M724 914h0M713 905h0M623 895h0M1000 759h0M775 912h0M751 898h0M748 901h0M717 851h0M596 847h0M855 846h0M814 847h0M759 871h0M648 815h0M562 859h0M457 932h0M460 932h0M674 916h0M600 872h0M605 867h0M785 913h0M779 926h0M942 825h0M674 866h0M461 827h0M932 851h0M529 859h0M580 896h0M456 839h0M945 755h0M952 742h0M1097 787h0M1042 759h0M934 835h0M933 833h0M552 841h0M553 824h0M675 836h0M666 840h0M514 922h0M860 886h0M533 846h0M766 836h0M688 919h0M1007 763h0M1050 823h0M1049 821h0M504 916h0M939 828h0M544 858h0M774 828h0M783 815h0M794 828h0M783 834h0M782 922h0M454 872h0M731 895h0M732 887h0M735 858h0M677 904h0M665 910h0M789 845h0M533 832h0M1020 788h0M604 879h0M1004 816h0M1005 825h0M693 888h0M963 747h0M1036 747h0M1031 769h0M548 853h0M543 836h0M465 847h0M472 845h0M475 847h0M625 866h0M622 879h0M626 872h0M634 894h0M630 914h0M613 865h0M1068 816h0M778 824h0M768 822h0M944 845h0M776 854h0M787 850h0M501 930h0M521 902h0M514 921h0M620 840h0M1040 825h0M835 865h0M849 874h0M837 862h0M1050 834h0M919 863h0M599 928h0M581 915h0M925 756h0M925 754h0M913 749h0M1012 826h0M706 835h0M650 840h0M423 916h0M425 917h0M425 852h0M1099 799h0M503 868h0M521 867h0M687 856h0M421 881h0M405 860h0M438 881h0M824 865h0M1097 775h0M1099 773h0M1097 787h0M689 889h0M936 844h0M751 836h0M746 841h0M765 829h0M649 824h0M642 847h0M695 894h0M697 896h0M711 922h0M1062 815h0M911 840h0M821 829h0M766 819h0M1060 739h0M1056 739h0M692 890h0M1071 811h0M1073 810h0M772 834h0M609 871h0M947 741h0M968 752h0M676 890h0M576 870h0M963 765h0M588 916h0M596 874h0M655 899h0M805 845h0M804 852h0M495 866h0M496 875h0M490 866h0M608 848h0M530 924h0M1070 663h0M1076 667h0M1051 769h0M1047 778h0M1090 656h0M1063 600h0M1068 752h0M1063 649h0M1082 659h0M1084 615h0M1064 776h0M1051 730h0M1049 281h0M1531 268h0M1053 310h0M1579 298h0M1549 321h0M1192 316h0M1195 312h0M1144 313h0M1524 273h0M1439 288h0M1579 294h0M1512 345h0M1553 268h0M1585 293h0M1585 286h0M1402 258h0M1108 335h0M1442 270h0M1104 323h0M1125 336h0M1509 325h0M1563 298h0M1568 295h0M1533 330h0M1561 308h0M1582 303h0M1196 308h0M1200 306h0M1594 273h0M1566 372h0M1589 322h0M1456 349h0M1602 356h0M1460 273h0M1466 280h0M1488 337h0M1461 332h0M1614 354h0M1598 341h0M1566 331h0M1404 255h0M1585 350h0M1512 369h0M1603 316h0M1599 327h0M1616 314h0M1106 308h0M1133 282h0M1567 372h0M1561 269h0M1185 297h0M1442 363h0M1186 315h0M1972 288h0M1988 294h0M1991 297h0M1760 229h0M2069 335h0M1769 272h0M2026 341h0M2008 351h0M2094 348h0M2085 348h0M2130 388h0M2044 338h0M2018 333h0M1680 290h0M2096 343h0M2070 343h0M1711 286h0M1713 266h0M2077 351h0M2074 410h0M1834 224h0M2001 386h0M2117 387h0M1928 379h0M1714 249h0M1748 274h0M1765 290h0M1872 253h0M1686 309h0M1880 235h0M1606 342h0M1754 206h0M1865 226h0M1855 214h0M1859 208h0M1713 219h0M2149 289h0M2007 331h0M1581 304h0M2139 360h0M2089 312h0M1943 392h0M1715 336h0M1670 258h0M1683 274h0M1994 308h0M1969 292h0M2174 375h0M2094 280h0M1749 258h0M1985 388h0M1716 235h0M1563 280h0M2167 306h0M2122 344h0M2108 363h0M2103 345h0M2109 352h0M1611 348h0M1736 269h0M1944 342h0M2211 337h0M2196 338h0M1566 364h0M1575 368h0M1682 278h0M1928 387h0M2011 358h0M1983 427h0M1609 278h0M1577 261h0M1634 227h0M1722 235h0M1563 362h0M1870 216h0M2127 374h0M2131 377h0M2082 384h0M2062 380h0M1651 331h0M1885 385h0M1893 394h0M2122 288h0M2110 295h0M1739 297h0M2112 409h0M2125 408h0M1628 374h0M1617 368h0M2027 372h0M1952 322h0M1940 311h0M1733 254h0M1570 298h0M1921 310h0M2078 390h0M2071 389h0M1780 228h0M1929 375h0M1928 372h0M2131 392h0M1664 311h0M2122 344h0M2126 346h0M2018 411h0M1741 216h0M1584 260h0M1590 260h0M2077 343h0M2075 367h0M2046 323h0M2026 316h0M2094 335h0M1902 386h0M1984 354h0M1576 331h0M2036 346h0M1987 362h0M1989 365h0M2184 298h0M2082 341h0M1708 313h0M1840 356h0M1834 235h0M1845 336h0M1671 343h0M1863 267h0M1874 248h0M1761 267h0M2027 362h0M2031 363h0M2173 335h0M2106 285h0M2196 328h0M2088 294h0M2169 279h0M2089 284h0M2159 346h0M2154 314h0M2112 318h0M2124 275h0M2147 361h0M2130 313h0M2166 320h0M2171 345h0M2120 316h0M2142 336h0M2117 303h0M2151 310h0M2193 336h0M2172 284h0M2091 286h0M2081 334h0M2116 292h0M2151 372h0M2100 312h0M2136 307h0M2150 283h0M2102 301h0M2142 330h0M2109 308h0M2162 273h0M2153 351h0M2149 354h0M2185 344h0M2149 353h0M2180 288h0M2105 290h0M2121 271h0M2128 351h0M2096 282h0M2179 290h0M2103 288h0M2164 319h0M2194 319h0M2194 302h0M2089 348h0M2152 348h0M2188 346h0M2135 356h0M2140 311h0M2137 273h0M2104 304h0M2127 279h0M2143 263h0M2122 268h0M2138 360h0M2181 313h0M2176 337h0M2154 338h0M2185 312h0M2196 325h0M2174 277h0M2162 290h0M2183 350h0M2119 355h0M2159 324h0M2110 298h0M2132 330h0M2173 294h0M2167 336h0M2100 278h0M2138 361h0M2187 309h0M2179 332h0M2114 304h0M2124 302h0M2123 333h0M2182 309h0M2115 306h0M2088 341h0M2095 288h0M2116 358h0M2083 300h0M2189 340h0M2133 316h0M2139 358h0M2182 293h0" stroke="#00ff07"/><path d="M423 1033h0M429 1024h0M420 1000h0M450 1007h0M448 1080h0M423 1066h0M435 1033h0M435 1025h0M429 1041h0M427 1028h0M449 1028h0M428 1043h0M424 1060h0M428 1075h0M444 1061h0M450 1084h0M450 1039h0M442 1036h0M427 1049h0M426 1059h0M1294 272h0M1357 346h0M1350 341h0M1350 340h0M1342 355h0M1303 329h0M1292 332h0M1300 327h0M1304 321h0M1293 331h0M1290 322h0M1299 319h0M1281 303h0M1300 300h0M1300 319h0M1283 308h0M1284 322h0M1151 357h0M1323 328h0M1334 327h0M1327 341h0M1257 310h0M1263 324h0M1270 323h0M1252 332h0M1251 330h0M1157 308h0M1158 317h0M1155 311h0M1151 304h0M1162 300h0M1398 363h0M1389 358h0M1152 304h0M1151 312h0M1378 324h0M1376 331h0M1350 341h0M1356 347h0M1369 338h0M1346 340h0M1360 337h0M1282 308h0M1283 317h0M1191 288h0M1204 290h0M1199 292h0M1297 309h0M1275 295h0M1292 305h0M1294 312h0M1377 311h0M1376 308h0M1373 322h0M1160 346h0M1155 332h0M1164 316h0M1159 331h0M1166 323h0M1365 308h0M1364 311h0M1369 311h0M1356 314h0M1264 347h0M1255 344h0M1271 338h0M1347 342h0M1329 329h0M1354 342h0M1320 351h0M1228 255h0M1353 354h0M1339 358h0M1352 339h0M1350 333h0M1314 294h0M1325 312h0M1291 306h0M1309 277h0M1322 350h0M1309 342h0M1322 348h0M1316 341h0M1305 303h0M1266 324h0M1280 321h0M1293 320h0M1164 318h0M1153 330h0M1158 332h0M1277 359h0M1278 352h0M1261 352h0M1261 354h0M1277 364h0M1381 332h0M1383 344h0M1366 330h0M1376 328h0M1386 257h0M1267 313h0M1258 313h0M1231 327h0M1226 330h0M1232 332h0M1243 328h0M1219 332h0M1249 335h0M1334 324h0M1337 315h0M1341 313h0M1344 315h0M1334 327h0M1259 347h0M1263 326h0M1263 339h0M1274 309h0M1220 345h0M1295 308h0M1304 300h0M1312 303h0M1396 347h0M1397 320h0M1171 269h0M1171 272h0M1315 319h0M1302 309h0M1308 337h0M1272 319h0M1305 317h0M1363 356h0M1378 347h0M1374 355h0M1368 349h0M1374 344h0M1270 363h0M1262 355h0M1283 360h0M1279 360h0M1265 356h0M1369 334h0M1192 342h0M1354 358h0M1348 356h0M1362 365h0M1349 365h0M1322 360h0M1298 278h0M1242 323h0M1245 320h0M1247 309h0M1233 307h0M1252 313h0M1242 319h0M1360 316h0M1395 339h0M1381 321h0M1185 348h0M1192 348h0M1292 317h0M1264 331h0M1255 334h0M1274 346h0M1257 337h0M1258 329h0M1173 291h0M1169 295h0M1291 336h0M1290 336h0M1293 330h0M1295 332h0M1342 351h0M1346 340h0M1354 343h0M1352 350h0M1357 347h0M1359 354h0M1245 339h0M1240 330h0M1154 327h0M1168 317h0M1157 340h0M1156 337h0M1352 307h0M1176 352h0M1268 329h0M1269 324h0M1272 323h0M1272 322h0M1256 329h0M1364 250h0M1384 332h0M1362 336h0M1373 333h0M1382 346h0M1207 250h0M1227 317h0M1238 318h0M1236 317h0M1289 308h0M1277 320h0M1359 338h0M1359 347h0M1360 337h0M1367 338h0M1356 332h0M1234 301h0M1233 301h0M1302 329h0M1298 312h0M1318 321h0M1304 321h0M1300 328h0M1303 315h0M1305 317h0M1366 305h0M1298 306h0M1292 289h0M1284 289h0M1215 333h0M1212 333h0M1344 320h0M1350 331h0M1235 281h0M1362 360h0M1345 362h0M1334 362h0M1353 352h0M1302 354h0M1299 353h0M1294 350h0M1304 345h0M1398 335h0M1388 318h0M1329 262h0M1326 338h0M1318 316h0M1317 325h0M1305 319h0M1367 315h0M1388 313h0M1374 318h0M1313 300h0M1316 316h0M1299 323h0M1312 317h0M1302 315h0M1294 313h0M1190 250h0M1274 320h0M1276 316h0M1274 309h0M1343 311h0M1333 324h0M1329 321h0M1334 328h0M1332 328h0M1373 327h0M1273 324h0M1255 327h0M1274 324h0M1372 250h0M1166 265h0M1371 343h0M1377 344h0M1368 349h0M1391 355h0M1380 358h0M1267 299h0M1274 307h0M1258 298h0M1390 319h0M1394 326h0M1271 332h0M1257 336h0M1265 343h0M1275 350h0M1266 355h0M1393 312h0M1394 303h0M1335 314h0M1316 317h0M1321 304h0M1189 287h0M1317 327h0M1337 321h0M1311 334h0M1324 323h0M1313 321h0" stroke="#9a0080"/><path d="M436 1118h0M490 908h0M411 1311h0M491 1028h0M469 1316h0M420 1266h0M401 1283h0M475 978h0M499 1191h0M474 1261h0M442 1331h0M499 1188h0M479 985h0M475 1260h0M488 1080h0M407 1336h0M437 1305h0M469 1264h0M438 1273h0M487 1253h0M492 1059h0M481 1243h0M480 1056h0M481 1133h0M491 1283h0M486 1322h0M409 1275h0M410 1281h0M471 1189h0M462 1280h0M470 937h0M452 1340h0M491 1023h0M467 1093h0M468 1059h0M487 1068h0M499 1275h0M495 1263h0M474 1051h0M1004 803h0M856 842h0M769 921h0M863 869h0M1100 790h0M1082 801h0M762 889h0M897 823h0M532 820h0M897 865h0M907 793h0M850 841h0M863 842h0M694 924h0M738 892h0M740 883h0M727 883h0M1048 766h0M987 775h0M763 851h0M991 801h0M1080 785h0M1083 781h0M1082 789h0M922 822h0M743 882h0M452 834h0M549 923h0M1015 772h0M1105 776h0M885 850h0M891 830h0M914 808h0M802 847h0M1109 667h0M1057 472h0M1058 466h0M1058 475h0M1140 780h0M1082 408h0M1117 602h0M1054 769h0M1126 380h0M1131 711h0M1078 527h0M1054 499h0M1055 514h0M1062 503h0M1057 503h0M1139 374h0M1063 417h0M1130 376h0M1106 582h0M1104 586h0M1127 661h0M1039 504h0M1134 605h0M1142 734h0M1056 351h0M1071 763h0M1071 753h0M1104 759h0M1112 783h0M1123 418h0M1133 781h0M1127 778h0M1136 597h0M1132 604h0M1120 374h0M1107 366h0M1078 771h0M1128 432h0M1102 470h0M1127 598h0M1102 439h0M1473 366h0M1510 279h0M1287 320h0M1271 323h0M1290 331h0M1272 331h0M1132 359h0M1133 312h0M1135 321h0M1494 350h0M1409 282h0M1429 340h0M1355 301h0M1134 341h0M1446 309h0M1254 328h0M1149 341h0M1112 340h0M1238 309h0M1122 330h0M1117 323h0M1199 339h0M1513 378h0M1517 378h0M1108 338h0M1105 316h0M1557 289h0M1089 283h0M1128 302h0M1473 365h0M1496 346h0M1084 327h0M1525 363h0M1432 320h0M1348 355h0M1441 341h0M1552 284h0M1548 298h0M1465 362h0M1449 368h0M1478 322h0M1400 321h0M1739 313h0M1718 329h0M1563 332h0M1738 296h0M2048 342h0M2181 279h0" stroke="#00fff3"/><path d="M407 1101h0M409 1304h0M464 1093h0M466 1248h0M408 1286h0M419 1285h0M406 1358h0M480 1252h0M492 1184h0M490 1188h0M489 942h0M479 955h0M409 1348h0M414 1335h0M488 1233h0M487 1088h0M498 940h0M494 1343h0M441 1357h0M475 1290h0M459 1289h0M426 1116h0M493 1047h0M469 1240h0M404 1290h0M413 1352h0M467 1311h0M489 1027h0M494 1006h0M499 1185h0M460 1270h0M403 1218h0M475 1211h0M474 922h0M473 1074h0M482 1055h0M489 1305h0M495 1315h0M499 1155h0M500 1328h0M447 1111h0M490 1008h0M956 814h0M932 774h0M1068 768h0M715 877h0M588 883h0M993 753h0M838 848h0M916 783h0M478 835h0M727 909h0M815 834h0M1100 793h0M870 825h0M975 817h0M1059 810h0M714 922h0M707 915h0M762 911h0M933 852h0M730 896h0M511 883h0M984 778h0M769 851h0M755 881h0M746 894h0M1076 791h0M997 817h0M623 859h0M911 836h0M900 833h0M905 837h0M614 821h0M921 813h0M905 776h0M997 808h0M685 837h0M957 810h0M834 865h0M914 820h0M915 809h0M875 827h0M871 824h0M707 916h0M812 838h0M794 829h0M491 873h0M524 926h0M1059 469h0M1082 491h0M1138 381h0M1135 382h0M1134 768h0M1079 747h0M1148 737h0M1125 387h0M1121 671h0M1147 373h0M1061 346h0M1135 655h0M1138 613h0M1131 606h0M1120 463h0M1078 763h0M1085 770h0M1076 768h0M1079 589h0M1123 416h0M1058 767h0M1137 441h0M1113 464h0M1538 338h0M1334 354h0M1553 338h0M1546 342h0M1287 341h0M1559 362h0M1404 363h0M1429 355h0M1106 349h0M1408 284h0M1514 329h0M1115 309h0M1105 309h0M1338 346h0M1471 338h0M1323 342h0M1471 301h0M1511 335h0M1078 290h0M1423 304h0M1089 285h0M1432 338h0M1423 339h0M1046 341h0M1511 276h0M1525 299h0M1253 333h0M1449 279h0M1491 328h0M1216 318h0M1351 321h0M1418 299h0M1413 323h0M1474 361h0M1560 299h0M1549 287h0M1470 315h0M1402 315h0M1592 351h0M1722 306h0M1977 291h0M1643 232h0M2012 353h0M2023 413h0M2041 312h0M2014 384h0M2132 298h0M2117 326h0M2193 345h0" stroke="#00edff"/><path d="M468 1166h0M431 1144h0M498 1211h0M485 1319h0M489 1236h0M470 1147h0M419 1102h0M453 1237h0M475 982h0M489 1277h0M493 1026h0M467 1362h0M403 1105h0M448 1332h0M491 949h0M491 1324h0M478 1291h0M471 1291h0M437 1305h0M466 1186h0M482 1101h0M428 1262h0M418 1133h0M487 1258h0M476 1170h0M435 1269h0M457 1269h0M477 1245h0M432 1139h0M486 1115h0M475 956h0M484 1226h0M431 1207h0M459 1187h0M467 1273h0M464 1314h0M435 1367h0M446 1370h0M489 1342h0M456 1125h0M492 1025h0M405 1218h0M495 1240h0M419 1192h0M465 1104h0M449 1151h0M483 1061h0M399 1160h0M493 1064h0M435 1299h0M472 1041h0M1091 792h0M1088 811h0M1067 785h0M1079 786h0M697 917h0M694 873h0M463 859h0M734 911h0M766 917h0M1076 783h0M1077 797h0M906 800h0M1059 813h0M781 881h0M687 916h0M431 826h0M691 917h0M743 882h0M783 879h0M412 876h0M1104 793h0M868 828h0M891 828h0M970 773h0M697 925h0M1006 790h0M1061 475h0M1127 367h0M1141 394h0M1085 422h0M1080 408h0M1065 560h0M1132 391h0M1042 520h0M1068 695h0M1067 689h0M1076 691h0M1114 518h0M1056 504h0M1058 506h0M1048 504h0M1072 407h0M1113 406h0M1111 579h0M1108 584h0M1077 353h0M1129 657h0M1115 473h0M1077 347h0M1073 683h0M1102 762h0M1082 754h0M1533 323h0M1483 307h0M1065 283h0M1067 283h0M1422 371h0M1417 368h0M1441 353h0M1383 338h0M1288 312h0M1134 313h0M1423 343h0M1167 322h0M1445 277h0M1134 319h0M1560 353h0M1338 351h0M1213 305h0M1120 319h0M1451 316h0M1509 266h0M1405 261h0M1445 273h0M1464 315h0M1520 320h0M1119 314h0M1418 282h0M1439 293h0M1531 327h0M1509 316h0M1390 325h0M1126 307h0M1433 282h0M1526 313h0M1534 309h0M1535 307h0M1531 312h0M1471 334h0M1526 362h0M1150 270h0M1119 294h0M1545 275h0M1534 284h0M1418 324h0M1736 195h0M1724 252h0M1868 208h0M1746 293h0M2111 325h0M2088 344h0M2147 289h0M2086 319h0" stroke="#00cfff"/><path d="M494 917h0M410 1363h0M485 1082h0M487 988h0M474 979h0M481 987h0M499 1270h0M490 983h0M482 1156h0M492 956h0M413 1228h0M413 1316h0M406 1308h0M473 916h0M464 1101h0M498 931h0M434 1121h0M482 1333h0M485 1010h0M448 1125h0M412 1210h0M475 942h0M470 917h0M406 1173h0M442 1113h0M477 1032h0M858 834h0M654 915h0M1011 804h0M875 814h0M863 877h0M1073 778h0M682 863h0M853 821h0M960 779h0M455 888h0M781 880h0M840 837h0M712 813h0M744 880h0M963 811h0M911 808h0M1065 736h0M673 902h0M850 843h0M781 915h0M668 852h0M522 835h0M722 914h0M722 912h0M496 886h0M753 928h0M741 878h0M957 750h0M1065 791h0M512 872h0M696 825h0M1015 812h0M923 811h0M606 907h0M1074 806h0M880 832h0M885 824h0M874 866h0M1143 765h0M1062 506h0M1070 740h0M1079 412h0M1084 400h0M1087 396h0M1135 317h0M1130 597h0M1126 413h0M1130 677h0M1055 761h0M1142 656h0M1150 660h0M1140 661h0M1069 509h0M1066 507h0M1133 375h0M1075 417h0M1065 413h0M1110 376h0M1085 692h0M1110 400h0M1128 413h0M1064 466h0M1103 622h0M1118 364h0M1129 664h0M1040 497h0M1139 603h0M1116 467h0M1144 742h0M1065 788h0M1049 726h0M1114 424h0M1140 606h0M1084 698h0M1077 687h0M1117 582h0M1042 463h0M1109 439h0M1121 436h0M1503 290h0M1337 353h0M1311 331h0M1150 307h0M1189 298h0M1289 312h0M1149 243h0M1128 311h0M1364 309h0M1137 345h0M1464 330h0M1178 321h0M1561 292h0M1558 294h0M1142 301h0M1493 274h0M1111 248h0M1345 359h0M1415 314h0M1425 302h0M1149 252h0M1720 232h0M1842 239h0M1875 227h0M1752 293h0M1848 336h0M2171 331h0M2138 305h0M2128 276h0M2090 333h0" stroke="#00ffb5"/><path d="M428 1115h0M444 1164h0M451 1163h0M482 907h0M476 899h0M425 1294h0M498 1077h0M453 998h0M486 1234h0M422 1239h0M401 1114h0M461 1058h0M447 1155h0M443 1204h0M460 1159h0M499 1183h0M469 1163h0M480 944h0M478 1250h0M403 1347h0M477 1289h0M462 1115h0M480 1086h0M499 1148h0M470 1298h0M434 1247h0M438 1242h0M437 1214h0M441 1254h0M441 1338h0M415 1141h0M419 1344h0M466 895h0M465 1179h0M480 1222h0M455 1108h0M486 1323h0M495 1146h0M449 1266h0M457 1260h0M490 1328h0M500 1349h0M468 1180h0M472 1365h0M478 1197h0M431 1327h0M499 1327h0M493 1320h0M865 843h0M1051 766h0M849 862h0M841 880h0M987 808h0M988 770h0M878 797h0M939 790h0M1087 789h0M1125 462h0M1115 482h0M1133 671h0M1063 469h0M1055 471h0M1133 774h0M1133 597h0M1111 361h0M1120 389h0M1123 397h0M1117 384h0M1051 518h0M1143 702h0M1058 506h0M1072 411h0M1119 546h0M1107 619h0M1077 355h0M1069 684h0M1129 607h0M1107 506h0M1105 748h0M1109 552h0M1139 781h0M1145 595h0M1133 660h0M1115 570h0M1112 447h0M1475 364h0M1292 336h0M1147 316h0M1109 330h0M1118 314h0M1536 353h0M1095 330h0M1260 311h0M1096 341h0M1522 293h0M1513 305h0M1249 340h0M1289 320h0M1093 328h0M1276 359h0M1132 337h0M1101 317h0M1103 335h0M1124 312h0M1429 328h0M1428 341h0M1438 284h0M1427 260h0M1536 304h0M1438 340h0M1452 271h0M1467 326h0M1417 304h0M1415 302h0M1333 344h0M1290 349h0M1432 339h0M1410 352h0M1375 308h0M1097 303h0M1427 319h0M1425 311h0M1559 302h0M1546 299h0M2138 314h0" stroke="#0094ff"/><path d="M430 1103h0M467 1174h0M460 1179h0M423 1305h0M496 1020h0M456 1337h0M493 1067h0M448 1223h0M484 1049h0M482 1007h0M451 1149h0M492 1362h0M500 1036h0M442 1331h0M499 1182h0M467 1241h0M406 1241h0M411 1220h0M411 1326h0M478 1286h0M484 1201h0M445 1195h0M450 1189h0M443 1193h0M447 1199h0M430 1140h0M413 1142h0M467 1044h0M455 1266h0M420 1110h0M409 1370h0M410 1219h0M477 1218h0M481 1211h0M484 1160h0M466 1165h0M461 1228h0M440 1352h0M422 1348h0M432 1346h0M447 1242h0M411 1181h0M482 1202h0M400 1221h0M469 941h0M477 917h0M462 1146h0M486 1050h0M476 1075h0M489 960h0M491 1340h0M485 1009h0M850 874h0M714 904h0M763 896h0M896 799h0M728 915h0M1056 798h0M720 920h0M773 907h0M963 811h0M945 795h0M725 913h0M941 819h0M1068 798h0M708 897h0M887 829h0M862 823h0M998 785h0M1128 477h0M1072 494h0M1077 508h0M1114 411h0M1125 335h0M1123 612h0M1117 519h0M1059 590h0M1130 373h0M1102 637h0M1077 345h0M1104 492h0M1111 498h0M1126 370h0M1121 421h0M1131 795h0M1118 600h0M1080 696h0M1063 691h0M1123 436h0M1504 282h0M1556 357h0M1104 337h0M1444 275h0M1127 319h0M1408 341h0M1416 334h0M1528 350h0M1472 347h0M1534 362h0M1271 304h0M1120 316h0M1518 266h0M1416 332h0M1408 319h0M1308 321h0M1445 273h0M1442 275h0M1513 317h0M1530 289h0M1439 291h0M1435 361h0M1525 328h0M1425 299h0M1094 295h0M1541 294h0M1175 299h0M1556 299h0M1556 297h0M1538 378h0M2160 308h0M2201 325h0M2112 341h0" stroke="#00b2ff"/><path d="M493 910h0M405 1372h0M475 1328h0M498 1184h0M476 1054h0M436 1163h0M451 1345h0M468 1019h0M474 1130h0M511 1339h0M502 1288h0M426 1082h0M487 1068h0M509 1158h0M407 1120h0M477 1283h0M506 1335h0M482 1119h0M412 1372h0M481 1160h0M412 1295h0M461 1258h0M441 1366h0M443 1353h0M416 1056h0M470 1263h0M401 1220h0M427 1208h0M488 957h0M480 1008h0M480 1032h0M473 1025h0M535 831h0M471 819h0M1078 664h0M1143 771h0M1063 747h0M1126 352h0M1046 508h0M1084 701h0M1089 666h0M1104 516h0M1108 517h0M1148 658h0M1051 506h0M1059 505h0M1049 503h0M1144 592h0M1075 412h0M1071 404h0M1117 404h0M1109 402h0M1113 590h0M1110 585h0M1126 710h0M1127 358h0M1109 366h0M1081 751h0M1059 741h0M1076 352h0M1060 659h0M1055 647h0M1053 663h0M1070 672h0M1080 670h0M1084 618h0M1041 557h0M1141 715h0M1136 711h0M1102 503h0M1081 677h0M1077 727h0M1089 756h0M1120 415h0M1138 781h0M1073 757h0M1089 675h0M1118 386h0M1080 765h0M1105 488h0M1143 663h0M1085 702h0M1054 458h0M1050 469h0M1489 296h0M1051 283h0M1599 334h0M1552 337h0M1547 316h0M1132 318h0M1530 349h0M1460 258h0M1616 346h0M1606 317h0M1473 319h0M1460 324h0M1111 318h0M1570 289h0M1510 263h0M1435 261h0M1408 338h0M1111 328h0M1574 362h0M1573 341h0M1107 306h0M1112 320h0M1117 327h0M1426 304h0M1581 313h0M1113 315h0M1061 346h0M1502 265h0M1599 342h0M1516 336h0M1585 315h0M1404 336h0M1026 301h0M1415 356h0M1421 317h0M2065 441h0M1861 338h0" stroke="#00ff4f"/><path d="M406 1112h0M423 1111h0M478 896h0M500 1281h0M476 1046h0M476 978h0M466 1358h0M490 1267h0M485 1275h0M408 1335h0M484 1371h0M440 1105h0M432 1125h0M422 1101h0M484 1345h0M492 1154h0M466 1302h0M486 1244h0M448 1148h0M492 1329h0M494 944h0M401 1369h0M466 1227h0M475 1282h0M484 1331h0M411 1288h0M482 1032h0M475 1243h0M489 1317h0M404 1226h0M468 1151h0M460 1135h0M466 1146h0M474 1056h0M473 1068h0M481 1028h0M432 892h0M1096 796h0M657 873h0M453 889h0M513 865h0M1082 790h0M897 842h0M911 804h0M749 929h0M991 774h0M792 918h0M692 913h0M1097 773h0M1039 754h0M423 863h0M858 878h0M1011 763h0M876 815h0M940 749h0M745 894h0M1041 777h0M1071 808h0M913 827h0M687 833h0M697 896h0M987 741h0M807 843h0M1083 504h0M1106 487h0M1079 413h0M1111 594h0M1075 401h0M1107 322h0M1138 676h0M1051 517h0M1078 509h0M1047 757h0M1111 527h0M1052 511h0M1045 504h0M1110 365h0M1063 456h0M1136 365h0M1045 493h0M1133 592h0M1132 600h0M1133 736h0M1142 707h0M1109 434h0M1073 779h0M1123 689h0M1122 376h0M1128 419h0M1125 607h0M1069 769h0M1087 770h0M1103 494h0M1044 470h0M1056 474h0M1082 408h0M1045 284h0M1311 312h0M1135 339h0M1514 278h0M1436 288h0M1141 299h0M1525 304h0M1275 331h0M1447 263h0M1498 342h0M1531 378h0M1417 283h0M1098 288h0M1419 317h0M1551 292h0M1383 341h0M1556 293h0M1910 352h0M2125 302h0M2014 353h0M2124 360h0M2104 295h0M2117 344h0" stroke="#00ffd4"/><path d="M477 1325h0M458 1249h0M461 1246h0M460 1339h0M437 1191h0M459 1009h0M452 1079h0M435 1234h0M442 1113h0M451 1174h0M447 1199h0M452 1211h0M435 1339h0M459 1014h0M454 1107h0M499 1193h0M486 1257h0M465 1307h0M444 1213h0M494 1336h0M446 1221h0M437 1258h0M431 1141h0M460 1071h0M499 1346h0M496 1246h0M422 1130h0M484 1326h0M421 1285h0M453 1270h0M431 1354h0M495 1337h0M436 1127h0M462 1166h0M462 1083h0M470 1359h0M421 1165h0M437 1296h0M912 825h0M941 824h0M991 804h0M1073 782h0M1000 777h0M847 837h0M847 852h0M1101 790h0M889 795h0M998 778h0M865 856h0M994 802h0M876 847h0M1112 452h0M1114 463h0M1124 491h0M1059 474h0M1043 552h0M1076 487h0M1106 377h0M1124 392h0M1108 518h0M1064 690h0M1065 503h0M1065 413h0M1067 422h0M1142 359h0M1085 350h0M1078 345h0M1129 360h0M1134 376h0M1126 651h0M1053 561h0M1132 457h0M1106 502h0M1086 584h0M1132 784h0M1134 775h0M1113 378h0M1104 493h0M1058 475h0M1131 434h0M1130 446h0M1485 369h0M1533 327h0M1284 329h0M1150 310h0M1195 319h0M1099 331h0M1145 332h0M1446 259h0M1112 335h0M1504 305h0M1128 326h0M1545 284h0M1437 349h0M1103 318h0M1429 290h0M1136 298h0M1127 311h0M1214 310h0M1101 266h0M1442 272h0M1248 339h0M1493 335h0M1496 335h0M1407 341h0M1441 302h0M1412 296h0M1401 324h0M1518 377h0M1455 371h0M1354 306h0M1387 342h0M1445 365h0" stroke="#0076ff"/><path d="M414 1309h0M428 1095h0M422 1093h0M475 1091h0M413 1362h0M412 1130h0M412 1080h0M402 1098h0M439 1192h0M419 1255h0M429 1105h0M474 1118h0M416 1297h0M410 1218h0M467 910h0M410 1170h0M869 835h0M985 803h0M874 812h0M1040 843h0M1074 777h0M706 921h0M861 832h0M565 849h0M720 922h0M732 909h0M853 838h0M749 905h0M692 917h0M1097 785h0M856 880h0M1019 776h0M749 911h0M454 820h0M918 808h0M889 847h0M953 812h0M694 890h0M690 899h0M707 919h0M915 809h0M699 913h0M1068 495h0M1066 746h0M1087 427h0M1102 379h0M1117 367h0M1104 360h0M1132 735h0M1106 347h0M1116 332h0M1123 606h0M1117 380h0M1102 504h0M1063 771h0M1053 766h0M1141 662h0M1057 507h0M1111 381h0M1116 391h0M1114 406h0M1069 461h0M1105 625h0M1129 368h0M1128 368h0M1131 373h0M1127 655h0M1040 495h0M1121 701h0M1133 607h0M1112 514h0M1065 783h0M1073 762h0M1128 550h0M1131 378h0M1130 592h0M1136 675h0M1143 666h0M1488 346h0M1489 360h0M1037 348h0M1577 283h0M1055 282h0M1565 300h0M1592 321h0M1599 330h0M1133 339h0M1122 342h0M1124 351h0M1596 273h0M1510 368h0M1147 296h0M1135 307h0M1116 296h0M1043 339h0M1103 243h0M1114 258h0M1094 344h0M1717 279h0M1740 271h0M1568 372h0M1568 290h0M2011 334h0M1830 356h0M2165 297h0" stroke="#00ff96"/><path d="M471 893h0M411 1020h0M418 1375h0M416 1082h0M456 1243h0M416 1097h0M408 1082h0M494 1061h0M413 986h0M405 991h0M407 1283h0M402 1362h0M503 1029h0M498 1035h0M500 1315h0M454 1339h0M460 1250h0M407 932h0M494 1088h0M500 1128h0M414 1086h0M412 1090h0M397 1089h0M404 970h0M419 967h0M437 1332h0M411 1097h0M477 1124h0M477 1117h0M474 945h0M401 1215h0M455 1220h0M429 1356h0M454 1361h0M439 1134h0M412 1191h0M437 927h0M452 1216h0M507 1339h0M488 1191h0M460 1283h0M503 1272h0M503 1239h0M504 1242h0M509 1071h0M414 1171h0M470 1065h0M499 999h0M439 1366h0M490 965h0M413 942h0M1074 662h0M1088 662h0M1064 679h0M1072 780h0M1076 767h0M1085 675h0M1087 672h0M1087 764h0M1085 771h0M1069 762h0M1128 445h0M1069 285h0M1131 345h0M1147 317h0M1190 309h0M1573 336h0M1472 326h0M1477 356h0M1144 341h0M1105 347h0M1561 293h0M1105 303h0M1422 364h0M1105 321h0M1118 338h0M1527 321h0M1094 283h0M1426 280h0M1145 294h0M1531 296h0M1579 353h0M1444 279h0M1417 334h0M1209 325h0M1100 343h0M1604 314h0M1182 307h0M1473 317h0M2146 370h0M2112 274h0M2126 329h0M2110 333h0M2123 322h0M2119 358h0M2183 340h0M2105 284h0M2179 321h0" stroke="#00ff2b"/><path d="M420 1108h0M464 1168h0M494 1156h0M471 1321h0M477 1337h0M472 1237h0M458 1068h0M449 1204h0M451 1204h0M450 1156h0M464 1365h0M475 1351h0M458 1018h0M481 1248h0M440 1312h0M499 1196h0M494 1211h0M447 1194h0M499 1287h0M436 1253h0M420 1262h0M493 1253h0M485 1244h0M457 1073h0M497 1335h0M489 1284h0M466 1369h0M426 1337h0M447 1245h0M466 1197h0M477 1180h0M466 1354h0M439 1161h0M457 1118h0M870 813h0M1049 766h0M905 793h0M1075 778h0M1067 799h0M1001 776h0M912 834h0M904 831h0M897 820h0M894 826h0M961 802h0M856 841h0M994 800h0M1037 773h0M1097 779h0M884 826h0M992 787h0M1145 769h0M1125 496h0M1088 492h0M1121 587h0M1057 692h0M1141 658h0M1052 517h0M1105 374h0M1121 406h0M1073 461h0M1055 466h0M1104 627h0M1111 580h0M1136 655h0M1063 563h0M1083 600h0M1126 476h0M1107 493h0M1116 426h0M1138 776h0M1128 379h0M1134 316h0M1123 318h0M1269 331h0M1105 324h0M1149 345h0M1458 263h0M1146 332h0M1144 335h0M1336 304h0M1506 306h0M1551 277h0M1400 268h0M1444 281h0M1114 317h0M1120 322h0M1129 315h0M1207 311h0M1124 297h0M1450 274h0M1431 293h0M1423 303h0M1097 295h0M1542 287h0M1142 295h0M1388 338h0" stroke="#005aff"/><path d="M453 1150h0M495 887h0M450 1066h0M494 1069h0M457 1063h0M498 1037h0M506 1133h0M482 1071h0M494 1074h0M493 1121h0M485 1003h0M488 1116h0M490 971h0M453 1124h0M487 1019h0M480 1054h0M484 1064h0M510 1369h0M452 1101h0M477 1027h0M894 889h0M796 910h0M803 910h0M791 889h0M770 882h0M521 826h0M547 919h0M538 919h0M767 927h0M585 870h0M964 764h0M1087 493h0M1110 478h0M1116 465h0M1077 413h0M1071 521h0M1118 351h0M1112 341h0M1068 688h0M1143 655h0M1147 661h0M1053 504h0M1140 372h0M1144 382h0M1144 373h0M1111 371h0M1078 354h0M1086 353h0M1129 702h0M1129 658h0M1041 492h0M1137 733h0M1057 348h0M1119 449h0M1110 504h0M1084 729h0M1117 364h0M1120 417h0M1122 421h0M1135 784h0M1139 609h0M1089 750h0M1070 770h0M1120 656h0M1120 588h0M1497 281h0M1146 322h0M1144 311h0M1463 272h0M1574 297h0M1576 297h0M1104 330h0M1144 331h0M1462 307h0M1125 331h0M1504 261h0M1028 344h0M1037 356h0M1115 326h0M1093 296h0M1427 276h0M1444 347h0M1456 268h0M1585 353h0M1544 340h0M1105 354h0M1095 273h0M1092 293h0M1551 297h0M1567 294h0M2042 322h0M1694 283h0M1776 272h0M1598 260h0M1896 296h0M2194 324h0M1895 373h0" stroke="#00ff73"/><path d="M461 1232h0M461 1151h0M424 1297h0M459 998h0M453 1237h0M477 1246h0M492 1277h0M425 1158h0M471 1350h0M427 1195h0M495 1185h0M468 1172h0M477 1259h0M454 1185h0M464 1195h0M492 1200h0M445 1243h0M453 1195h0M447 1199h0M451 914h0M430 1213h0M487 1162h0M468 1212h0M448 1353h0M428 1305h0M471 1271h0M454 951h0M469 1224h0M461 1070h0M1501 300h0M1514 289h0M1269 330h0M1129 355h0M1136 317h0M1134 309h0M1433 367h0M1421 274h0M1423 272h0M1520 338h0M1120 323h0M1101 286h0M1469 338h0M1138 339h0M1263 346h0M1384 333h0M1471 300h0M1555 282h0M1229 332h0M1521 302h0M1102 334h0M1120 328h0M1201 296h0M1509 268h0M1122 314h0M1457 331h0M1528 298h0M1372 323h0M1419 303h0M1347 365h0M1373 318h0M1099 297h0M1535 277h0M1364 324h0M1265 327h0M1559 297h0M1553 305h0M1394 316h0M1318 331h0" stroke="#0006ff"/><path d="M458 1167h0M487 1324h0M424 983h0M435 1247h0M466 1258h0M421 1229h0M474 1297h0M434 1315h0M491 1210h0M435 1181h0M447 1318h0M483 1367h0M494 1370h0M421 979h0M451 1250h0M458 1154h0M428 1198h0M471 1172h0M486 1145h0M446 1238h0M494 1327h0M452 1023h0M439 919h0M452 917h0M465 1277h0M462 1076h0M429 1302h0M498 1324h0M865 837h0M1069 767h0M1076 771h0M861 819h0M1096 790h0M1082 799h0M901 816h0M965 816h0M982 795h0M985 775h0M1055 767h0M1537 279h0M1122 324h0M1475 347h0M1397 355h0M1147 309h0M1150 351h0M1125 326h0M1105 285h0M1381 330h0M1464 309h0M1550 281h0M1554 299h0M1339 353h0M1437 274h0M1449 288h0M1466 275h0M1216 317h0M1420 322h0M1306 321h0M1106 294h0M1555 274h0M1138 297h0M1252 328h0M1424 320h0M1378 331h0" stroke="#003eff"/><path d="M484 1146h0M463 1260h0M461 1229h0M434 1269h0M457 1157h0M445 1367h0M455 1309h0M485 1324h0M456 1289h0M453 1193h0M457 1073h0M431 1341h0M488 1232h0M430 1209h0M484 1316h0M490 1158h0M431 1353h0M427 1352h0M451 1260h0M447 1246h0M486 1321h0M486 1319h0M439 915h0M459 1212h0M458 1210h0M465 911h0M462 1068h0M442 1301h0M457 969h0M1542 270h0M1540 273h0M1503 296h0M1295 330h0M1138 346h0M1321 328h0M1143 305h0M1553 318h0M1415 255h0M1509 356h0M1551 306h0M1105 337h0M1204 359h0M1448 267h0M1435 284h0M1194 308h0M1121 266h0M1507 339h0M1246 310h0M1117 320h0M1111 294h0M1448 293h0M1541 328h0M1437 306h0M1440 290h0M1332 331h0M1341 323h0M1135 347h0M1541 278h0M1534 285h0M1368 340h0M1373 343h0M1536 303h0M1385 313h0" stroke="#0022ff"/><path d="M491 1313h0M460 1234h0M452 1228h0M467 1249h0M463 1261h0M452 1258h0M436 1184h0M422 1194h0M437 1235h0M448 1153h0M439 1196h0M489 1254h0M462 1151h0M429 1193h0M460 919h0M459 1201h0M444 1217h0M434 1193h0M453 1042h0M457 1077h0M480 1338h0M423 1150h0M495 1203h0M479 1147h0M478 1230h0M441 922h0M434 918h0M454 905h0M458 912h0M466 1086h0M421 1223h0M500 1245h0M436 977h0M472 1199h0M459 913h0M1545 269h0M1281 329h0M1322 330h0M1383 350h0M1347 340h0M1337 338h0M1119 345h0M1103 339h0M1123 353h0M1494 310h0M1537 294h0M1227 332h0M1100 343h0M1526 310h0M1541 302h0M1356 332h0M1121 337h0M1425 277h0M1240 315h0M1250 318h0M1236 314h0M1384 342h0M1505 282h0M1105 299h0M1156 341h0M1520 358h0M1364 324h0M1181 297h0" stroke="#1600eb"/><path d="M456 1175h0M458 1163h0M482 1151h0M472 1308h0M484 1275h0M499 1184h0M437 1221h0M491 1359h0M445 961h0M433 1244h0M447 1205h0M444 1218h0M432 1265h0M457 1082h0M420 965h0M485 1298h0M424 1151h0M423 1204h0M453 1176h0M456 1175h0M464 1229h0M463 1217h0M448 1260h0M499 1335h0M437 918h0M459 920h0M498 1242h0M435 1205h0M433 1170h0M458 970h0M1509 275h0M1479 279h0M1292 332h0M1355 344h0M1105 314h0M1368 311h0M1147 340h0M1266 360h0M1392 330h0M1511 264h0M1522 358h0M1419 289h0M1435 269h0M1531 314h0M1513 276h0M1114 295h0M1529 303h0M1288 328h0M1173 332h0M1450 270h0M1452 265h0M1311 313h0M1428 321h0M1350 353h0M1306 360h0M1130 343h0M1403 281h0" stroke="#2200e0"/><path d="M460 1172h0M462 1177h0M460 1255h0M442 1231h0M435 1157h0M421 917h0M425 916h0M439 1234h0M426 1262h0M455 1044h0M463 1043h0M451 1261h0M462 1232h0M461 1179h0M422 965h0M461 1253h0M441 923h0M425 1191h0M1505 270h0M1524 292h0M1538 334h0M1333 330h0M1274 346h0M1249 354h0M1340 337h0M1331 347h0M1475 285h0M1468 344h0M1232 327h0M1493 273h0M1398 305h0M1377 358h0M1557 297h0M1429 285h0M1377 308h0M1481 367h0M1425 256h0M1292 335h0M1248 344h0M1521 332h0M1415 296h0M1357 352h0M1351 360h0M1327 326h0M1331 310h0M1556 287h0M1558 303h0M1261 298h0M1385 326h0" stroke="#2e00d8"/><path d="M454 1234h0M441 1242h0M480 1237h0M493 1319h0M474 1278h0M491 1201h0M493 1201h0M482 1343h0M445 1192h0M482 1242h0M483 1250h0M426 908h0M472 1255h0M439 1356h0M458 1235h0M491 1334h0M463 1264h0M436 1215h0M477 1197h0M475 1209h0M422 1161h0M1536 265h0M1513 299h0M1268 302h0M1121 321h0M1209 307h0M1108 341h0M1169 319h0M1475 303h0M1108 319h0M1402 290h0M1309 308h0M1304 316h0M1106 334h0M1445 279h0M1425 278h0M1431 323h0M1306 307h0M1136 310h0M1517 340h0M1441 296h0M1506 376h0M1109 301h0M1325 310h0M1529 289h0M1474 309h0" stroke="#0a00f6"/><path d="M460 912h0M462 1001h0M463 1081h0M452 981h0M426 928h0M433 927h0M458 926h0M452 962h0M1291 301h0M1309 300h0M1296 322h0M1364 325h0M1171 326h0M1318 341h0M1282 320h0M1166 338h0M1343 319h0M1358 336h0M1384 312h0M1206 317h0M1295 335h0M1354 348h0M1346 326h0M1313 334h0M1365 304h0M1275 341h0" stroke="#5000c0"/><path d="M460 1156h0M442 1231h0M462 1036h0M456 1082h0M447 1262h0M443 925h0M442 910h0M421 957h0M1349 347h0M1200 305h0M1154 309h0M1489 302h0M1510 262h0M1403 270h0M1271 352h0M1399 342h0M1428 306h0M1523 371h0M1385 328h0M1559 268h0" stroke="#3900d0"/><path d="M421 919h0M455 1088h0M461 1080h0M463 1081h0M449 974h0M461 972h0M455 1071h0M1337 330h0M1253 305h0M1246 331h0M1196 315h0M1283 318h0M1386 347h0M1386 329h0M1300 320h0M1198 308h0M1227 324h0M1346 318h0M1305 338h0" stroke="#4400c8"/><path d="M456 969h0M455 978h0M461 922h0M452 960h0M437 975h0M1249 315h0M1152 308h0M1203 311h0M1356 307h0M1304 315h0M1299 324h0M1174 296h0M1158 326h0M1331 334h0" stroke="#5a00b9"/><path d="M434 1044h0M1281 305h0M1257 308h0M1338 322h0M1297 337h0M1359 259h0M1169 343h0M1368 323h0M1210 251h0M1393 296h0M1396 330h0M1371 313h0M1274 297h0" stroke="#920089"/><path d="M446 978h0M443 1040h0M430 1054h0M449 959h0M1341 326h0M1308 322h0M1367 324h0" stroke="#6400b2"/><path d="M427 1084h0M445 1073h0M1361 282h0M1313 267h0M1261 266h0M1202 292h0" stroke="#890092"/><path d="M427 1025h0M420 1045h0M1327 262h0M1299 261h0M1340 280h0" stroke="#7800a4"/><path d="M425 1034h0M433 1032h0M447 1067h0M447 1077h0" stroke="#6e00ab"/><path d="M425 1058h0M444 1078h0M1240 270h0M1228 255h0" stroke="#80009b"/></g></g>
<path d="M460.0 1367.0L460.0 895.0L463.0 886.0L471.0 880.0L480.0 878.0L508.0 876.6L667.6 871.0L799.5 869.8L835.5 865.8L848.0 858.0L859.4 847.9L891.4 815.9L905.0 808.0L919.3 803.9L1059.2 786.0L1077.0 783.5L1088.0 778.0L1094.0 770.0L1096.0 760.0L1096.0 326.0L1098.0 312.0L1106.0 302.0L1118.0 296.0L1143.3 293.6L1356.9 300.4L1450.0 308.0L1500.0 312.5L1555.2 314.3L1588.3 310.7L1610.4 305.1L1665.6 284.9L1720.8 266.5L1776.0 248.1L1795.0 244.0L1805.5 243.3L1820.2 251.8L1849.6 275.7L1871.7 297.8L1904.9 327.2L1960.0 356.7L2015.3 376.9L2041.0 380.6L2070.0 378.0L2088.9 373.2L2105.0 364.0L2118.3 353.0L2128.0 340.0L2136.7 327.2" fill="none" stroke="#c3262a" stroke-width="9.4" stroke-linejoin="round" stroke-linecap="butt"/>
<path d="M461.2 1342.0L475.5 1367.0H446.9zM460.0 1152.8L474.3 1177.8H445.7zM457.9 978.5L472.2 1003.5H443.6zM508.6 862.0L522.9 887.0H494.3zM667.6 854.8L681.9 879.8H653.3zM801.5 854.0L815.8 879.0H787.2zM905.4 796.9L919.7 821.9H891.1zM1077.2 761.0L1091.5 786.0H1062.9zM1095.0 629.0L1109.3 654.0H1080.7zM1097.8 452.6L1112.1 477.6H1083.5zM1125.3 284.6L1139.6 309.6H1111.0zM1599.4 292.0L1613.7 317.0H1585.1zM1871.7 283.8L1886.0 308.8H1857.4zM2136.7 302.2L2151.0 327.2H2122.4z" fill="#000"/>
</g>
<rect x="355.5" y="800" width="209" height="630" fill="none" stroke="#fff" stroke-width="8.5" stroke-dasharray="14 14"/>
<g clip-path="url(#insetclip)">
<g transform="translate(952.99,-324.18) scale(1.2435)"><use href="#sat"/></g>
<g fill="none" stroke-width="8.6" stroke-linecap="round"><path d="M1495 1070h0M1480 1054h0M1517 1111h0M1519 1118h0M1515 1115h0M1524 1129h0M1534 795h0M1540 797h0M1554 794h0M1543 785h0M1548 803h0M1473 961h0M1533 795h0M1541 791h0M1523 800h0M1532 775h0M1559 944h0M1565 942h0M1562 939h0M1535 948h0M1546 944h0M1571 797h0M1564 799h0M1570 801h0M1556 812h0M1466 1379h0M1469 1388h0M1464 1392h0M1462 1390h0M1455 1379h0M1498 1100h0M1492 1111h0M1477 1090h0M1483 1287h0M1470 1282h0M1526 1027h0M1543 1000h0M1547 1017h0M1577 1197h0M1563 1197h0M1562 1103h0M1556 1092h0M1455 950h0M1460 964h0M1460 967h0M1562 952h0M1554 951h0M1559 937h0M1563 943h0M1559 945h0M1565 1317h0M1541 1318h0M1472 1011h0M1466 994h0M1452 1012h0M1465 1014h0M1460 1022h0M1472 1005h0M1459 1035h0M1466 1012h0M1534 1237h0M1491 1259h0M1521 1225h0M1532 1246h0M1522 1111h0M1573 897h0M1552 899h0M1559 897h0M1549 888h0M1542 902h0M1537 904h0M1554 907h0M1550 903h0M1497 1386h0M1460 1022h0M1457 1031h0M1451 1042h0M1465 959h0M1463 957h0M1451 963h0M1452 929h0M1472 924h0M1452 952h0M1569 1007h0M1561 1005h0M1568 1012h0M1567 1007h0M1572 1010h0M1573 1001h0M1466 919h0M1467 906h0M1467 909h0M1472 899h0M1518 1372h0M1500 1257h0M1486 1281h0M1527 921h0M1546 1033h0M1530 1019h0M1465 913h0M1446 901h0M1456 914h0M1474 913h0M1463 908h0M1549 1246h0M1556 884h0M1558 893h0M1539 907h0M1533 902h0M1570 1252h0M1567 1270h0M1471 991h0M1472 993h0M1468 986h0M1475 986h0M1463 989h0M1473 993h0M1459 1414h0M1447 1400h0M1457 1394h0M1579 1168h0M1576 1159h0M1586 1160h0M1571 1158h0M1578 1144h0M1573 1155h0M1566 978h0M1551 965h0M1561 983h0M1559 973h0M1470 1052h0M1454 1073h0M1471 1046h0M1568 933h0M1574 921h0M1451 1013h0M1471 1011h0M1461 1025h0M1457 1017h0M1470 1011h0M1559 1006h0M1509 1173h0M1509 1173h0M1559 1219h0M1548 1225h0M1569 964h0M1584 956h0M1576 949h0M1537 1358h0M1534 1363h0M1536 1369h0M1536 1358h0M1577 1315h0M1500 1342h0M1514 1337h0M1502 1147h0M1474 1148h0M1454 1016h0M1519 1345h0M1514 1338h0M1516 1330h0M1524 1343h0M1518 1333h0M1524 1336h0M1573 1141h0M1577 1149h0M1561 895h0M1533 1360h0M1508 895h0M1542 1157h0M1546 843h0M1564 849h0M1556 860h0M1558 1221h0M1466 829h0M1468 1222h0M1574 1326h0M1576 1309h0M1583 1316h0M1568 1327h0M1461 1304h0M1467 1304h0M1460 1301h0M1461 1317h0M1523 809h0M1536 810h0M1546 813h0M1539 830h0M1536 807h0M1455 1340h0M1467 1346h0M1532 1280h0M1540 1066h0M1525 1052h0M1519 1055h0M1475 971h0M1483 1349h0M1497 1327h0M1491 1340h0M1499 1309h0M1491 1353h0M1549 1160h0M1561 1135h0M1548 1252h0M1584 1076h0M1578 1085h0M1581 1075h0M1580 1102h0M1576 1097h0M1538 1169h0M1558 1024h0M1562 1028h0M1573 1020h0M1554 1026h0M1509 1338h0M1551 1034h0M1533 1045h0M1473 1044h0M1575 1079h0M1565 1067h0M1548 1060h0M1524 1293h0M1573 837h0M1560 831h0M1583 849h0M1567 824h0M1476 1220h0M1498 1213h0M1554 1381h0M1563 1379h0M1560 1379h0M1561 1369h0M1557 1377h0M1459 1019h0M1459 1023h0M1451 1025h0M1514 829h0M1575 1016h0M1583 1009h0M1590 1016h0M1588 1007h0M1580 1019h0M1583 1023h0M1585 1021h0M1589 1015h0M1574 1353h0M1555 1333h0M1496 1165h0M1484 1045h0M1506 1057h0M1501 1059h0M1473 1065h0M1497 1051h0M1580 1275h0M1580 1272h0M1578 1272h0M1567 1275h0M1582 1263h0M1495 1265h0M1489 1091h0M1484 1089h0M1474 1105h0M1470 1092h0M1455 1084h0M1522 988h0M1531 970h0M1533 969h0M1524 1022h0M1464 1008h0M1474 1006h0M1474 1013h0M1560 1012h0M1557 990h0M1556 1002h0M1547 1013h0M1472 875h0M1465 879h0M1478 887h0M1472 876h0M1472 867h0M1564 1344h0M1558 1315h0M1576 1334h0M1566 1340h0M1530 1403h0M1533 1402h0M1518 1411h0M1515 1405h0M1491 1389h0M1510 1404h0M1586 1131h0M1559 1140h0M1553 1110h0M1580 1118h0M1566 1120h0M1465 891h0M1468 890h0M1472 908h0M1455 911h0M1450 898h0M1493 1337h0M1520 1260h0M1515 1252h0M1475 1053h0M1471 1039h0M1480 1033h0M1474 1029h0M1487 1051h0M1589 1218h0M1570 1215h0M1579 1291h0M1532 1259h0M1538 1291h0M1538 1023h0M1547 984h0M1548 1016h0M1467 1064h0M1462 1056h0M1476 1038h0M1552 1231h0M1480 1063h0M1483 1097h0M1559 1005h0M1581 991h0M1562 1076h0M1558 1069h0M1549 1077h0M1452 815h0M1446 799h0M1458 815h0M1452 799h0M1462 812h0M1473 808h0M1461 801h0M1474 819h0M1495 894h0M1509 879h0M1536 1075h0M1568 1005h0M1568 1021h0M1580 1008h0M1577 1013h0M1584 1029h0M1586 1013h0M1581 1023h0M1520 797h0M1557 1007h0M1556 992h0M1563 1002h0M1558 1276h0M1548 1066h0M1582 1065h0M1541 874h0M1552 865h0M1447 1388h0M1544 1211h0M1461 1185h0M1532 1396h0M1544 1388h0M1524 1136h0M1554 1188h0M1567 1172h0M1524 1265h0M1558 1321h0M1559 1131h0M1537 1198h0M1543 1202h0M1567 1185h0M1474 868h0M1470 875h0M1470 878h0M1475 840h0M1489 853h0M1477 1277h0M1461 1291h0M1458 1297h0M1532 1251h0M1528 1298h0M1557 959h0M1565 959h0M1564 956h0M1559 961h0M1556 970h0M1549 954h0M1590 1350h0M1589 1355h0M1589 1347h0M1581 1349h0M1578 1354h0M1575 1356h0M1574 1336h0M1488 1368h0M1505 1372h0M1478 1368h0M1486 1346h0M1513 1383h0M1529 876h0M1559 818h0M1490 1295h0M1511 1226h0M1546 1215h0M1523 1197h0M1581 1333h0M1575 1348h0M1586 1350h0M1516 980h0M1504 975h0M1582 1214h0M1578 1215h0M1506 1082h0M1496 1066h0M1502 1064h0M1568 956h0M1555 940h0M1559 939h0M1566 937h0M1557 936h0M1469 991h0M1471 996h0M1482 990h0M1534 1267h0M1506 882h0M1529 860h0M1513 883h0M1589 1342h0M1540 1166h0M1457 997h0M1517 1254h0M1460 996h0M1460 1002h0M1472 1006h0M1456 995h0M1468 1002h0M1459 1007h0M1580 1276h0M1580 1261h0M1586 1271h0M1577 1271h0M1571 1265h0M1583 1275h0M1536 1036h0M1466 1187h0M1453 1195h0M1456 1174h0M1461 1207h0M1460 1203h0M1458 1209h0M1524 1380h0M1502 1372h0M1548 1367h0M1553 1370h0M1542 1358h0M1579 1221h0M1583 1220h0M1584 1216h0M1577 1212h0M1550 837h0M1548 839h0M1553 838h0M1553 841h0M1547 845h0M1508 1174h0M1490 894h0M1490 889h0M1544 825h0M1552 815h0M1547 1176h0M1460 1344h0M1520 1344h0M1528 1341h0M1562 949h0M1545 804h0M1537 799h0M1523 1018h0M1487 1103h0M1494 1100h0M1535 1115h0M1531 1101h0M1531 1108h0M1558 976h0M1556 997h0M1549 1000h0M1584 1006h0M1566 1000h0M1450 1129h0M1452 1117h0M1541 997h0M1546 1006h0M1586 907h0M1487 1290h0M1512 1292h0M1481 1302h0M1495 1283h0M1507 1290h0M1489 1284h0M1556 1245h0M1582 1261h0M1579 1258h0M1533 970h0M1543 987h0M1501 883h0M1533 885h0M1540 889h0M1539 869h0M1520 893h0M1521 898h0M1522 891h0M1575 1312h0M1473 940h0M1452 943h0M1449 935h0M1581 1380h0M1580 1385h0M1582 1387h0M1504 1375h0M1564 858h0M1577 1123h0M1575 1120h0M1577 1326h0M1577 1323h0M1582 1319h0M1575 1318h0M1454 1031h0M1457 1034h0M1511 1060h0M1512 1077h0M1498 1052h0M1463 857h0M1463 862h0M1455 860h0M1565 945h0M1588 933h0M1551 919h0M1556 924h0M1571 956h0M1544 942h0M1562 953h0M1545 935h0M1553 940h0M1491 767h0M1486 772h0M1502 769h0M1485 763h0M1479 770h0M1494 786h0M1480 777h0M1703 732h0M1716 719h0M1721 729h0M1585 747h0M1561 745h0M1599 732h0M1554 738h0M1548 745h0M1594 745h0M1588 734h0M1680 783h0M1698 785h0M1483 809h0M1478 830h0M1490 835h0M1520 833h0M1492 835h0M1513 835h0M1725 754h0M1716 739h0M1710 748h0M1720 758h0M1673 780h0M1695 780h0M1672 769h0M1661 781h0M1671 771h0M1664 784h0M1664 778h0M1530 799h0M1516 801h0M1513 815h0M1532 808h0M1502 727h0M1512 727h0M1529 745h0M1532 728h0M1566 770h0M1566 765h0M1561 775h0M1559 766h0M1543 779h0M1594 738h0M1589 721h0M1607 740h0M1593 712h0M1587 730h0M1587 713h0M1599 715h0M1582 715h0M1599 712h0M1554 806h0M1540 809h0M1571 812h0M1597 778h0M1610 753h0M1610 772h0M1604 766h0M1612 779h0M1599 765h0M1608 765h0M1616 768h0M1680 735h0M1669 723h0M1672 717h0M1696 727h0M1693 724h0M1678 742h0M1689 733h0M1611 760h0M1618 760h0M1589 828h0M1587 799h0M1617 809h0M1594 818h0M1501 768h0M1524 770h0M1566 721h0M1579 705h0M1571 735h0M1555 715h0M1627 760h0M1606 754h0M1630 728h0M1635 763h0M1623 757h0M1467 803h0M1474 808h0M1462 816h0M1467 809h0M1707 830h0M1698 831h0M1697 821h0M1712 824h0M1674 829h0M1691 817h0M1523 792h0M1531 787h0M1517 780h0M1527 778h0M1527 777h0M1520 789h0M1575 758h0M1576 738h0M1581 747h0M1572 756h0M1583 754h0M1576 759h0M1677 770h0M1667 767h0M1670 757h0M1673 762h0M1505 785h0M1531 781h0M1506 800h0M1515 780h0M1521 771h0M1503 790h0M1518 791h0M1520 791h0M1521 791h0M1727 799h0M1730 823h0M1726 826h0M1714 813h0M1703 825h0M1685 811h0M1596 710h0M1614 718h0M1489 815h0M1480 834h0M1474 811h0M1482 827h0M1508 835h0M1510 822h0M1514 825h0M1503 816h0M1504 828h0M1516 822h0M1516 829h0M1507 827h0M1505 797h0M1512 787h0M1508 786h0M1514 787h0M1735 799h0M1730 793h0M1736 794h0M1735 800h0M1720 785h0M1737 795h0M1727 798h0M1736 799h0M1707 723h0M1719 722h0M1660 758h0M1525 830h0M1536 825h0M1529 830h0M1688 754h0M1697 760h0M1693 743h0M1694 757h0M1700 768h0M1690 760h0M1702 756h0M1694 760h0M1539 806h0M1524 814h0M1513 795h0M1520 820h0M1525 807h0M1518 816h0M1526 818h0M1522 805h0M1526 804h0M1530 713h0M1525 717h0M1539 699h0M1526 712h0M1527 704h0M1533 700h0M1530 772h0M1530 752h0M1535 750h0M1530 761h0M1540 756h0M1538 758h0M1540 765h0M1606 742h0M1583 745h0M1600 743h0M1601 744h0M1617 746h0M1611 741h0M1608 748h0M1612 739h0M1598 756h0M1496 710h0M1508 695h0M1664 793h0M1671 779h0M1677 782h0M1676 800h0M1661 791h0M1665 798h0M1671 791h0M1658 791h0M1674 786h0M1514 724h0M1505 722h0M1511 719h0M1507 710h0M1473 787h0M1501 792h0M1516 786h0M1509 797h0M1508 817h0M1507 799h0M1483 783h0M1506 784h0M1512 810h0M1510 794h0M1640 724h0M1619 703h0M1630 725h0M1474 773h0M1470 751h0M1483 758h0M1595 814h0M1597 819h0M1615 816h0M1591 805h0M1585 807h0M1613 788h0M1598 815h0M1595 799h0M1606 722h0M1615 734h0M1606 731h0M1605 717h0M1620 706h0M1617 734h0M1622 737h0M1575 818h0M1577 822h0M1582 818h0M1583 825h0M1577 823h0M1584 818h0M1582 817h0M1583 823h0M1574 824h0M1640 751h0M1643 745h0M1649 738h0M1645 752h0M1646 731h0M1657 726h0M1648 740h0M1658 733h0M1560 830h0M1571 822h0M1559 823h0M1556 822h0M1546 829h0M1557 836h0M1562 823h0M1562 815h0M1556 829h0M1570 696h0M1541 756h0M1514 749h0M1511 734h0M1503 736h0M1518 750h0M1494 736h0M1713 754h0M1736 730h0M1715 743h0M1713 760h0M1724 742h0M1727 747h0M1718 758h0M1708 760h0M1457 816h0M1481 814h0M1455 799h0M1458 821h0M1461 786h0M1451 808h0M1449 804h0M1645 708h0M1644 726h0M1646 718h0M1638 713h0M1646 720h0M1612 713h0M1619 698h0M1612 704h0M1613 717h0M1614 704h0M1619 709h0M1635 818h0M1629 803h0M1621 816h0M1620 838h0M1574 789h0M1587 790h0M1585 780h0M1597 776h0M1577 775h0M1576 775h0M1563 707h0M1549 705h0M1559 729h0M1557 748h0M1534 719h0M1532 725h0M1562 698h0M1546 700h0M1705 763h0M1691 765h0M1704 769h0M1698 760h0M1531 707h0M1513 695h0M1534 696h0M1667 803h0M1646 785h0M1653 798h0M1626 727h0M1625 712h0M1632 717h0M1625 720h0M1542 743h0M1541 739h0M1537 739h0M1534 730h0M1541 751h0M1550 735h0M1547 742h0M1715 762h0M1711 736h0M1739 758h0M1714 773h0M1719 765h0M1734 779h0M1737 791h0M1737 776h0M1736 780h0M1734 795h0M1717 757h0M1721 735h0M1728 749h0M1513 702h0M1500 713h0M1511 721h0M1508 695h0M1509 695h0M1499 699h0M1501 723h0M1499 714h0M1635 823h0M1631 824h0M1630 817h0M1635 827h0M1633 820h0M1642 821h0M1633 824h0M1631 827h0M1636 821h0M1592 780h0M1579 818h0M1597 813h0M1595 809h0M1584 807h0M1580 808h0M1609 809h0M1561 795h0M1592 807h0M1721 732h0M1732 712h0M1710 695h0M1714 718h0M1726 713h0M1736 811h0M1735 811h0M1696 816h0M1683 818h0M1687 814h0M1671 834h0M1683 827h0M1507 779h0M1487 775h0M1513 810h0M1491 802h0M1492 779h0M1476 827h0M1475 821h0M1469 820h0M1470 828h0M1481 823h0M1479 820h0M1472 817h0M1474 817h0M1491 718h0M1493 733h0M1488 737h0M1483 741h0M1496 730h0M1495 723h0M1485 736h0M1490 728h0M1587 756h0M1587 739h0M1598 772h0M1589 765h0M1590 756h0M1687 757h0M1651 759h0M1688 744h0M1696 757h0M1666 749h0M1665 753h0M1487 752h0M1484 760h0M1496 769h0M1507 754h0M1492 745h0M1686 757h0M1670 755h0M1684 760h0M1681 748h0M1676 770h0M1737 731h0M1647 797h0M1647 794h0M1652 808h0M1636 807h0M1625 800h0M1639 801h0M1642 813h0M1645 801h0M1509 813h0M1489 829h0M1500 817h0M1496 815h0M1502 817h0M1511 811h0M1495 822h0M1503 823h0M1510 822h0M1493 818h0M1466 780h0M1472 776h0M1479 774h0M1477 781h0M1547 779h0M1564 746h0M1565 781h0M1489 804h0M1487 791h0M1465 811h0M1490 804h0M1499 780h0M1703 803h0M1700 808h0M1697 806h0M1703 749h0M1714 741h0M1704 745h0M1711 753h0M1645 715h0M1652 719h0M1652 716h0M1651 713h0M1645 715h0M1643 714h0M1651 703h0M1668 765h0M1665 773h0M1671 798h0M1656 791h0M1677 786h0M1698 804h0M1697 811h0M1657 781h0M1523 729h0M1523 719h0M1525 721h0M1524 726h0M1524 725h0M1521 728h0M1519 730h0M1532 731h0M1564 754h0M1567 741h0M1579 765h0M1570 741h0M1582 743h0M1571 760h0M1710 733h0M1598 824h0M1612 822h0M1610 812h0M1604 816h0M1609 819h0M1605 819h0M1613 827h0M1497 1086h0M1473 1046h0M1515 1101h0M1557 788h0M1552 789h0M1472 960h0M1552 782h0M1527 800h0M1542 778h0M1569 941h0M1559 943h0M1559 812h0M1569 801h0M1555 812h0M1467 1380h0M1457 1393h0M1459 1393h0M1452 1377h0M1479 1099h0M1471 1285h0M1529 1035h0M1546 1026h0M1560 1201h0M1573 1100h0M1562 1094h0M1456 949h0M1566 942h0M1568 1306h0M1534 1311h0M1462 994h0M1448 1017h0M1461 1026h0M1465 1002h0M1466 1029h0M1549 903h0M1557 898h0M1554 887h0M1533 897h0M1547 907h0M1504 1390h0M1455 1026h0M1465 960h0M1461 959h0M1447 971h0M1457 929h0M1457 944h0M1568 995h0M1561 1009h0M1570 991h0M1469 915h0M1461 903h0M1470 898h0M1496 1250h0M1544 1036h0M1528 1011h0M1448 893h0M1458 919h0M1560 880h0M1540 900h0M1530 898h0M1556 1267h0M1479 976h0M1475 993h0M1462 1419h0M1461 1404h0M1583 1168h0M1583 1160h0M1573 1162h0M1581 1145h0M1572 1156h0M1567 979h0M1561 987h0M1477 1057h0M1473 1046h0M1569 934h0M1457 1012h0M1454 1023h0M1556 1009h0M1511 1186h0M1560 1222h0M1544 1226h0M1571 947h0M1533 1352h0M1524 1377h0M1534 1370h0M1542 1368h0M1503 1341h0M1514 1333h0M1477 1149h0M1527 1340h0M1525 1327h0M1524 1345h0M1574 1136h0M1566 896h0M1552 835h0M1558 846h0M1553 855h0M1560 1217h0M1464 829h0M1472 1231h0M1580 1320h0M1453 1314h0M1463 1311h0M1545 808h0M1546 816h0M1452 1341h0M1462 1345h0M1530 1276h0M1470 976h0M1487 1351h0M1504 1328h0M1556 1130h0M1554 1253h0M1591 1070h0M1572 1088h0M1578 1103h0M1581 1095h0M1535 1183h0M1551 1022h0M1559 1028h0M1514 1336h0M1547 1037h0M1533 1049h0M1571 1078h0M1561 1061h0M1557 1063h0M1521 1292h0M1572 832h0M1557 821h0M1486 1219h0M1503 1217h0M1554 1378h0M1565 1383h0M1565 1381h0M1558 1369h0M1555 1378h0M1454 1030h0M1462 1037h0M1562 1020h0M1583 1006h0M1583 1006h0M1583 1016h0M1582 1364h0M1551 1327h0M1486 1040h0M1504 1053h0M1502 1064h0M1470 1071h0M1502 1052h0M1577 1273h0M1584 1257h0M1509 1279h0M1488 1090h0M1469 1090h0M1450 1074h0M1518 989h0M1529 969h0M1523 1022h0M1475 1000h0M1546 995h0M1549 1016h0M1463 884h0M1481 899h0M1475 873h0M1474 873h0M1560 1343h0M1576 1338h0M1516 1412h0M1488 1401h0M1514 1402h0M1583 1126h0M1563 1145h0M1552 1112h0M1578 1124h0M1567 1115h0M1470 899h0M1464 894h0M1469 911h0M1450 913h0M1495 1337h0M1518 1262h0M1484 1058h0M1479 1044h0M1479 1032h0M1578 1282h0M1557 989h0M1474 1062h0M1458 1050h0M1553 1226h0M1478 1099h0M1562 1005h0M1580 984h0M1557 1073h0M1558 1073h0M1452 801h0M1463 810h0M1479 802h0M1495 898h0M1504 870h0M1581 1005h0M1583 1030h0M1517 807h0M1551 990h0M1561 1284h0M1550 864h0M1473 1192h0M1523 1394h0M1544 1379h0M1531 1138h0M1569 1175h0M1565 1326h0M1571 1177h0M1474 869h0M1466 860h0M1476 1285h0M1454 1280h0M1464 1296h0M1525 1251h0M1557 957h0M1570 961h0M1560 953h0M1569 971h0M1551 956h0M1584 1360h0M1583 1337h0M1571 1351h0M1488 1364h0M1478 1382h0M1523 1378h0M1557 823h0M1541 1215h0M1584 1332h0M1564 1351h0M1583 1358h0M1514 974h0M1585 1217h0M1508 1081h0M1502 1067h0M1500 1072h0M1576 957h0M1558 946h0M1558 941h0M1472 987h0M1470 997h0M1482 994h0M1533 1272h0M1536 852h0M1588 1339h0M1456 1006h0M1511 1253h0M1456 983h0M1472 1013h0M1582 1265h0M1581 1257h0M1574 1271h0M1544 1036h0M1444 1203h0M1460 1213h0M1460 1205h0M1506 1370h0M1556 1374h0M1582 1216h0M1542 831h0M1553 846h0M1555 845h0M1507 1171h0M1498 892h0M1496 892h0M1557 815h0M1549 1186h0M1523 1351h0M1534 1337h0M1535 790h0M1493 1106h0M1493 1101h0M1537 1112h0M1519 1104h0M1561 974h0M1542 999h0M1577 1005h0M1568 1005h0M1445 1130h0M1492 1290h0M1479 1300h0M1494 1282h0M1578 1255h0M1505 880h0M1543 888h0M1539 893h0M1533 875h0M1519 884h0M1578 1320h0M1578 1372h0M1578 1383h0M1586 1387h0M1579 1128h0M1577 1316h0M1577 1308h0M1457 1030h0M1511 1079h0M1457 861h0M1457 860h0M1449 863h0M1554 923h0M1570 953h0M1544 938h0M1486 778h0M1496 766h0M1477 767h0M1479 766h0M1715 719h0M1723 732h0M1588 750h0M1565 749h0M1592 742h0M1679 774h0M1706 791h0M1484 809h0M1516 825h0M1492 822h0M1723 752h0M1723 759h0M1695 784h0M1673 764h0M1659 776h0M1516 820h0M1504 727h0M1511 722h0M1529 748h0M1570 769h0M1572 766h0M1562 768h0M1570 770h0M1543 782h0M1607 741h0M1587 721h0M1590 715h0M1559 805h0M1612 755h0M1614 768h0M1600 770h0M1611 774h0M1666 721h0M1690 734h0M1699 725h0M1682 746h0M1586 832h0M1588 796h0M1498 773h0M1529 770h0M1566 729h0M1579 736h0M1634 754h0M1604 751h0M1633 757h0M1616 754h0M1467 810h0M1459 809h0M1701 832h0M1691 822h0M1715 812h0M1687 821h0M1522 804h0M1533 794h0M1513 785h0M1540 782h0M1527 797h0M1585 745h0M1580 764h0M1685 773h0M1671 764h0M1662 762h0M1527 780h0M1507 800h0M1513 794h0M1736 825h0M1718 830h0M1704 818h0M1598 710h0M1619 720h0M1479 830h0M1503 826h0M1507 826h0M1507 819h0M1510 814h0M1521 831h0M1511 781h0M1512 783h0M1731 806h0M1739 796h0M1745 801h0M1727 789h0M1742 788h0M1717 720h0M1651 754h0M1523 828h0M1691 742h0M1689 763h0M1707 763h0M1683 763h0M1699 752h0M1525 811h0M1514 807h0M1519 825h0M1520 823h0M1529 812h0M1529 806h0M1519 720h0M1540 704h0M1521 707h0M1532 702h0M1533 758h0M1531 748h0M1541 764h0M1604 741h0M1610 742h0M1619 738h0M1604 746h0M1604 753h0M1611 754h0M1593 756h0M1515 703h0M1671 779h0M1659 794h0M1659 802h0M1675 778h0M1520 732h0M1507 724h0M1504 711h0M1514 790h0M1506 794h0M1482 788h0M1510 785h0M1519 816h0M1647 728h0M1625 698h0M1630 718h0M1476 743h0M1602 812h0M1584 812h0M1587 808h0M1598 815h0M1617 706h0M1612 734h0M1634 744h0M1579 819h0M1588 825h0M1570 825h0M1639 754h0M1643 748h0M1644 730h0M1645 725h0M1640 742h0M1552 817h0M1548 834h0M1547 843h0M1564 821h0M1551 832h0M1571 701h0M1545 750h0M1513 734h0M1523 750h0M1488 728h0M1708 755h0M1745 724h0M1721 751h0M1712 755h0M1724 739h0M1718 759h0M1707 758h0M1458 817h0M1483 822h0M1470 816h0M1463 779h0M1451 807h0M1649 724h0M1615 703h0M1628 691h0M1610 704h0M1606 720h0M1616 706h0M1612 722h0M1636 811h0M1577 784h0M1584 779h0M1549 712h0M1533 723h0M1693 768h0M1532 707h0M1517 709h0M1667 803h0M1649 789h0M1654 805h0M1632 733h0M1631 727h0M1620 722h0M1536 742h0M1541 728h0M1534 747h0M1556 746h0M1715 775h0M1735 786h0M1732 776h0M1709 757h0M1720 733h0M1510 714h0M1510 701h0M1502 725h0M1629 819h0M1632 831h0M1634 816h0M1643 819h0M1638 824h0M1632 816h0M1637 819h0M1578 818h0M1595 814h0M1581 801h0M1711 732h0M1719 691h0M1744 809h0M1737 806h0M1701 820h0M1675 833h0M1678 825h0M1488 784h0M1516 818h0M1495 797h0M1486 763h0M1470 825h0M1464 827h0M1492 826h0M1474 816h0M1494 713h0M1498 727h0M1486 741h0M1485 728h0M1493 728h0M1585 750h0M1580 740h0M1583 765h0M1688 752h0M1640 760h0M1692 736h0M1668 747h0M1670 755h0M1487 765h0M1510 750h0M1689 756h0M1662 752h0M1680 745h0M1677 776h0M1644 794h0M1653 797h0M1647 817h0M1504 814h0M1490 827h0M1498 812h0M1507 806h0M1497 822h0M1514 820h0M1495 825h0M1484 775h0M1552 782h0M1556 746h0M1565 786h0M1482 806h0M1492 797h0M1470 805h0M1499 804h0M1499 774h0M1699 805h0M1707 751h0M1640 726h0M1649 725h0M1656 719h0M1644 719h0M1645 702h0M1668 763h0M1658 777h0M1674 802h0M1681 781h0M1700 801h0M1692 810h0M1523 724h0M1526 724h0M1523 729h0M1533 722h0M1568 756h0M1568 741h0M1579 739h0M1571 760h0M1706 733h0M1601 823h0M1612 805h0M1613 825h0" stroke="#00ff00"/><path d="M1481 1053h0M1572 807h0M1583 1201h0M1580 1221h0M1579 1199h0M1578 1184h0M1553 953h0M1563 948h0M1514 1195h0M1447 947h0M1587 1003h0M1469 916h0M1459 908h0M1482 1273h0M1472 905h0M1564 1266h0M1452 1411h0M1564 968h0M1460 1029h0M1557 965h0M1513 1073h0M1496 1136h0M1453 1042h0M1486 1338h0M1502 1330h0M1460 991h0M1517 1348h0M1532 888h0M1474 1225h0M1576 1311h0M1467 1313h0M1537 824h0M1564 824h0M1464 1365h0M1460 1345h0M1544 1049h0M1474 970h0M1480 969h0M1467 977h0M1534 1038h0M1471 1045h0M1586 1155h0M1524 1056h0M1506 1050h0M1515 1216h0M1578 1122h0M1543 1107h0M1452 879h0M1459 895h0M1486 1357h0M1452 1063h0M1453 1049h0M1543 1285h0M1534 1285h0M1558 1017h0M1548 1011h0M1497 1071h0M1555 1010h0M1549 1069h0M1467 809h0M1483 1347h0M1548 997h0M1562 1066h0M1571 1199h0M1555 1235h0M1526 1143h0M1561 1334h0M1524 1195h0M1460 851h0M1451 863h0M1521 1223h0M1527 1229h0M1570 1218h0M1504 1082h0M1490 1076h0M1561 933h0M1475 978h0M1530 1187h0M1584 1343h0M1535 1260h0M1468 1009h0M1453 1011h0M1459 1191h0M1545 1394h0M1529 1346h0M1526 800h0M1539 1023h0M1488 1096h0M1569 902h0M1578 899h0M1576 1248h0M1577 1396h0M1577 870h0M1570 1323h0M1466 869h0M1482 861h0M1545 941h0M1495 837h0M1707 746h0M1678 797h0M1670 754h0M1536 798h0M1542 809h0M1608 757h0M1564 708h0M1628 748h0M1463 798h0M1458 813h0M1698 820h0M1509 780h0M1536 785h0M1598 755h0M1522 782h0M1720 823h0M1505 803h0M1468 813h0M1508 820h0M1506 823h0M1728 789h0M1695 729h0M1652 744h0M1522 834h0M1525 835h0M1700 760h0M1705 753h0M1526 705h0M1610 744h0M1674 790h0M1520 719h0M1639 722h0M1641 700h0M1592 823h0M1615 728h0M1580 815h0M1629 743h0M1518 760h0M1616 710h0M1704 769h0M1634 737h0M1628 716h0M1531 730h0M1539 727h0M1544 728h0M1730 753h0M1726 768h0M1731 760h0M1736 812h0M1716 751h0M1576 832h0M1600 798h0M1592 821h0M1724 720h0M1698 830h0M1676 814h0M1479 815h0M1482 817h0M1482 735h0M1578 756h0M1600 754h0M1476 771h0M1457 745h0M1498 771h0M1710 759h0M1669 758h0M1684 814h0M1694 762h0M1568 753h0M1569 764h0M1562 752h0M1709 730h0M1612 825h0M1481 1046h0M1565 810h0M1586 1204h0M1571 1227h0M1553 949h0M1564 944h0M1507 1190h0M1585 994h0M1466 921h0M1458 906h0M1482 1260h0M1471 908h0M1569 1261h0M1446 1414h0M1457 1039h0M1497 1146h0M1497 1331h0M1521 1353h0M1482 1228h0M1582 1309h0M1542 824h0M1574 825h0M1464 1363h0M1550 1043h0M1472 975h0M1468 981h0M1527 1044h0M1473 1048h0M1515 1059h0M1503 1048h0M1546 1104h0M1454 894h0M1487 1353h0M1455 1061h0M1535 1288h0M1553 1009h0M1502 1074h0M1559 1005h0M1494 1345h0M1557 1063h0M1560 1237h0M1465 846h0M1455 862h0M1520 1225h0M1574 1215h0M1488 1077h0M1558 933h0M1485 972h0M1535 1260h0M1465 1006h0M1450 1008h0M1537 1388h0M1535 1335h0M1537 1023h0M1490 1091h0M1563 904h0M1571 899h0M1576 878h0M1487 862h0M1712 743h0M1674 800h0M1550 813h0M1571 713h0M1627 750h0M1467 799h0M1449 816h0M1510 785h0M1536 781h0M1603 753h0M1521 781h0M1722 824h0M1512 818h0M1697 724h0M1535 840h0M1529 831h0M1610 743h0M1672 793h0M1524 719h0M1641 718h0M1647 702h0M1590 816h0M1611 729h0M1581 824h0M1626 741h0M1631 734h0M1626 713h0M1527 727h0M1728 757h0M1741 803h0M1727 749h0M1602 795h0M1593 824h0M1701 828h0M1681 803h0M1472 821h0M1476 819h0M1479 743h0M1710 764h0M1665 766h0M1569 743h0M1558 754h0" stroke="#00ff07"/><path d="M1487 1047h0M1534 1136h0M1525 1142h0M1479 1298h0M1570 945h0M1520 1338h0M1566 1002h0M1511 1197h0M1555 980h0M1552 928h0M1514 1104h0M1565 1370h0M1574 964h0M1502 1331h0M1574 1146h0M1533 1219h0M1457 1219h0M1464 1193h0M1464 1325h0M1548 1275h0M1555 1169h0M1506 1162h0M1513 1155h0M1503 1160h0M1509 1166h0M1488 1093h0M1466 1096h0M1533 975h0M1518 1251h0M1476 1056h0M1462 1380h0M1463 1191h0M1546 1191h0M1551 1182h0M1555 1118h0M1532 1124h0M1526 1203h0M1500 1357h0M1478 1353h0M1490 1349h0M1509 1221h0M1464 1144h0M1552 1170h0M1450 1195h0M1536 846h0M1546 816h0M1527 1100h0M1557 981h0M1545 1012h0M1560 870h0M1564 1343h0M1556 931h0M1497 1048h0M1522 1145h0M1481 1296h0M1569 955h0M1515 1341h0M1568 1006h0M1514 1196h0M1557 975h0M1570 961h0M1503 1326h0M1573 1148h0M1544 1215h0M1471 1193h0M1463 1321h0M1560 1170h0M1516 1155h0M1511 1167h0M1491 1092h0M1466 1090h0M1528 968h0M1475 1055h0M1462 1375h0M1555 1184h0M1557 1118h0M1485 1351h0M1493 1343h0M1511 1219h0M1468 1140h0M1554 1176h0M1532 816h0M1517 1088h0M1537 1014h0M1567 861h0M1562 1342h0M1562 928h0" stroke="#00b2ff"/><path d="M1535 1126h0M1488 1098h0M1573 1181h0M1556 1317h0M1561 1213h0M1538 1102h0M1474 1046h0M1517 1214h0M1543 897h0M1561 1264h0M1567 952h0M1534 1370h0M1454 1049h0M1510 1332h0M1564 855h0M1563 1322h0M1548 1281h0M1539 1281h0M1497 1299h0M1532 1150h0M1552 1045h0M1485 1245h0M1473 1084h0M1559 1241h0M1545 1131h0M1494 1253h0M1521 1254h0M1546 1224h0M1490 1092h0M1558 1062h0M1544 864h0M1555 1201h0M1489 1177h0M1524 1152h0M1534 1259h0M1530 1310h0M1494 1375h0M1508 1379h0M1561 1345h0M1520 1074h0M1564 950h0M1457 1190h0M1569 1218h0M1474 1158h0M1531 1049h0M1511 1107h0M1554 995h0M1449 1119h0M1566 999h0M1494 1291h0M1540 970h0M1529 744h0M1489 703h0M1465 765h0M1489 1097h0M1585 1182h0M1568 1322h0M1557 1218h0M1535 1108h0M1538 896h0M1509 1331h0M1561 861h0M1565 1324h0M1533 1282h0M1496 1297h0M1483 1241h0M1471 1089h0M1553 1242h0M1546 1226h0M1491 1087h0M1544 876h0M1555 1200h0M1476 1185h0M1526 1149h0M1532 1253h0M1529 1306h0M1571 1345h0M1521 1078h0M1563 958h0M1461 1191h0M1518 1117h0M1451 1120h0M1564 1000h0M1495 1283h0M1528 750h0M1465 766h0" stroke="#00cfff"/><path d="M1538 786h0M1465 944h0M1473 1386h0M1471 1021h0M1520 1221h0M1470 1040h0M1460 1021h0M1567 996h0M1466 902h0M1456 908h0M1459 1271h0M1453 1369h0M1578 956h0M1572 962h0M1575 1311h0M1517 1340h0M1525 1230h0M1459 835h0M1567 1028h0M1575 1079h0M1468 1027h0M1465 1031h0M1447 1030h0M1456 882h0M1475 879h0M1497 1332h0M1463 1040h0M1546 1074h0M1547 1065h0M1543 851h0M1451 1187h0M1518 1192h0M1486 1362h0M1518 1368h0M1499 1086h0M1465 1156h0M1497 828h0M1515 1188h0M1584 1341h0M1560 1157h0M1526 1271h0M1578 1258h0M1579 1216h0M1580 1220h0M1586 1008h0M1467 1132h0M1537 1000h0M1574 918h0M1499 1374h0M1563 875h0M1466 848h0M1547 776h0M1462 952h0M1529 1227h0M1471 1048h0M1466 899h0M1458 915h0M1448 1374h0M1575 957h0M1564 1317h0M1519 1344h0M1517 1229h0M1572 1018h0M1575 1074h0M1474 1025h0M1464 1044h0M1441 1027h0M1464 888h0M1458 1039h0M1539 1077h0M1536 1060h0M1451 1196h0M1490 1365h0M1516 1370h0M1494 1085h0M1468 1158h0M1490 829h0M1516 1194h0M1559 1155h0M1580 1258h0M1587 1208h0M1582 1221h0M1565 880h0M1466 845h0" stroke="#00ff2b"/><path d="M1459 1044h0M1462 1297h0M1530 1034h0M1532 1227h0M1460 1276h0M1474 1274h0M1458 1365h0M1549 1232h0M1565 1148h0M1562 1153h0M1562 847h0M1549 863h0M1462 1352h0M1468 1335h0M1559 1210h0M1559 1029h0M1572 845h0M1567 1346h0M1502 1364h0M1543 1279h0M1524 1279h0M1482 1063h0M1566 978h0M1536 1218h0M1456 1281h0M1466 1356h0M1533 1306h0M1560 953h0M1567 927h0M1574 1149h0M1524 1255h0M1454 1190h0M1544 1182h0M1542 822h0M1542 1011h0M1552 988h0M1561 1299h0M1569 1311h0M1573 1112h0M1574 1327h0M1509 1057h0M1562 929h0M1684 774h0M1547 714h0M1588 774h0M1727 744h0M1716 697h0M1564 761h0M1604 828h0M1462 1039h0M1460 1301h0M1537 1221h0M1479 1278h0M1450 1367h0M1551 1230h0M1565 1150h0M1563 1154h0M1560 855h0M1464 1341h0M1562 1039h0M1577 844h0M1567 1343h0M1493 1361h0M1539 1283h0M1519 1286h0M1563 992h0M1467 1352h0M1571 924h0M1447 1190h0M1545 1014h0M1568 1309h0M1577 1331h0M1537 712h0M1732 739h0M1568 777h0M1601 825h0" stroke="#00edff"/><path d="M1486 1062h0M1505 1123h0M1513 1123h0M1552 804h0M1545 794h0M1482 1285h0M1572 1014h0M1517 916h0M1557 1211h0M1478 1217h0M1452 1061h0M1527 991h0M1509 1112h0M1504 1173h0M1525 1116h0M1574 1147h0M1536 1122h0M1550 850h0M1547 1230h0M1454 1350h0M1546 1279h0M1528 1062h0M1550 1027h0M1573 1103h0M1537 1290h0M1493 1226h0M1498 1221h0M1496 1186h0M1501 1235h0M1501 1340h0M1469 1094h0M1474 1347h0M1533 788h0M1532 1142h0M1550 1195h0M1519 1054h0M1557 1321h0M1568 1101h0M1512 1250h0M1522 1243h0M1563 1327h0M1575 1354h0M1535 1143h0M1540 1374h0M1548 1164h0M1489 1325h0M1573 1326h0M1566 1317h0M1510 1119h0M1544 793h0M1475 1277h0M1513 911h0M1551 1209h0M1474 1220h0M1516 1108h0M1537 1117h0M1544 1232h0M1538 1279h0M1531 1059h0M1551 1016h0M1543 1277h0M1500 1227h0M1492 1221h0M1464 1093h0M1533 782h0M1518 1262h0M1566 1323h0M1581 1346h0M1527 1146h0M1540 1382h0M1491 1316h0" stroke="#0094ff"/><path d="M1495 1066h0M1563 805h0M1464 1306h0M1563 955h0M1536 1312h0M1475 1250h0M1452 1271h0M1544 891h0M1574 1156h0M1542 1244h0M1502 1331h0M1573 1153h0M1549 901h0M1544 1243h0M1560 1019h0M1460 1338h0M1496 1299h0M1536 1247h0M1497 1259h0M1558 1234h0M1565 992h0M1552 1221h0M1549 989h0M1552 1085h0M1563 1271h0M1557 1320h0M1462 1261h0M1463 1269h0M1538 1154h0M1528 1268h0M1537 842h0M1516 1343h0M1564 948h0M1534 1035h0M1535 992h0M1559 1004h0M1573 1261h0M1569 1246h0M1543 983h0M1614 696h0M1515 713h0M1635 824h0M1466 1311h0M1560 949h0M1451 1264h0M1569 1158h0M1545 1243h0M1577 1155h0M1550 896h0M1546 1241h0M1553 1022h0M1459 1328h0M1500 1307h0M1502 1256h0M1557 1227h0M1571 984h0M1549 986h0M1464 1269h0M1457 1266h0M1544 1150h0M1536 1273h0M1537 832h0M1556 947h0M1572 1244h0M1634 814h0" stroke="#00fff3"/><path d="M1458 1058h0M1479 1057h0M1548 790h0M1574 1269h0M1545 976h0M1545 892h0M1533 1365h0M1562 1251h0M1555 1261h0M1460 1336h0M1555 1381h0M1500 1050h0M1490 1075h0M1478 1045h0M1554 1349h0M1565 1111h0M1533 1295h0M1558 1222h0M1510 1104h0M1565 1329h0M1567 850h0M1452 1378h0M1533 1202h0M1544 1270h0M1555 1331h0M1464 1277h0M1553 959h0M1544 1222h0M1561 1313h0M1455 1201h0M1534 1107h0M1525 1088h0M1533 1101h0M1542 989h0M1541 1004h0M1551 954h0M1490 786h0M1516 781h0M1591 752h0M1479 749h0M1453 1057h0M1478 1050h0M1545 968h0M1572 1243h0M1555 1275h0M1491 1075h0M1560 1110h0M1561 1334h0M1569 843h0M1457 1387h0M1547 1272h0M1464 1270h0M1564 1302h0M1527 1091h0M1544 993h0M1540 1005h0M1555 953h0M1493 779h0M1511 784h0M1597 748h0M1480 750h0" stroke="#00ffd4"/><path d="M1546 1323h0M1522 1229h0M1527 1225h0M1525 1341h0M1496 1157h0M1524 930h0M1515 1017h0M1494 1210h0M1502 1060h0M1514 1136h0M1509 1167h0M1515 1182h0M1494 1341h0M1524 937h0M1518 1052h0M1573 1160h0M1557 1239h0M1531 1301h0M1506 1184h0M1568 1337h0M1508 1194h0M1497 1240h0M1489 1095h0M1525 1008h0M1573 1349h0M1570 1225h0M1477 1081h0M1554 1325h0M1476 1274h0M1516 1256h0M1489 1360h0M1569 1338h0M1495 1078h0M1527 1125h0M1527 1022h0M1538 1366h0M1477 1124h0M1497 1287h0M1525 1222h0M1525 1220h0M1530 925h0M1512 1017h0M1494 1209h0M1499 1062h0M1516 1135h0M1512 1168h0M1525 938h0M1509 1056h0M1569 1164h0M1549 1242h0M1499 1182h0M1503 1193h0M1573 1353h0M1572 1230h0M1481 1076h0M1480 1123h0" stroke="#0076ff"/><path d="M1476 1053h0M1529 1128h0M1567 1113h0M1539 1318h0M1547 1338h0M1540 1214h0M1523 1004h0M1512 1173h0M1514 1173h0M1512 1113h0M1529 1374h0M1544 1356h0M1523 941h0M1551 1228h0M1500 1307h0M1573 1163h0M1568 1181h0M1509 1161h0M1573 1276h0M1496 1234h0M1475 1245h0M1566 1234h0M1557 1223h0M1521 1010h0M1571 1336h0M1562 1273h0M1533 1378h0M1483 1338h0M1509 1224h0M1532 1165h0M1546 1143h0M1533 1360h0M1499 1119h0M1521 1066h0M1566 1117h0M1530 1316h0M1549 1339h0M1543 1216h0M1515 1011h0M1518 1177h0M1509 1171h0M1504 1111h0M1529 948h0M1551 1232h0M1490 1309h0M1576 1175h0M1483 1248h0M1470 1245h0M1564 1242h0M1523 1013h0M1483 1338h0M1545 1148h0M1533 1356h0M1502 1124h0" stroke="#005aff"/><path d="M1566 808h0M1457 1382h0M1543 1327h0M1572 1148h0M1545 986h0M1496 1122h0M1513 1349h0M1535 943h0M1542 1081h0M1588 1340h0M1577 1278h0M1483 1021h0M1558 1003h0M1586 1116h0M1460 1068h0M1546 1271h0M1582 1336h0M1553 1067h0M1465 1382h0M1551 1118h0M1465 1286h0M1527 1240h0M1501 1374h0M1504 1358h0M1471 989h0M1537 1247h0M1452 1193h0M1484 1178h0M1559 866h0M1550 929h0M1550 959h0M1541 951h0M1618 710h0M1539 694h0M1464 1385h0M1538 1330h0M1507 1348h0M1538 938h0M1537 1077h0M1573 1280h0M1477 1026h0M1560 993h0M1590 1113h0M1544 1269h0M1582 1336h0M1548 1119h0M1465 1289h0M1499 1375h0M1506 1359h0M1534 1250h0M1551 935h0M1546 959h0M1616 715h0" stroke="#00ff4f"/><path d="M1564 1309h0M1525 1211h0M1515 1203h0M1533 1229h0M1529 1243h0M1515 1241h0M1495 1148h0M1478 1160h0M1497 1212h0M1510 1110h0M1499 1163h0M1561 1235h0M1527 1107h0M1486 1160h0M1525 818h0M1523 1170h0M1506 1189h0M1493 1159h0M1517 971h0M1521 1016h0M1549 1339h0M1479 1106h0M1568 1171h0M1549 1102h0M1547 1206h0M1502 822h0M1492 818h0M1517 801h0M1522 810h0M1532 1026h0M1477 1196h0M1574 1224h0M1495 891h0M1540 1167h0M1524 811h0M1563 1312h0M1517 1209h0M1543 1230h0M1515 1229h0M1487 1151h0M1478 1164h0M1494 1210h0M1524 1111h0M1489 1162h0M1518 973h0M1522 1019h0M1569 1170h0M1548 1205h0M1500 815h0M1519 808h0M1493 886h0M1521 803h0" stroke="#1600eb"/><path d="M1520 1137h0M1522 1122h0M1553 1107h0M1540 1302h0M1554 1262h0M1574 1148h0M1496 1195h0M1564 1365h0M1506 871h0M1492 1223h0M1509 1175h0M1505 1190h0M1490 1248h0M1521 1021h0M1475 875h0M1556 1290h0M1480 1107h0M1479 1173h0M1516 1139h0M1520 1137h0M1531 1204h0M1529 1189h0M1510 1243h0M1574 1336h0M1497 818h0M1524 820h0M1572 1221h0M1494 1174h0M1492 1130h0M1522 882h0M1522 1139h0M1556 1255h0M1515 1176h0M1489 1195h0M1487 877h0M1548 1289h0M1476 1102h0M1522 1138h0M1521 1132h0M1523 1208h0M1528 1186h0M1504 1245h0M1500 813h0M1517 823h0M1488 1131h0" stroke="#2200e0"/><path d="M1555 1101h0M1528 1243h0M1527 1204h0M1493 1253h0M1521 1115h0M1506 1376h0M1518 1304h0M1556 1323h0M1520 1279h0M1516 1160h0M1521 1011h0M1489 1343h0M1560 1208h0M1488 1179h0M1554 1313h0M1562 1115h0M1489 1359h0M1484 1357h0M1514 1242h0M1508 1226h0M1557 1319h0M1557 1316h0M1499 814h0M1524 1183h0M1522 1180h0M1531 808h0M1528 1004h0M1502 1294h0M1521 881h0M1555 1092h0M1526 1203h0M1494 1248h0M1510 1374h0M1549 1331h0M1516 1159h0M1492 1349h0M1562 1204h0M1489 1183h0M1568 1122h0M1507 1228h0M1560 1317h0M1550 1309h0M1534 810h0M1498 1291h0M1521 885h0" stroke="#0022ff"/><path d="M1567 816h0M1462 1371h0M1556 1022h0M1558 904h0M1543 893h0M1551 903h0M1573 1255h0M1563 898h0M1552 1113h0M1564 864h0M1467 1203h0M1467 1313h0M1458 1302h0M1542 815h0M1530 1045h0M1572 833h0M1492 1070h0M1552 1333h0M1557 932h0M1510 1074h0M1465 1181h0M1544 847h0M1538 816h0M1458 1135h0M1503 1060h0M1546 959h0M1519 780h0M1602 715h0M1569 777h0M1589 760h0M1706 803h0M1459 1367h0M1550 903h0M1578 1250h0M1546 1099h0M1462 1311h0M1459 1300h0M1532 1051h0M1562 831h0M1513 1074h0M1465 1183h0M1544 842h0M1449 1144h0M1503 1055h0" stroke="#00ffb5"/><path d="M1523 1127h0M1558 1322h0M1480 898h0M1494 1226h0M1533 1240h0M1477 1204h0M1542 1289h0M1493 1311h0M1564 1181h0M1493 1145h0M1509 1314h0M1553 1375h0M1568 1379h0M1477 893h0M1514 1230h0M1523 1111h0M1485 1166h0M1539 1134h0M1557 1100h0M1508 1216h0M1567 1326h0M1515 947h0M1499 818h0M1516 816h0M1531 1264h0M1528 1014h0M1486 1295h0M1572 1322h0M1546 1288h0M1566 1178h0M1509 1315h0M1557 1377h0M1486 899h0M1515 1111h0M1489 1173h0M1566 1092h0M1510 1212h0M1576 1325h0M1511 946h0M1497 823h0M1514 819h0M1533 1260h0" stroke="#003eff"/><path d="M1526 1208h0M1526 1108h0M1481 1288h0M1523 917h0M1517 1214h0M1546 1225h0M1565 1264h0M1482 1116h0M1538 1355h0M1484 1162h0M1568 1150h0M1534 1133h0M1546 1242h0M1517 1149h0M1530 1161h0M1565 1168h0M1507 1222h0M1517 1162h0M1509 1167h0M1514 813h0M1487 1184h0M1559 1121h0M1535 1182h0M1510 1359h0M1486 1299h0M1538 1256h0M1517 858h0M1536 1198h0M1527 1006h0M1528 1111h0M1563 1267h0M1480 1117h0M1530 1136h0M1518 1155h0M1531 1166h0M1558 1168h0M1517 1156h0M1533 1181h0M1514 1352h0M1488 1296h0M1537 1255h0" stroke="#0006ff"/><path d="M1516 1105h0M1569 779h0M1513 1001h0M1567 1006h0M1521 998h0M1572 965h0M1583 1085h0M1553 1007h0M1567 1011h0M1566 1070h0M1557 923h0M1559 1064h0M1563 883h0M1516 1074h0M1559 943h0M1550 986h0M1554 999h0M1588 1378h0M1515 1045h0M1546 952h0M1601 702h0M1633 819h0M1622 818h0M1680 758h0M1518 1100h0M1514 996h0M1560 1001h0M1571 1014h0M1558 1058h0M1520 1069h0M1558 980h0M1553 997h0M1545 960h0M1607 701h0M1628 827h0M1679 761h0" stroke="#00ff73"/><path d="M1517 1210h0M1501 1221h0M1550 1213h0M1566 1316h0M1542 1265h0M1564 1169h0M1567 1170h0M1553 1346h0M1506 1158h0M1553 1221h0M1554 1231h0M1483 805h0M1540 1237h0M1499 1362h0M1523 1211h0M1564 1334h0M1528 1247h0M1495 1187h0M1546 1164h0M1543 1180h0M1478 1119h0M1517 1208h0M1498 1223h0M1569 1319h0M1575 1177h0M1574 1174h0M1557 1351h0M1505 1155h0M1548 1231h0M1527 1202h0M1525 1247h0M1499 1188h0" stroke="#0a00f6"/><path d="M1479 960h0M1487 949h0M1476 919h0M1512 928h0M1510 1019h0M1480 1001h0M1493 961h0M1493 950h0M1487 970h0M1484 954h0M1511 954h0M1485 972h0M1481 994h0M1485 1012h0M1505 996h0M1513 1023h0M1513 968h0M1502 964h0M1484 981h0M1483 992h0M1480 955h0M1479 916h0M1511 921h0M1509 1014h0M1480 995h0M1491 951h0M1476 956h0M1475 994h0M1502 994h0M1508 963h0M1482 982h0" stroke="#9a0080"/><path d="M1525 1133h0M1527 1139h0M1525 1236h0M1502 1207h0M1494 1115h0M1477 816h0M1482 814h0M1498 1210h0M1483 1245h0M1518 974h0M1529 972h0M1514 1243h0M1528 1208h0M1527 1142h0M1477 876h0M1526 1234h0M1501 823h0M1482 1157h0M1499 1207h0M1481 820h0M1496 1204h0M1483 1246h0M1519 981h0M1514 1234h0M1524 1227h0M1514 820h0M1485 1152h0" stroke="#2e00d8"/><path d="M1468 1303h0M1486 1038h0M1477 1035h0M1544 1033h0M1467 1369h0M1465 1081h0M1465 1019h0M1453 1041h0M1499 1158h0M1474 1237h0M1487 1050h0M1542 1067h0M1470 1288h0M1463 1190h0M1534 807h0M1462 1131h0M1656 732h0M1517 696h0M1483 1039h0M1480 1234h0M1474 1287h0M1647 737h0" stroke="#00ff96"/><path d="M1525 810h0M1528 920h0M1528 1020h0M1515 896h0M1483 830h0M1492 828h0M1523 828h0M1515 872h0M1519 814h0M1530 919h0M1526 1025h0M1480 843h0M1495 828h0M1521 820h0" stroke="#5000c0"/><path d="M1525 1113h0M1502 1206h0M1528 964h0M1520 1022h0M1508 1245h0M1504 826h0M1503 807h0M1476 866h0M1535 1115h0M1529 968h0M1502 1236h0M1504 819h0M1508 808h0" stroke="#3900d0"/><path d="M1476 818h0M1518 1029h0M1526 1019h0M1529 1020h0M1512 887h0M1526 884h0M1518 1008h0M1528 1016h0M1505 887h0M1524 880h0M1508 1010h0" stroke="#4400c8"/><path d="M1520 881h0M1519 892h0M1526 822h0M1515 870h0M1497 888h0M1516 891h0M1512 868h0M1490 888h0" stroke="#5a00b9"/><path d="M1508 892h0M1504 969h0M1487 986h0M1511 868h0M1502 882h0M1488 980h0" stroke="#6400b2"/><path d="M1481 961h0M1492 960h0M1508 1003h0M1509 1015h0M1481 964h0" stroke="#6e00ab"/><path d="M1481 992h0M1505 1017h0M1481 991h0" stroke="#80009b"/><path d="M1484 1023h0M1507 1010h0" stroke="#890092"/><path d="M1485 950h0M1475 975h0" stroke="#7800a4"/><path d="M1492 974h0M1496 972h0" stroke="#920089"/></g>
<path d="M1525.0 1380.0L1525.0 790.0L1528.0 772.0L1540.0 763.0L1560.0 761.0L1740.0 761.0" fill="none" stroke="#c3262a" stroke-width="18" stroke-linejoin="round" stroke-linecap="butt"/>
<path d="M1588.4 749.8L1605.9 778.8H1570.9zM1522.5 895.7L1540.0 924.7H1505.0zM1524.9 1112.0L1542.4 1141.0H1507.4zM1528.0 1346.7L1545.5 1375.7H1510.5z" fill="#000"/>
</g>
<rect x="1289" y="617" width="440" height="841.5" fill="none" stroke="#fff" stroke-width="4.5"/>
<path d="M1443.6 862.8H1591.4M1446.8 978.8H1585.6M1445.2 1240.5H1592" stroke="#fff" stroke-width="8.7"/>
<text x="1327" y="896" font-size="66" font-weight="normal" font-style="normal" text-anchor="start" fill="#fff" stroke="#000" stroke-width="1.6" paint-order="stroke" stroke-linejoin="round" >Pf2</text>
<text x="1328" y="1022" font-size="65" font-weight="normal" font-style="normal" text-anchor="start" fill="#fff" stroke="#000" stroke-width="1.6" paint-order="stroke" stroke-linejoin="round" >Pf3</text>
<text x="1330" y="1260.5" font-size="65" font-weight="normal" font-style="normal" text-anchor="start" fill="#fff" stroke="#000" stroke-width="1.6" paint-order="stroke" stroke-linejoin="round" >Pf1</text>
<text x="1297" y="737" font-size="123" font-weight="normal" font-style="normal" text-anchor="start" fill="#fff" stroke="#000" stroke-width="1.8" paint-order="stroke" stroke-linejoin="round" letter-spacing="1.5">(b)</text>
<text x="1624" y="791" font-size="63" font-weight="bold" font-style="italic" text-anchor="start" fill="#fff" stroke="#000" stroke-width="2.6" paint-order="stroke" stroke-linejoin="round" letter-spacing="0.8">Zumiao</text>
<text x="1573" y="939" font-size="63" font-weight="bold" font-style="italic" text-anchor="start" fill="#fff" stroke="#000" stroke-width="2.6" paint-order="stroke" stroke-linejoin="round" >Tongji Lu</text>
<text x="1574" y="1162" font-size="64.5" font-weight="bold" font-style="italic" text-anchor="start" fill="#fff" stroke="#000" stroke-width="2.6" paint-order="stroke" stroke-linejoin="round" >Jihua Park</text>
<text x="1568" y="1400.5" font-size="62" font-weight="bold" font-style="italic" text-anchor="start" fill="#fff" stroke="#000" stroke-width="2.6" paint-order="stroke" stroke-linejoin="round" letter-spacing="1.2">Kuiqi Lu</text>
<text x="1024" y="187" font-size="64.5" font-weight="bold" font-style="italic" text-anchor="start" fill="#fff" stroke="#000" stroke-width="2.6" paint-order="stroke" stroke-linejoin="round" letter-spacing="0.2">Financial</text>
<text x="1024" y="264.5" font-size="64.5" font-weight="bold" font-style="italic" text-anchor="start" fill="#fff" stroke="#000" stroke-width="2.6" paint-order="stroke" stroke-linejoin="round" letter-spacing="0.2">Hi-tech Zone</text>
<text x="1582" y="391" font-size="62.5" font-weight="bold" font-style="italic" text-anchor="start" fill="#fff" stroke="#000" stroke-width="2.6" paint-order="stroke" stroke-linejoin="round" letter-spacing="0.8">Longxi</text>
<text x="392" y="478.5" font-size="113" font-weight="normal" font-style="normal" text-anchor="start" fill="#fff" stroke="#000" stroke-width="1.8" paint-order="stroke" stroke-linejoin="round" letter-spacing="0.3">Line GF</text>
<text x="2078" y="229" font-size="123" font-weight="normal" font-style="normal" text-anchor="start" fill="#fff" stroke="#000" stroke-width="1.8" paint-order="stroke" stroke-linejoin="round" letter-spacing="1">(a)</text>
<text x="589.5" y="1198" font-size="119" fill="#fff">b</text>
<rect x="754.5" y="1295.5" width="381" height="181" fill="#fff" fill-opacity="0.6" stroke="#111" stroke-width="5"/>
<text x="780.5" y="1394.6" font-size="85" fill="#000">0</text>
<text x="948.7" y="1394.6" font-size="86.5" fill="#000">2km</text>
<path d="M806.4 1417V1436.6H1053V1417" fill="none" stroke="#000" stroke-width="9.5"/>
<g fill="#fff">
<text x="2097.6" y="624.6" font-size="146" fill="#fff">N</text>
<path d="M2150.5 646L2166 692H2135z" fill="#000" stroke="#fff" stroke-width="8" stroke-linejoin="miter"/>
<rect x="2144.8" y="695" width="11.4" height="228"/>
<rect x="2084.2" y="780.6" width="133" height="9"/>
<circle cx="2150.5" cy="785.1" r="33.4" fill="none" stroke="#fff" stroke-width="9.6"/>
</g>
<rect x="1960.8" y="956.8" width="302.7" height="517.7" fill="#fff" stroke="#000" stroke-width="2.8"/>
<text x="1993.3" y="1020.8" font-size="60" font-family="Liberation Serif, Times New Roman, serif" fill="#231f20">mm/yr</text>
<rect x="2026.7" y="1091" width="92.8" height="306.5" fill="url(#cb)" stroke="#000" stroke-width="4.6"/>
<path d="M2022.5 1091L2072.5 1046L2122.5 1091z" fill="#fff" stroke="#000" stroke-width="4.6" stroke-linejoin="miter"/>
<path d="M2022.5 1397.5L2072.5 1443L2122.5 1397.5z" fill="#a0007a" stroke="#000" stroke-width="4.6" stroke-linejoin="miter"/>
<path d="M2121.8 1151.5H2143.4M2121.8 1274.5H2143.4M2121.8 1397.5H2143.4" stroke="#231f20" stroke-width="2"/>
<text x="2231" y="1171" text-anchor="end" font-size="58.5" font-family="Liberation Serif, Times New Roman, serif" fill="#231f20">0</text>
<text x="2231" y="1294" text-anchor="end" font-size="58.5" font-family="Liberation Serif, Times New Roman, serif" fill="#231f20">−4</text>
<text x="2231" y="1417" text-anchor="end" font-size="58.5" font-family="Liberation Serif, Times New Roman, serif" fill="#231f20">−8</text>
<rect x="252.5" y="108.5" width="2011.0" height="1366.0" fill="none" stroke="#000" stroke-width="3"/>
<path d="M283.3 108.5V96.0M283.3 1474.5V1487.5M418.6 108.5V83.5M418.6 1474.5V1500.0M554.0 108.5V96.0M554.0 1474.5V1487.5M689.3 108.5V96.0M689.3 1474.5V1487.5M824.7 108.5V96.0M824.7 1474.5V1487.5M960.0 108.5V96.0M960.0 1474.5V1487.5M1095.4 108.5V83.5M1095.4 1474.5V1500.0M1230.8 108.5V96.0M1230.8 1474.5V1487.5M1366.1 108.5V96.0M1366.1 1474.5V1487.5M1501.4 108.5V96.0M1501.4 1474.5V1487.5M1636.8 108.5V96.0M1636.8 1474.5V1487.5M1772.1 108.5V83.5M1772.1 1474.5V1500.0M1907.5 108.5V96.0M1907.5 1474.5V1487.5M2042.8 108.5V96.0M2042.8 1474.5V1487.5M2178.2 108.5V96.0M2178.2 1474.5V1487.5M252.5 142.1H239.0M2263.5 142.1H2275.5M252.5 288.3H239.0M2263.5 288.3H2275.5M252.5 434.5H239.0M2263.5 434.5H2275.5M252.5 580.7H226.0M2263.5 580.7H2288.5M252.5 726.9H239.0M2263.5 726.9H2275.5M252.5 873.1H239.0M2263.5 873.1H2275.5M252.5 1019.3H239.0M2263.5 1019.3H2275.5M252.5 1165.5H239.0M2263.5 1165.5H2275.5M252.5 1311.7H226.0M2263.5 1311.7H2288.5M252.5 1457.9H239.0M2263.5 1457.9H2275.5" stroke="#000" stroke-width="2.2" fill="none"/>
<text x="420.1" y="78.2" text-anchor="middle" font-size="67.5" letter-spacing="-0.6" fill="#231f20">113<tspan font-size="50" dy="-12.5">°</tspan><tspan dy="12.5">06'</tspan></text>
<text x="1096.9" y="78.2" text-anchor="middle" font-size="67.5" letter-spacing="-0.6" fill="#231f20">113<tspan font-size="50" dy="-12.5">°</tspan><tspan dy="12.5">09'</tspan></text>
<text x="1773.7" y="78.2" text-anchor="middle" font-size="67.5" letter-spacing="-0.6" fill="#231f20">113<tspan font-size="50" dy="-12.5">°</tspan><tspan dy="12.5">12'</tspan></text>
<text x="1880.4" y="78.3" font-size="48.5" fill="#231f20">E</text>
<text x="200" y="605.8" text-anchor="end" font-size="67.5" letter-spacing="-0.6" fill="#231f20">23<tspan font-size="50" dy="-12.5">°</tspan><tspan dy="12.5">03'</tspan></text>
<text x="196" y="1336" text-anchor="end" font-size="67.5" letter-spacing="-0.6" fill="#231f20">23<tspan font-size="50" dy="-12.5">°</tspan><tspan dy="12.5">00'</tspan></text>
<text x="201.4" y="1336" font-size="43.6" fill="#231f20">N</text>
<path d="M338.3 2213.0V2227.0M338.3 1517.0V1505.0M393.8 2213.0V2227.0M393.8 1517.0V1505.0M449.4 2213.0V2238.0M449.4 1517.0V1494.0M504.9 2213.0V2227.0M504.9 1517.0V1505.0M560.4 2213.0V2227.0M560.4 1517.0V1505.0M616.0 2213.0V2227.0M616.0 1517.0V1505.0M671.5 2213.0V2227.0M671.5 1517.0V1505.0M727.1 2213.0V2238.0M727.1 1517.0V1494.0M782.6 2213.0V2227.0M782.6 1517.0V1505.0M838.2 2213.0V2227.0M838.2 1517.0V1505.0M893.7 2213.0V2227.0M893.7 1517.0V1505.0M949.2 2213.0V2227.0M949.2 1517.0V1505.0M1004.8 2213.0V2238.0M1004.8 1517.0V1494.0M1060.3 2213.0V2227.0M1060.3 1517.0V1505.0M1115.9 2213.0V2227.0M1115.9 1517.0V1505.0M1171.4 2213.0V2227.0M1171.4 1517.0V1505.0M1227.0 2213.0V2227.0M1227.0 1517.0V1505.0M1282.5 2213.0V2238.0M1282.5 1517.0V1494.0M1338.0 2213.0V2227.0M1338.0 1517.0V1505.0M1393.6 2213.0V2227.0M1393.6 1517.0V1505.0M1449.1 2213.0V2227.0M1449.1 1517.0V1505.0M1504.7 2213.0V2227.0M1504.7 1517.0V1505.0M1560.2 2213.0V2238.0M1560.2 1517.0V1494.0M1615.8 2213.0V2227.0M1615.8 1517.0V1505.0M1671.3 2213.0V2227.0M1671.3 1517.0V1505.0M1726.8 2213.0V2227.0M1726.8 1517.0V1505.0M1782.4 2213.0V2227.0M1782.4 1517.0V1505.0M1837.9 2213.0V2238.0M1837.9 1517.0V1494.0M1893.5 2213.0V2227.0M1893.5 1517.0V1505.0M1949.0 2213.0V2227.0M1949.0 1517.0V1505.0M2004.6 2213.0V2227.0M2004.6 1517.0V1505.0M2060.1 2213.0V2227.0M2060.1 1517.0V1505.0M2115.6 2213.0V2238.0M2115.6 1517.0V1494.0M2171.2 2213.0V2227.0M2171.2 1517.0V1505.0M2226.7 2213.0V2227.0M2226.7 1517.0V1505.0M310.5 2213.0H285.0M2254.5 2213.0H2279.5M310.5 2169.5H296.5M2254.5 2169.5H2268.0M310.5 2126.0H285.0M2254.5 2126.0H2279.5M310.5 2082.5H296.5M2254.5 2082.5H2268.0M310.5 2039.0H285.0M2254.5 2039.0H2279.5M310.5 1995.5H296.5M2254.5 1995.5H2268.0M310.5 1952.0H285.0M2254.5 1952.0H2279.5M310.5 1908.5H296.5M2254.5 1908.5H2268.0M310.5 1865.0H285.0M2254.5 1865.0H2279.5M310.5 1821.5H296.5M2254.5 1821.5H2268.0M310.5 1778.0H285.0M2254.5 1778.0H2279.5M310.5 1734.5H296.5M2254.5 1734.5H2268.0M310.5 1691.0H285.0M2254.5 1691.0H2279.5M310.5 1647.5H296.5M2254.5 1647.5H2268.0M310.5 1604.0H285.0M2254.5 1604.0H2279.5M310.5 1560.5H296.5M2254.5 1560.5H2268.0M310.5 1517.0H285.0M2254.5 1517.0H2279.5" stroke="#000" stroke-width="4.5" fill="none"/>
<rect x="310.5" y="1517.0" width="1944.0" height="696.0" fill="none" stroke="#000" stroke-width="5.5"/>
<path d="M1281.3 1517.0V2213.0" stroke="#000" stroke-width="9"/>
<text x="269" y="2229.3" text-anchor="end" font-size="54.5" fill="#231f20">−14</text>
<text x="269" y="2142.3" text-anchor="end" font-size="54.5" fill="#231f20">−12</text>
<text x="269" y="2055.3" text-anchor="end" font-size="54.5" fill="#231f20">−10</text>
<text x="269" y="1968.3" text-anchor="end" font-size="54.5" fill="#231f20">−8</text>
<text x="269" y="1881.3" text-anchor="end" font-size="54.5" fill="#231f20">−6</text>
<text x="269" y="1794.3" text-anchor="end" font-size="54.5" fill="#231f20">−4</text>
<text x="269" y="1707.3" text-anchor="end" font-size="54.5" fill="#231f20">−2</text>
<text x="269" y="1620.3" text-anchor="end" font-size="54.5" fill="#231f20">0</text>
<text x="269" y="1533.3" text-anchor="end" font-size="54.5" fill="#231f20">2</text>
<text x="447.2" y="2293.8" text-anchor="middle" font-size="54" fill="#231f20">−300</text>
<text x="724.9" y="2293.8" text-anchor="middle" font-size="54" fill="#231f20">−200</text>
<text x="1002.6" y="2293.8" text-anchor="middle" font-size="54" fill="#231f20">−100</text>
<text x="1280.3" y="2293.8" text-anchor="middle" font-size="54" fill="#231f20">0</text>
<text x="1558.0" y="2293.8" text-anchor="middle" font-size="54" fill="#231f20">100</text>
<text x="1835.7" y="2293.8" text-anchor="middle" font-size="54" fill="#231f20">200</text>
<text x="2113.4" y="2293.8" text-anchor="middle" font-size="54" fill="#231f20">300</text>
<text x="1130" y="2345.7" font-size="67" fill="#231f20">Prof. line (m)</text>
<text transform="translate(161.2,1868) rotate(-90)" text-anchor="middle" font-size="71.5" fill="#231f20">Velocity(mm/yr)</text>
<text x="2074" y="1650" font-size="122" font-weight="bold" fill="#000">(c)</text>
<path d="M613.6 1589.9L630.6 1619.4H596.6zM638.6 1613.3L655.6 1642.8H621.6zM593.3 1621.1L610.3 1650.6H576.3zM605.7 1650.9L622.7 1680.4H588.7zM611.0 1654.0L628.0 1683.5H594.0zM824.6 1674.2L841.6 1703.7H807.6zM820.7 1701.0L837.7 1730.5H803.7zM828.4 1705.1L845.4 1734.6H811.4zM922.7 1730.0L939.7 1759.5H905.7zM996.0 1723.4L1013.0 1752.9H979.0zM1016.5 1722.3L1033.5 1751.8H999.5zM1022.0 1730.0L1039.0 1759.5H1005.0zM1263.0 1758.5L1280.0 1788.0H1246.0zM1282.2 1762.0L1299.2 1791.5H1265.2zM1504.3 1655.9L1521.3 1685.4H1487.3zM1498.3 1661.4L1515.3 1690.9H1481.3zM1520.1 1675.0L1537.1 1704.5H1503.1zM1489.5 1689.2L1506.5 1718.7H1472.5zM1531.9 1716.0L1548.9 1745.5H1514.9zM1563.9 1689.8L1580.9 1719.3H1546.9zM1555.7 1700.2L1572.7 1729.7H1538.7zM1682.8 1643.6L1699.8 1673.1H1665.8zM1691.0 1673.1L1708.0 1702.6H1674.0zM1719.2 1671.5L1736.2 1701.0H1702.2zM1741.6 1662.2L1758.6 1691.7H1724.6zM1795.5 1660.5L1812.5 1690.0H1778.5zM1802.4 1662.2L1819.4 1691.7H1785.4zM1796.4 1698.3L1813.4 1727.8H1779.4zM1870.7 1647.7L1887.7 1677.2H1853.7zM1880.3 1649.6L1897.3 1679.1H1863.3zM1885.2 1651.2L1902.2 1680.7H1868.2zM2007.4 1627.7L2024.4 1657.2H1990.4zM2016.4 1642.8L2033.4 1672.3H1999.4zM2069.7 1638.1L2086.7 1667.6H2052.7zM2073.0 1650.4L2090.0 1679.9H2056.0z" fill="#ff0000"/>
<path d="M411.9 1574.8l26.0 26.0M411.9 1600.8l26.0 -26.0M491.0 1556.2l26.0 26.0M491.0 1582.2l26.0 -26.0M479.2 1591.0l26.0 26.0M479.2 1617.0l26.0 -26.0M538.3 1586.4l26.0 26.0M538.3 1612.4l26.0 -26.0M590.9 1580.6l26.0 26.0M590.9 1606.6l26.0 -26.0M584.9 1601.1l26.0 26.0M584.9 1627.1l26.0 -26.0M603.3 1621.9l26.0 26.0M603.3 1647.9l26.0 -26.0M619.8 1656.8l26.0 26.0M619.8 1682.8l26.0 -26.0M691.8 1765.4l26.0 26.0M691.8 1791.4l26.0 -26.0M967.1 1840.5l26.0 26.0M967.1 1866.5l26.0 -26.0M972.6 1869.2l26.0 26.0M972.6 1895.2l26.0 -26.0M1583.7 1802.8l26.0 26.0M1583.7 1828.8l26.0 -26.0M1508.5 1837.8l26.0 26.0M1508.5 1863.8l26.0 -26.0M1514.0 1843.2l26.0 26.0M1514.0 1869.2l26.0 -26.0M1508.0 1859.7l26.0 26.0M1508.0 1885.7l26.0 -26.0M1705.3 1708.8l26.0 26.0M1705.3 1734.8l26.0 -26.0M1711.4 1709.8l26.0 26.0M1711.4 1735.8l26.0 -26.0M1734.0 1711.5l26.0 26.0M1734.0 1737.5l26.0 -26.0M1692.2 1736.6l26.0 26.0M1692.2 1762.6l26.0 -26.0M1719.8 1736.6l26.0 26.0M1719.8 1762.6l26.0 -26.0M1991.7 1567.7l26.0 26.0M1991.7 1593.7l26.0 -26.0M1871.4 1643.7l26.0 26.0M1871.4 1669.7l26.0 -26.0M1889.2 1615.0l26.0 26.0M1889.2 1641.0l26.0 -26.0M1890.5 1619.0l26.0 26.0M1890.5 1645.0l26.0 -26.0M1894.6 1605.4l26.0 26.0M1894.6 1631.4l26.0 -26.0M1897.4 1600.0l26.0 26.0M1897.4 1626.0l26.0 -26.0M1886.4 1612.2l26.0 26.0M1886.4 1638.2l26.0 -26.0M2082.7 1635.5l26.0 26.0M2082.7 1661.5l26.0 -26.0M2105.1 1643.7l26.0 26.0M2105.1 1669.7l26.0 -26.0M2136.0 1601.3l26.0 26.0M2136.0 1627.3l26.0 -26.0M832.6 1915.7l26.0 26.0M832.6 1941.7l26.0 -26.0M855.0 1957.2l26.0 26.0M855.0 1983.2l26.0 -26.0M1036.3 1942.2l26.0 26.0M1036.3 1968.2l26.0 -26.0M1138.2 2005.0l26.0 26.0M1138.2 2031.0l26.0 -26.0M1113.4 2081.6l26.0 26.0M1113.4 2107.6l26.0 -26.0M1150.5 2068.0l26.0 26.0M1150.5 2094.0l26.0 -26.0M1186.6 2081.6l26.0 26.0M1186.6 2107.6l26.0 -26.0M1192.9 2098.0l26.0 26.0M1192.9 2124.0l26.0 -26.0M1237.2 2098.0l26.0 26.0M1237.2 2124.0l26.0 -26.0M1188.0 2126.7l26.0 26.0M1188.0 2152.7l26.0 -26.0M1201.7 2141.7l26.0 26.0M1201.7 2167.7l26.0 -26.0M1268.6 2137.6l26.0 26.0M1268.6 2163.6l26.0 -26.0M1287.6 2032.4l26.0 26.0M1287.6 2058.4l26.0 -26.0M1309.0 2027.0l26.0 26.0M1309.0 2053.0l26.0 -26.0M1306.2 2039.8l26.0 26.0M1306.2 2065.8l26.0 -26.0M1309.5 2031.0l26.0 26.0M1309.5 2057.0l26.0 -26.0M1303.5 2069.3l26.0 26.0M1303.5 2095.3l26.0 -26.0M1352.7 2097.2l26.0 26.0M1352.7 2123.2l26.0 -26.0M1311.1 2124.0l26.0 26.0M1311.1 2150.0l26.0 -26.0" stroke="#0000ff" stroke-width="2.8" fill="none"/>
<path d="M458.7 1598.0h27.0v27.0h-27.0zM478.9 1604.0h27.0v27.0h-27.0zM537.8 1611.9h27.0v27.0h-27.0zM672.9 1646.1h27.0v27.0h-27.0zM729.7 1632.9h27.0v27.0h-27.0zM751.0 1636.6h27.0v27.0h-27.0zM739.7 1653.2h27.0v27.0h-27.0zM741.5 1654.5h27.0v27.0h-27.0zM826.1 1603.3h27.0v27.0h-27.0zM834.3 1598.1h27.0v27.0h-27.0zM844.4 1654.4h27.0v27.0h-27.0zM852.6 1658.2h27.0v27.0h-27.0zM856.7 1679.3h27.0v27.0h-27.0zM1008.2 1749.0h27.0v27.0h-27.0zM1050.3 1773.6h27.0v27.0h-27.0zM1064.2 1767.6h27.0v27.0h-27.0zM1058.7 1794.1h27.0v27.0h-27.0zM1089.9 1794.9h27.0v27.0h-27.0zM1173.6 1824.2h27.0v27.0h-27.0zM1182.6 1834.0h27.0v27.0h-27.0zM1202.5 1824.5h27.0v27.0h-27.0zM1194.5 1837.0h27.0v27.0h-27.0zM1367.2 1788.6h27.0v27.0h-27.0zM1388.0 1790.5h27.0v27.0h-27.0zM1412.3 1817.6h27.0v27.0h-27.0zM1520.6 1705.5h27.0v27.0h-27.0zM1529.1 1781.2h27.0v27.0h-27.0zM1696.6 1592.3h27.0v27.0h-27.0zM1705.9 1591.5h27.0v27.0h-27.0zM1708.7 1599.7h27.0v27.0h-27.0zM1756.0 1680.4h27.0v27.0h-27.0zM1775.5 1593.4h27.0v27.0h-27.0zM1813.2 1593.4h27.0v27.0h-27.0zM1822.5 1587.5h27.0v27.0h-27.0zM1835.3 1588.8h27.0v27.0h-27.0zM1842.2 1578.4h27.0v27.0h-27.0zM1895.5 1590.2h27.0v27.0h-27.0zM1901.0 1580.3h27.0v27.0h-27.0zM1907.2 1578.4h27.0v27.0h-27.0zM1967.7 1580.9h27.0v27.0h-27.0zM2042.8 1593.7h27.0v27.0h-27.0z" fill="#00ff00"/>
<path d="M2018.9 1905.5L2042.2 1945.7H1995.6z" fill="#ff0000"/>
<rect x="1999.8" y="1993.1" width="41.2" height="41" fill="#00ff00"/>
<path d="M2004.2 2080.3L2038.9 2114M2004.2 2114L2038.9 2080.3" stroke="#0000ff" stroke-width="2.8"/>
<text x="2076.4" y="1942" font-size="57.5" font-style="italic" fill="#000">Pf1</text>
<text x="2078.5" y="2028" font-size="57.5" font-style="italic" fill="#000">Pf2</text>
<text x="2081" y="2114" font-size="57.5" font-style="italic" fill="#000">Pf3</text>
</svg></body></html>
